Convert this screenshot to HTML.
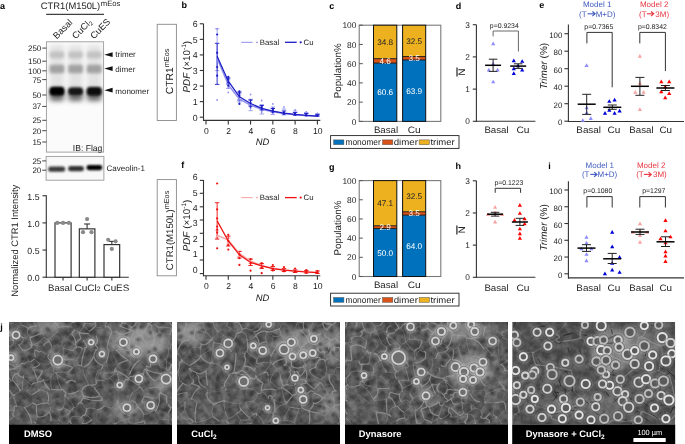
<!DOCTYPE html>
<html><head><meta charset="utf-8"><style>
html,body{margin:0;padding:0;background:#fff;}
svg{display:block;font-family:"Liberation Sans", sans-serif;text-rendering:geometricPrecision;will-change:transform;}
</style></head><body>
<svg width="685" height="444" viewBox="0 0 685 444">
<rect x="0" y="0" width="685" height="444" fill="#fff"/>
<text x="0.00" y="8.60" font-size="9" text-anchor="start" font-weight="bold" font-style="normal" fill="#000" >a</text>
<text x="181.50" y="8.20" font-size="9" text-anchor="start" font-weight="bold" font-style="normal" fill="#000" >b</text>
<text x="329.30" y="8.60" font-size="9" text-anchor="start" font-weight="bold" font-style="normal" fill="#000" >c</text>
<text x="455.70" y="9.20" font-size="9" text-anchor="start" font-weight="bold" font-style="normal" fill="#000" >d</text>
<text x="539.20" y="8.40" font-size="9" text-anchor="start" font-weight="bold" font-style="normal" fill="#000" >e</text>
<text x="181.20" y="167.80" font-size="9" text-anchor="start" font-weight="bold" font-style="normal" fill="#000" >f</text>
<text x="329.00" y="169.80" font-size="9" text-anchor="start" font-weight="bold" font-style="normal" fill="#000" >g</text>
<text x="455.60" y="169.00" font-size="9" text-anchor="start" font-weight="bold" font-style="normal" fill="#000" >h</text>
<text x="548.20" y="169.00" font-size="9" text-anchor="start" font-weight="bold" font-style="normal" fill="#000" >i</text>
<text x="0.20" y="330.20" font-size="9" text-anchor="start" font-weight="bold" font-style="normal" fill="#000" >j</text>
<text x="40.80" y="8.80" font-size="9.4" text-anchor="start" font-weight="normal" font-style="normal" fill="#222" >CTR1(M150L)<tspan font-size="7.7" dy="-3.2" dx="0.6">mEos</tspan></text>
<line x1="46.20" y1="14.30" x2="104.00" y2="14.30" stroke="#111" stroke-width="1" />
<text x="56.70" y="39.40" font-size="9.2" text-anchor="start" font-weight="normal" font-style="normal" fill="#222" transform="rotate(-45 56.7 39.4)">Basal</text>
<text x="75.70" y="39.40" font-size="9.2" text-anchor="start" font-weight="normal" font-style="normal" fill="#222" transform="rotate(-45 75.7 39.4)">CuCl<tspan font-size="6" dy="1.5">2</tspan></text>
<text x="93.90" y="39.40" font-size="9.2" text-anchor="start" font-weight="normal" font-style="normal" fill="#222" transform="rotate(-45 93.9 39.4)">CuES</text>
<defs><filter id="bl1" x="-50%" y="-50%" width="200%" height="200%"><feGaussianBlur stdDeviation="1.6"/></filter><filter id="bl2" x="-50%" y="-50%" width="200%" height="200%"><feGaussianBlur stdDeviation="1.0"/></filter><filter id="bl3" x="-50%" y="-50%" width="200%" height="200%"><feGaussianBlur stdDeviation="2.4"/></filter><clipPath id="cb1"><rect x="46.4" y="41.8" width="57.2" height="110.3"/></clipPath><clipPath id="cb2"><rect x="46.1" y="156.4" width="57.8" height="23.8"/></clipPath></defs>
<rect x="46.40" y="41.80" width="57.20" height="110.30" fill="#fbfbfb" stroke="none" stroke-width="1" />
<g clip-path="url(#cb1)">
<rect x="49.75" y="45" width="14.50" height="46" fill="#e2e2e2" filter="url(#bl3)"/>
<rect x="49.75" y="51.6" width="14.50" height="6.6" rx="2" fill="#c2c2c2" filter="url(#bl1)"/>
<rect x="49.55" y="64.8" width="14.90" height="8.4" rx="2" fill="#a2a2a2" filter="url(#bl1)"/>
<rect x="49.75" y="89" width="14.50" height="12" rx="3" fill="#6a6a6a" filter="url(#bl3)"/>
<rect x="49.55" y="86.80" width="14.90" height="8.8" rx="3.5" fill="#060606" filter="url(#bl2)"/>
<rect x="68.35" y="45" width="14.50" height="46" fill="#e2e2e2" filter="url(#bl3)"/>
<rect x="68.35" y="51.6" width="14.50" height="6.6" rx="2" fill="#c2c2c2" filter="url(#bl1)"/>
<rect x="68.15" y="64.8" width="14.90" height="8.4" rx="2" fill="#a2a2a2" filter="url(#bl1)"/>
<rect x="68.35" y="89" width="14.50" height="12" rx="3" fill="#6a6a6a" filter="url(#bl3)"/>
<rect x="68.15" y="87.40" width="14.90" height="7.6" rx="3.5" fill="#181818" filter="url(#bl2)"/>
<rect x="86.95" y="45" width="14.50" height="46" fill="#e2e2e2" filter="url(#bl3)"/>
<rect x="86.95" y="51.6" width="14.50" height="6.6" rx="2" fill="#c2c2c2" filter="url(#bl1)"/>
<rect x="86.75" y="64.8" width="14.90" height="8.4" rx="2" fill="#a2a2a2" filter="url(#bl1)"/>
<rect x="86.95" y="89" width="14.50" height="12" rx="3" fill="#6a6a6a" filter="url(#bl3)"/>
<rect x="86.75" y="86.90" width="14.90" height="8.6" rx="3.5" fill="#080808" filter="url(#bl2)"/>
</g>
<rect x="46.40" y="41.80" width="57.20" height="110.30" fill="none" stroke="#9a9a9a" stroke-width="0.9" />
<text x="41.30" y="51.00" font-size="8" text-anchor="end" font-weight="normal" font-style="normal" fill="#222" >250</text>
<line x1="42.20" y1="48.10" x2="46.40" y2="48.10" stroke="#333" stroke-width="0.9" />
<text x="41.30" y="64.10" font-size="8" text-anchor="end" font-weight="normal" font-style="normal" fill="#222" >150</text>
<line x1="42.20" y1="61.20" x2="46.40" y2="61.20" stroke="#333" stroke-width="0.9" />
<text x="41.30" y="73.70" font-size="8" text-anchor="end" font-weight="normal" font-style="normal" fill="#222" >100</text>
<line x1="42.20" y1="70.80" x2="46.40" y2="70.80" stroke="#333" stroke-width="0.9" />
<text x="41.30" y="82.50" font-size="8" text-anchor="end" font-weight="normal" font-style="normal" fill="#222" >75</text>
<line x1="42.20" y1="79.60" x2="46.40" y2="79.60" stroke="#333" stroke-width="0.9" />
<text x="41.30" y="97.90" font-size="8" text-anchor="end" font-weight="normal" font-style="normal" fill="#222" >50</text>
<line x1="42.20" y1="95.00" x2="46.40" y2="95.00" stroke="#333" stroke-width="0.9" />
<text x="41.30" y="109.30" font-size="8" text-anchor="end" font-weight="normal" font-style="normal" fill="#222" >37</text>
<line x1="42.20" y1="106.40" x2="46.40" y2="106.40" stroke="#333" stroke-width="0.9" />
<text x="41.30" y="123.20" font-size="8" text-anchor="end" font-weight="normal" font-style="normal" fill="#222" >25</text>
<line x1="42.20" y1="120.30" x2="46.40" y2="120.30" stroke="#333" stroke-width="0.9" />
<text x="41.30" y="133.60" font-size="8" text-anchor="end" font-weight="normal" font-style="normal" fill="#222" >20</text>
<line x1="42.20" y1="130.70" x2="46.40" y2="130.70" stroke="#333" stroke-width="0.9" />
<text x="41.30" y="144.90" font-size="8" text-anchor="end" font-weight="normal" font-style="normal" fill="#222" >15</text>
<line x1="42.20" y1="142.00" x2="46.40" y2="142.00" stroke="#333" stroke-width="0.9" />
<path d="M104.3 54.70 L112.6 52.30 L112.6 57.10 Z" fill="#111"/>
<text x="115.30" y="57.10" font-size="8" text-anchor="start" font-weight="normal" font-style="normal" fill="#222" >trimer</text>
<path d="M104.3 68.60 L112.6 66.20 L112.6 71.00 Z" fill="#111"/>
<text x="115.30" y="72.30" font-size="8" text-anchor="start" font-weight="normal" font-style="normal" fill="#222" >dimer</text>
<path d="M104.3 90.20 L112.6 87.80 L112.6 92.60 Z" fill="#111"/>
<text x="115.30" y="94.40" font-size="8" text-anchor="start" font-weight="normal" font-style="normal" fill="#222" >monomer</text>
<text x="102.40" y="150.60" font-size="8.6" text-anchor="end" font-weight="normal" font-style="normal" fill="#222" >IB: Flag</text>
<rect x="46.10" y="156.40" width="57.80" height="23.80" fill="#f8f8f8" stroke="none" stroke-width="1" />
<g clip-path="url(#cb2)">
<rect x="48.20" y="166.60" width="17.0" height="5.2" rx="2.4" fill="#3a3a3a" filter="url(#bl2)"/>
<rect x="68.10" y="166.10" width="15.8" height="5.2" rx="2.4" fill="#333" filter="url(#bl2)"/>
<rect x="86.50" y="165.00" width="15.8" height="5.2" rx="2.4" fill="#030303" filter="url(#bl2)"/>
</g>
<rect x="46.10" y="156.40" width="57.80" height="23.80" fill="none" stroke="#9a9a9a" stroke-width="0.9" />
<text x="41.30" y="163.80" font-size="8" text-anchor="end" font-weight="normal" font-style="normal" fill="#222" >25</text>
<line x1="42.20" y1="160.90" x2="46.10" y2="160.90" stroke="#333" stroke-width="0.9" />
<text x="41.30" y="173.10" font-size="8" text-anchor="end" font-weight="normal" font-style="normal" fill="#222" >20</text>
<line x1="42.20" y1="170.20" x2="46.10" y2="170.20" stroke="#333" stroke-width="0.9" />
<text x="106.60" y="171.30" font-size="8" text-anchor="start" font-weight="normal" font-style="normal" fill="#222" >Caveolin-1</text>
<line x1="46.30" y1="195.20" x2="46.30" y2="277.70" stroke="#333" stroke-width="1.1" />
<line x1="45.80" y1="277.20" x2="128.80" y2="277.20" stroke="#333" stroke-width="1.1" />
<line x1="42.50" y1="195.75" x2="46.30" y2="195.75" stroke="#333" stroke-width="1.1" />
<text x="39.60" y="199.85" font-size="8.8" text-anchor="end" font-weight="normal" font-style="normal" fill="#222" >1.5</text>
<line x1="42.50" y1="222.90" x2="46.30" y2="222.90" stroke="#333" stroke-width="1.1" />
<text x="39.60" y="227.00" font-size="8.8" text-anchor="end" font-weight="normal" font-style="normal" fill="#222" >1.0</text>
<line x1="42.50" y1="250.05" x2="46.30" y2="250.05" stroke="#333" stroke-width="1.1" />
<text x="39.60" y="254.15" font-size="8.8" text-anchor="end" font-weight="normal" font-style="normal" fill="#222" >0.5</text>
<line x1="42.50" y1="277.20" x2="46.30" y2="277.20" stroke="#333" stroke-width="1.1" />
<text x="39.60" y="281.30" font-size="8.8" text-anchor="end" font-weight="normal" font-style="normal" fill="#222" >0.0</text>
<rect x="55.00" y="222.90" width="16.10" height="54.30" fill="#fff" stroke="#222" stroke-width="1.1" />
<line x1="63.05" y1="277.20" x2="63.05" y2="280.50" stroke="#333" stroke-width="1.1" />
<circle cx="57.30" cy="222.90" r="2.1" fill="#8a8a8a"/>
<circle cx="63.10" cy="222.90" r="2.1" fill="#8a8a8a"/>
<circle cx="68.90" cy="222.90" r="2.1" fill="#8a8a8a"/>
<rect x="79.30" y="228.87" width="15.60" height="48.33" fill="#fff" stroke="#222" stroke-width="1.1" />
<line x1="87.10" y1="228.87" x2="87.10" y2="223.99" stroke="#333" stroke-width="1.1" />
<line x1="84.10" y1="223.99" x2="90.10" y2="223.99" stroke="#333" stroke-width="1.1" />
<line x1="87.10" y1="277.20" x2="87.10" y2="280.50" stroke="#333" stroke-width="1.1" />
<circle cx="87.10" cy="219.10" r="2.1" fill="#8a8a8a"/>
<circle cx="83.00" cy="232.13" r="2.1" fill="#8a8a8a"/>
<circle cx="91.50" cy="232.13" r="2.1" fill="#8a8a8a"/>
<rect x="104.00" y="244.62" width="15.70" height="32.58" fill="#fff" stroke="#222" stroke-width="1.1" />
<line x1="111.85" y1="244.62" x2="111.85" y2="241.36" stroke="#333" stroke-width="1.1" />
<line x1="108.85" y1="241.36" x2="114.85" y2="241.36" stroke="#333" stroke-width="1.1" />
<line x1="111.85" y1="277.20" x2="111.85" y2="280.50" stroke="#333" stroke-width="1.1" />
<circle cx="108.20" cy="239.73" r="2.1" fill="#8a8a8a"/>
<circle cx="115.60" cy="241.36" r="2.1" fill="#8a8a8a"/>
<circle cx="111.80" cy="248.96" r="2.1" fill="#8a8a8a"/>
<text x="48.00" y="290.50" font-size="9.3" fill="#222" textLength="24.10" lengthAdjust="spacingAndGlyphs" >Basal</text>
<text x="74.40" y="290.50" font-size="9.3" fill="#222" textLength="26.30" lengthAdjust="spacingAndGlyphs" >CuCl<tspan font-size="6.4">2</tspan></text>
<text x="103.50" y="290.50" font-size="9.3" fill="#222" textLength="25.80" lengthAdjust="spacingAndGlyphs" >CuES</text>
<text x="18.10" y="240.80" font-size="9.4" text-anchor="middle" font-weight="normal" font-style="normal" fill="#222" transform="rotate(-90 18.1 240.8)">Normalized CTR1 Intensity</text>
<rect x="157.20" y="24.30" width="19.20" height="96.20" fill="none" stroke="#8a8a8a" stroke-width="0.9" />
<line x1="203.50" y1="23.80" x2="203.50" y2="120.90" stroke="#333" stroke-width="1.1" />
<line x1="203.00" y1="120.40" x2="320.30" y2="120.40" stroke="#333" stroke-width="1.1" />
<line x1="199.80" y1="117.20" x2="203.50" y2="117.20" stroke="#333" stroke-width="1.1" />
<line x1="199.80" y1="101.63" x2="203.50" y2="101.63" stroke="#333" stroke-width="1.1" />
<line x1="199.80" y1="86.06" x2="203.50" y2="86.06" stroke="#333" stroke-width="1.1" />
<line x1="199.80" y1="70.49" x2="203.50" y2="70.49" stroke="#333" stroke-width="1.1" />
<line x1="199.80" y1="54.92" x2="203.50" y2="54.92" stroke="#333" stroke-width="1.1" />
<line x1="199.80" y1="39.35" x2="203.50" y2="39.35" stroke="#333" stroke-width="1.1" />
<line x1="199.80" y1="23.78" x2="203.50" y2="23.78" stroke="#333" stroke-width="1.1" />
<text x="197.60" y="120.70" font-size="8.8" text-anchor="end" font-weight="normal" font-style="normal" fill="#222" >0</text>
<text x="197.60" y="105.13" font-size="8.8" text-anchor="end" font-weight="normal" font-style="normal" fill="#222" >1</text>
<text x="197.60" y="89.56" font-size="8.8" text-anchor="end" font-weight="normal" font-style="normal" fill="#222" >2</text>
<text x="197.60" y="73.99" font-size="8.8" text-anchor="end" font-weight="normal" font-style="normal" fill="#222" >3</text>
<text x="197.60" y="58.42" font-size="8.8" text-anchor="end" font-weight="normal" font-style="normal" fill="#222" >4</text>
<text x="197.60" y="42.85" font-size="8.8" text-anchor="end" font-weight="normal" font-style="normal" fill="#222" >5</text>
<text x="197.60" y="27.28" font-size="8.8" text-anchor="end" font-weight="normal" font-style="normal" fill="#222" >6</text>
<line x1="206.00" y1="120.40" x2="206.00" y2="124.40" stroke="#333" stroke-width="1.1" />
<line x1="228.28" y1="120.40" x2="228.28" y2="124.40" stroke="#333" stroke-width="1.1" />
<line x1="250.56" y1="120.40" x2="250.56" y2="124.40" stroke="#333" stroke-width="1.1" />
<line x1="272.84" y1="120.40" x2="272.84" y2="124.40" stroke="#333" stroke-width="1.1" />
<line x1="295.12" y1="120.40" x2="295.12" y2="124.40" stroke="#333" stroke-width="1.1" />
<line x1="317.40" y1="120.40" x2="317.40" y2="124.40" stroke="#333" stroke-width="1.1" />
<text x="206.30" y="133.60" font-size="8.6" text-anchor="middle" font-weight="normal" font-style="normal" fill="#222" >0</text>
<text x="228.58" y="133.60" font-size="8.6" text-anchor="middle" font-weight="normal" font-style="normal" fill="#222" >2</text>
<text x="250.86" y="133.60" font-size="8.6" text-anchor="middle" font-weight="normal" font-style="normal" fill="#222" >4</text>
<text x="273.14" y="133.60" font-size="8.6" text-anchor="middle" font-weight="normal" font-style="normal" fill="#222" >6</text>
<text x="295.42" y="133.60" font-size="8.6" text-anchor="middle" font-weight="normal" font-style="normal" fill="#222" >8</text>
<text x="317.70" y="133.60" font-size="8.6" text-anchor="middle" font-weight="normal" font-style="normal" fill="#222" >10</text>
<text x="262.40" y="145.30" font-size="9.4" text-anchor="middle" font-weight="normal" font-style="italic" fill="#222" >ND</text>
<line x1="241.20" y1="42.30" x2="252.60" y2="42.30" stroke="#8f8fee" stroke-width="1.0" />
<circle cx="257.00" cy="42.30" r="0.9" fill="#8f8fee"/>
<text x="259.80" y="44.90" font-size="7.8" text-anchor="start" font-weight="normal" font-style="normal" fill="#222" >Basal</text>
<line x1="285.00" y1="42.30" x2="296.70" y2="42.30" stroke="#1c1cc4" stroke-width="1.3" />
<circle cx="300.70" cy="42.30" r="1.1" fill="#1c1cc4"/>
<text x="303.60" y="44.90" font-size="7.8" text-anchor="start" font-weight="normal" font-style="normal" fill="#222" >Cu</text>
<line x1="217.14" y1="28.70" x2="217.14" y2="70.60" stroke="#8f8fee" stroke-width="0.8" />
<line x1="214.94" y1="28.70" x2="219.34" y2="28.70" stroke="#8f8fee" stroke-width="0.8" />
<line x1="214.94" y1="70.60" x2="219.34" y2="70.60" stroke="#8f8fee" stroke-width="0.8" />
<line x1="228.28" y1="80.00" x2="228.28" y2="88.40" stroke="#8f8fee" stroke-width="0.8" />
<line x1="226.08" y1="80.00" x2="230.48" y2="80.00" stroke="#8f8fee" stroke-width="0.8" />
<line x1="226.08" y1="88.40" x2="230.48" y2="88.40" stroke="#8f8fee" stroke-width="0.8" />
<line x1="239.42" y1="94.00" x2="239.42" y2="101.90" stroke="#8f8fee" stroke-width="0.8" />
<line x1="237.22" y1="94.00" x2="241.62" y2="94.00" stroke="#8f8fee" stroke-width="0.8" />
<line x1="237.22" y1="101.90" x2="241.62" y2="101.90" stroke="#8f8fee" stroke-width="0.8" />
<line x1="250.56" y1="99.20" x2="250.56" y2="110.70" stroke="#8f8fee" stroke-width="0.8" />
<line x1="248.36" y1="99.20" x2="252.76" y2="99.20" stroke="#8f8fee" stroke-width="0.8" />
<line x1="248.36" y1="110.70" x2="252.76" y2="110.70" stroke="#8f8fee" stroke-width="0.8" />
<line x1="261.70" y1="104.60" x2="261.70" y2="114.00" stroke="#8f8fee" stroke-width="0.8" />
<line x1="259.50" y1="104.60" x2="263.90" y2="104.60" stroke="#8f8fee" stroke-width="0.8" />
<line x1="259.50" y1="114.00" x2="263.90" y2="114.00" stroke="#8f8fee" stroke-width="0.8" />
<line x1="272.84" y1="107.00" x2="272.84" y2="114.50" stroke="#8f8fee" stroke-width="0.8" />
<line x1="270.64" y1="107.00" x2="275.04" y2="107.00" stroke="#8f8fee" stroke-width="0.8" />
<line x1="270.64" y1="114.50" x2="275.04" y2="114.50" stroke="#8f8fee" stroke-width="0.8" />
<line x1="283.98" y1="109.00" x2="283.98" y2="115.00" stroke="#8f8fee" stroke-width="0.8" />
<line x1="281.78" y1="109.00" x2="286.18" y2="109.00" stroke="#8f8fee" stroke-width="0.8" />
<line x1="281.78" y1="115.00" x2="286.18" y2="115.00" stroke="#8f8fee" stroke-width="0.8" />
<line x1="295.12" y1="111.00" x2="295.12" y2="115.50" stroke="#8f8fee" stroke-width="0.8" />
<line x1="292.92" y1="111.00" x2="297.32" y2="111.00" stroke="#8f8fee" stroke-width="0.8" />
<line x1="292.92" y1="115.50" x2="297.32" y2="115.50" stroke="#8f8fee" stroke-width="0.8" />
<line x1="306.26" y1="112.50" x2="306.26" y2="116.00" stroke="#8f8fee" stroke-width="0.8" />
<line x1="304.06" y1="112.50" x2="308.46" y2="112.50" stroke="#8f8fee" stroke-width="0.8" />
<line x1="304.06" y1="116.00" x2="308.46" y2="116.00" stroke="#8f8fee" stroke-width="0.8" />
<line x1="317.40" y1="113.50" x2="317.40" y2="116.20" stroke="#8f8fee" stroke-width="0.8" />
<line x1="315.20" y1="113.50" x2="319.60" y2="113.50" stroke="#8f8fee" stroke-width="0.8" />
<line x1="315.20" y1="116.20" x2="319.60" y2="116.20" stroke="#8f8fee" stroke-width="0.8" />
<line x1="217.14" y1="43.30" x2="217.14" y2="84.40" stroke="#1c1cc4" stroke-width="0.9" />
<line x1="214.94" y1="43.30" x2="219.34" y2="43.30" stroke="#1c1cc4" stroke-width="0.9" />
<line x1="214.94" y1="84.40" x2="219.34" y2="84.40" stroke="#1c1cc4" stroke-width="0.9" />
<line x1="228.28" y1="78.00" x2="228.28" y2="84.00" stroke="#1c1cc4" stroke-width="0.9" />
<line x1="226.08" y1="78.00" x2="230.48" y2="78.00" stroke="#1c1cc4" stroke-width="0.9" />
<line x1="226.08" y1="84.00" x2="230.48" y2="84.00" stroke="#1c1cc4" stroke-width="0.9" />
<line x1="239.42" y1="92.00" x2="239.42" y2="100.00" stroke="#1c1cc4" stroke-width="0.9" />
<line x1="237.22" y1="92.00" x2="241.62" y2="92.00" stroke="#1c1cc4" stroke-width="0.9" />
<line x1="237.22" y1="100.00" x2="241.62" y2="100.00" stroke="#1c1cc4" stroke-width="0.9" />
<line x1="250.56" y1="100.00" x2="250.56" y2="106.00" stroke="#1c1cc4" stroke-width="0.9" />
<line x1="248.36" y1="100.00" x2="252.76" y2="100.00" stroke="#1c1cc4" stroke-width="0.9" />
<line x1="248.36" y1="106.00" x2="252.76" y2="106.00" stroke="#1c1cc4" stroke-width="0.9" />
<line x1="261.70" y1="105.50" x2="261.70" y2="110.00" stroke="#1c1cc4" stroke-width="0.9" />
<line x1="259.50" y1="105.50" x2="263.90" y2="105.50" stroke="#1c1cc4" stroke-width="0.9" />
<line x1="259.50" y1="110.00" x2="263.90" y2="110.00" stroke="#1c1cc4" stroke-width="0.9" />
<line x1="272.84" y1="108.50" x2="272.84" y2="112.00" stroke="#1c1cc4" stroke-width="0.9" />
<line x1="270.64" y1="108.50" x2="275.04" y2="108.50" stroke="#1c1cc4" stroke-width="0.9" />
<line x1="270.64" y1="112.00" x2="275.04" y2="112.00" stroke="#1c1cc4" stroke-width="0.9" />
<line x1="283.98" y1="111.00" x2="283.98" y2="114.00" stroke="#1c1cc4" stroke-width="0.9" />
<line x1="281.78" y1="111.00" x2="286.18" y2="111.00" stroke="#1c1cc4" stroke-width="0.9" />
<line x1="281.78" y1="114.00" x2="286.18" y2="114.00" stroke="#1c1cc4" stroke-width="0.9" />
<line x1="295.12" y1="112.50" x2="295.12" y2="115.00" stroke="#1c1cc4" stroke-width="0.9" />
<line x1="292.92" y1="112.50" x2="297.32" y2="112.50" stroke="#1c1cc4" stroke-width="0.9" />
<line x1="292.92" y1="115.00" x2="297.32" y2="115.00" stroke="#1c1cc4" stroke-width="0.9" />
<line x1="306.26" y1="113.50" x2="306.26" y2="115.50" stroke="#1c1cc4" stroke-width="0.9" />
<line x1="304.06" y1="113.50" x2="308.46" y2="113.50" stroke="#1c1cc4" stroke-width="0.9" />
<line x1="304.06" y1="115.50" x2="308.46" y2="115.50" stroke="#1c1cc4" stroke-width="0.9" />
<line x1="317.40" y1="114.50" x2="317.40" y2="116.00" stroke="#1c1cc4" stroke-width="0.9" />
<line x1="315.20" y1="114.50" x2="319.60" y2="114.50" stroke="#1c1cc4" stroke-width="0.9" />
<line x1="315.20" y1="116.00" x2="319.60" y2="116.00" stroke="#1c1cc4" stroke-width="0.9" />
<circle cx="217.14" cy="100.00" r="0.9" fill="#8f8fee"/>
<circle cx="217.14" cy="29.00" r="0.9" fill="#8f8fee"/>
<circle cx="217.14" cy="62.00" r="0.9" fill="#8f8fee"/>
<circle cx="228.28" cy="92.40" r="0.9" fill="#8f8fee"/>
<circle cx="228.28" cy="88.00" r="0.9" fill="#8f8fee"/>
<circle cx="239.42" cy="101.90" r="0.9" fill="#8f8fee"/>
<circle cx="239.42" cy="98.00" r="0.9" fill="#8f8fee"/>
<circle cx="250.56" cy="94.50" r="0.9" fill="#8f8fee"/>
<circle cx="250.56" cy="108.00" r="0.9" fill="#8f8fee"/>
<circle cx="261.70" cy="100.50" r="0.9" fill="#8f8fee"/>
<circle cx="261.70" cy="112.00" r="0.9" fill="#8f8fee"/>
<circle cx="272.84" cy="103.90" r="0.9" fill="#8f8fee"/>
<circle cx="272.84" cy="113.00" r="0.9" fill="#8f8fee"/>
<circle cx="283.98" cy="107.00" r="0.9" fill="#8f8fee"/>
<circle cx="283.98" cy="114.00" r="0.9" fill="#8f8fee"/>
<circle cx="295.12" cy="110.00" r="0.9" fill="#8f8fee"/>
<circle cx="295.12" cy="114.50" r="0.9" fill="#8f8fee"/>
<circle cx="306.26" cy="112.00" r="0.9" fill="#8f8fee"/>
<circle cx="306.26" cy="115.50" r="0.9" fill="#8f8fee"/>
<circle cx="317.40" cy="113.50" r="0.9" fill="#8f8fee"/>
<circle cx="317.40" cy="116.00" r="0.9" fill="#8f8fee"/>
<polyline points="217.14,58.35 228.28,84.81 239.42,99.14 250.56,105.06 261.70,109.42 272.84,111.75 283.98,113.62 295.12,114.71 306.26,115.64 317.40,116.27" fill="none" stroke="#8f8fee" stroke-width="1.4"/>
<polyline points="217.14,56.17 228.28,81.23 239.42,96.80 250.56,103.50 261.70,108.33 272.84,111.13 283.98,113.15 295.12,114.40 306.26,115.33 317.40,116.11" fill="none" stroke="#1c1cc4" stroke-width="1.25"/>
<circle cx="217.14" cy="34.50" r="1.1" fill="#1c1cc4"/>
<circle cx="217.14" cy="52.80" r="1.1" fill="#1c1cc4"/>
<circle cx="217.14" cy="67.00" r="1.1" fill="#1c1cc4"/>
<circle cx="217.14" cy="75.70" r="1.1" fill="#1c1cc4"/>
<circle cx="228.28" cy="76.90" r="1.1" fill="#1c1cc4"/>
<circle cx="228.28" cy="79.00" r="1.1" fill="#1c1cc4"/>
<circle cx="228.28" cy="82.30" r="1.1" fill="#1c1cc4"/>
<circle cx="228.28" cy="85.70" r="1.1" fill="#1c1cc4"/>
<circle cx="239.42" cy="91.40" r="1.1" fill="#1c1cc4"/>
<circle cx="239.42" cy="93.10" r="1.1" fill="#1c1cc4"/>
<circle cx="239.42" cy="95.80" r="1.1" fill="#1c1cc4"/>
<circle cx="239.42" cy="103.90" r="1.1" fill="#1c1cc4"/>
<circle cx="250.56" cy="103.20" r="1.1" fill="#1c1cc4"/>
<circle cx="250.56" cy="106.60" r="1.1" fill="#1c1cc4"/>
<circle cx="250.56" cy="100.50" r="1.1" fill="#1c1cc4"/>
<circle cx="261.70" cy="107.30" r="1.1" fill="#1c1cc4"/>
<circle cx="261.70" cy="109.30" r="1.1" fill="#1c1cc4"/>
<circle cx="261.70" cy="106.00" r="1.1" fill="#1c1cc4"/>
<circle cx="272.84" cy="110.00" r="1.1" fill="#1c1cc4"/>
<circle cx="272.84" cy="112.00" r="1.1" fill="#1c1cc4"/>
<circle cx="272.84" cy="108.50" r="1.1" fill="#1c1cc4"/>
<circle cx="283.98" cy="112.50" r="1.1" fill="#1c1cc4"/>
<circle cx="283.98" cy="113.80" r="1.1" fill="#1c1cc4"/>
<circle cx="295.12" cy="113.50" r="1.1" fill="#1c1cc4"/>
<circle cx="295.12" cy="114.80" r="1.1" fill="#1c1cc4"/>
<circle cx="306.26" cy="114.60" r="1.1" fill="#1c1cc4"/>
<circle cx="306.26" cy="115.50" r="1.1" fill="#1c1cc4"/>
<circle cx="317.40" cy="115.30" r="1.1" fill="#1c1cc4"/>
<circle cx="317.40" cy="116.00" r="1.1" fill="#1c1cc4"/>
<text x="173.20" y="72.00" font-size="10.3" text-anchor="middle" font-weight="normal" font-style="normal" fill="#222" transform="rotate(-90 172.6 72.0)">CTR1<tspan font-size="7.3" dy="-3.6">mEos</tspan></text>
<text x="189.60" y="66.70" font-size="9.9" text-anchor="middle" font-weight="normal" font-style="normal" fill="#222" transform="rotate(-90 189.6 66.7)"><tspan font-style="italic">PDF</tspan> (×10<tspan font-size="6.6" dy="-3.6">-1</tspan><tspan dy="3.6">)</tspan></text>
<rect x="157.20" y="179.60" width="19.20" height="96.20" fill="none" stroke="#8a8a8a" stroke-width="0.9" />
<line x1="203.50" y1="180.00" x2="203.50" y2="276.20" stroke="#333" stroke-width="1.1" />
<line x1="203.00" y1="275.70" x2="320.30" y2="275.70" stroke="#333" stroke-width="1.1" />
<line x1="199.80" y1="180.40" x2="203.50" y2="180.40" stroke="#333" stroke-width="1.1" />
<line x1="199.80" y1="193.30" x2="203.50" y2="193.30" stroke="#333" stroke-width="1.1" />
<line x1="199.80" y1="206.80" x2="203.50" y2="206.80" stroke="#333" stroke-width="1.1" />
<line x1="199.80" y1="220.00" x2="203.50" y2="220.00" stroke="#333" stroke-width="1.1" />
<line x1="199.80" y1="233.30" x2="203.50" y2="233.30" stroke="#333" stroke-width="1.1" />
<line x1="199.80" y1="246.60" x2="203.50" y2="246.60" stroke="#333" stroke-width="1.1" />
<line x1="199.80" y1="260.00" x2="203.50" y2="260.00" stroke="#333" stroke-width="1.1" />
<line x1="199.80" y1="273.60" x2="203.50" y2="273.60" stroke="#333" stroke-width="1.1" />
<text x="197.60" y="180.00" font-size="8.8" text-anchor="end" font-weight="normal" font-style="normal" fill="#222" >6</text>
<text x="197.60" y="196.30" font-size="8.8" text-anchor="end" font-weight="normal" font-style="normal" fill="#222" >5</text>
<text x="197.60" y="211.30" font-size="8.8" text-anchor="end" font-weight="normal" font-style="normal" fill="#222" >4</text>
<text x="197.60" y="226.20" font-size="8.8" text-anchor="end" font-weight="normal" font-style="normal" fill="#222" >3</text>
<text x="197.60" y="241.90" font-size="8.8" text-anchor="end" font-weight="normal" font-style="normal" fill="#222" >2</text>
<text x="197.60" y="257.40" font-size="8.8" text-anchor="end" font-weight="normal" font-style="normal" fill="#222" >1</text>
<text x="197.60" y="272.70" font-size="8.8" text-anchor="end" font-weight="normal" font-style="normal" fill="#222" >0</text>
<line x1="206.00" y1="275.70" x2="206.00" y2="279.70" stroke="#333" stroke-width="1.1" />
<line x1="228.28" y1="275.70" x2="228.28" y2="279.70" stroke="#333" stroke-width="1.1" />
<line x1="250.56" y1="275.70" x2="250.56" y2="279.70" stroke="#333" stroke-width="1.1" />
<line x1="272.84" y1="275.70" x2="272.84" y2="279.70" stroke="#333" stroke-width="1.1" />
<line x1="295.12" y1="275.70" x2="295.12" y2="279.70" stroke="#333" stroke-width="1.1" />
<line x1="317.40" y1="275.70" x2="317.40" y2="279.70" stroke="#333" stroke-width="1.1" />
<text x="206.30" y="288.90" font-size="8.6" text-anchor="middle" font-weight="normal" font-style="normal" fill="#222" >0</text>
<text x="228.58" y="288.90" font-size="8.6" text-anchor="middle" font-weight="normal" font-style="normal" fill="#222" >2</text>
<text x="250.86" y="288.90" font-size="8.6" text-anchor="middle" font-weight="normal" font-style="normal" fill="#222" >4</text>
<text x="273.14" y="288.90" font-size="8.6" text-anchor="middle" font-weight="normal" font-style="normal" fill="#222" >6</text>
<text x="295.42" y="288.90" font-size="8.6" text-anchor="middle" font-weight="normal" font-style="normal" fill="#222" >8</text>
<text x="317.70" y="288.90" font-size="8.6" text-anchor="middle" font-weight="normal" font-style="normal" fill="#222" >10</text>
<text x="262.40" y="300.60" font-size="9.4" text-anchor="middle" font-weight="normal" font-style="italic" fill="#222" >ND</text>
<line x1="241.20" y1="197.60" x2="252.60" y2="197.60" stroke="#f5a3a3" stroke-width="1.0" />
<circle cx="257.00" cy="197.60" r="0.9" fill="#f5a3a3"/>
<text x="259.80" y="200.20" font-size="7.8" text-anchor="start" font-weight="normal" font-style="normal" fill="#222" >Basal</text>
<line x1="285.00" y1="197.60" x2="296.70" y2="197.60" stroke="#ee1111" stroke-width="1.3" />
<circle cx="300.70" cy="197.60" r="1.1" fill="#ee1111"/>
<text x="303.60" y="200.20" font-size="7.8" text-anchor="start" font-weight="normal" font-style="normal" fill="#222" >Cu</text>
<line x1="217.14" y1="230.40" x2="217.14" y2="238.00" stroke="#f5a3a3" stroke-width="0.8" />
<line x1="214.94" y1="230.40" x2="219.34" y2="230.40" stroke="#f5a3a3" stroke-width="0.8" />
<line x1="214.94" y1="238.00" x2="219.34" y2="238.00" stroke="#f5a3a3" stroke-width="0.8" />
<line x1="228.28" y1="238.00" x2="228.28" y2="244.00" stroke="#f5a3a3" stroke-width="0.8" />
<line x1="226.08" y1="238.00" x2="230.48" y2="238.00" stroke="#f5a3a3" stroke-width="0.8" />
<line x1="226.08" y1="244.00" x2="230.48" y2="244.00" stroke="#f5a3a3" stroke-width="0.8" />
<line x1="239.42" y1="251.00" x2="239.42" y2="256.50" stroke="#f5a3a3" stroke-width="0.8" />
<line x1="237.22" y1="251.00" x2="241.62" y2="251.00" stroke="#f5a3a3" stroke-width="0.8" />
<line x1="237.22" y1="256.50" x2="241.62" y2="256.50" stroke="#f5a3a3" stroke-width="0.8" />
<line x1="250.56" y1="259.50" x2="250.56" y2="263.50" stroke="#f5a3a3" stroke-width="0.8" />
<line x1="248.36" y1="259.50" x2="252.76" y2="259.50" stroke="#f5a3a3" stroke-width="0.8" />
<line x1="248.36" y1="263.50" x2="252.76" y2="263.50" stroke="#f5a3a3" stroke-width="0.8" />
<line x1="261.70" y1="264.00" x2="261.70" y2="267.50" stroke="#f5a3a3" stroke-width="0.8" />
<line x1="259.50" y1="264.00" x2="263.90" y2="264.00" stroke="#f5a3a3" stroke-width="0.8" />
<line x1="259.50" y1="267.50" x2="263.90" y2="267.50" stroke="#f5a3a3" stroke-width="0.8" />
<line x1="272.84" y1="266.50" x2="272.84" y2="269.50" stroke="#f5a3a3" stroke-width="0.8" />
<line x1="270.64" y1="266.50" x2="275.04" y2="266.50" stroke="#f5a3a3" stroke-width="0.8" />
<line x1="270.64" y1="269.50" x2="275.04" y2="269.50" stroke="#f5a3a3" stroke-width="0.8" />
<line x1="283.98" y1="268.50" x2="283.98" y2="271.00" stroke="#f5a3a3" stroke-width="0.8" />
<line x1="281.78" y1="268.50" x2="286.18" y2="268.50" stroke="#f5a3a3" stroke-width="0.8" />
<line x1="281.78" y1="271.00" x2="286.18" y2="271.00" stroke="#f5a3a3" stroke-width="0.8" />
<line x1="295.12" y1="269.50" x2="295.12" y2="272.00" stroke="#f5a3a3" stroke-width="0.8" />
<line x1="292.92" y1="269.50" x2="297.32" y2="269.50" stroke="#f5a3a3" stroke-width="0.8" />
<line x1="292.92" y1="272.00" x2="297.32" y2="272.00" stroke="#f5a3a3" stroke-width="0.8" />
<line x1="306.26" y1="270.50" x2="306.26" y2="272.50" stroke="#f5a3a3" stroke-width="0.8" />
<line x1="304.06" y1="270.50" x2="308.46" y2="270.50" stroke="#f5a3a3" stroke-width="0.8" />
<line x1="304.06" y1="272.50" x2="308.46" y2="272.50" stroke="#f5a3a3" stroke-width="0.8" />
<line x1="317.40" y1="271.00" x2="317.40" y2="273.00" stroke="#f5a3a3" stroke-width="0.8" />
<line x1="315.20" y1="271.00" x2="319.60" y2="271.00" stroke="#f5a3a3" stroke-width="0.8" />
<line x1="315.20" y1="273.00" x2="319.60" y2="273.00" stroke="#f5a3a3" stroke-width="0.8" />
<line x1="217.14" y1="202.70" x2="217.14" y2="239.10" stroke="#ee1111" stroke-width="0.9" />
<line x1="214.94" y1="202.70" x2="219.34" y2="202.70" stroke="#ee1111" stroke-width="0.9" />
<line x1="214.94" y1="239.10" x2="219.34" y2="239.10" stroke="#ee1111" stroke-width="0.9" />
<line x1="228.28" y1="236.20" x2="228.28" y2="246.00" stroke="#ee1111" stroke-width="0.9" />
<line x1="226.08" y1="236.20" x2="230.48" y2="236.20" stroke="#ee1111" stroke-width="0.9" />
<line x1="226.08" y1="246.00" x2="230.48" y2="246.00" stroke="#ee1111" stroke-width="0.9" />
<line x1="239.42" y1="251.50" x2="239.42" y2="258.00" stroke="#ee1111" stroke-width="0.9" />
<line x1="237.22" y1="251.50" x2="241.62" y2="251.50" stroke="#ee1111" stroke-width="0.9" />
<line x1="237.22" y1="258.00" x2="241.62" y2="258.00" stroke="#ee1111" stroke-width="0.9" />
<line x1="250.56" y1="259.00" x2="250.56" y2="265.50" stroke="#ee1111" stroke-width="0.9" />
<line x1="248.36" y1="259.00" x2="252.76" y2="259.00" stroke="#ee1111" stroke-width="0.9" />
<line x1="248.36" y1="265.50" x2="252.76" y2="265.50" stroke="#ee1111" stroke-width="0.9" />
<line x1="261.70" y1="263.50" x2="261.70" y2="268.50" stroke="#ee1111" stroke-width="0.9" />
<line x1="259.50" y1="263.50" x2="263.90" y2="263.50" stroke="#ee1111" stroke-width="0.9" />
<line x1="259.50" y1="268.50" x2="263.90" y2="268.50" stroke="#ee1111" stroke-width="0.9" />
<line x1="272.84" y1="266.50" x2="272.84" y2="270.50" stroke="#ee1111" stroke-width="0.9" />
<line x1="270.64" y1="266.50" x2="275.04" y2="266.50" stroke="#ee1111" stroke-width="0.9" />
<line x1="270.64" y1="270.50" x2="275.04" y2="270.50" stroke="#ee1111" stroke-width="0.9" />
<line x1="283.98" y1="268.50" x2="283.98" y2="271.50" stroke="#ee1111" stroke-width="0.9" />
<line x1="281.78" y1="268.50" x2="286.18" y2="268.50" stroke="#ee1111" stroke-width="0.9" />
<line x1="281.78" y1="271.50" x2="286.18" y2="271.50" stroke="#ee1111" stroke-width="0.9" />
<line x1="295.12" y1="270.00" x2="295.12" y2="272.50" stroke="#ee1111" stroke-width="0.9" />
<line x1="292.92" y1="270.00" x2="297.32" y2="270.00" stroke="#ee1111" stroke-width="0.9" />
<line x1="292.92" y1="272.50" x2="297.32" y2="272.50" stroke="#ee1111" stroke-width="0.9" />
<line x1="306.26" y1="270.50" x2="306.26" y2="273.00" stroke="#ee1111" stroke-width="0.9" />
<line x1="304.06" y1="270.50" x2="308.46" y2="270.50" stroke="#ee1111" stroke-width="0.9" />
<line x1="304.06" y1="273.00" x2="308.46" y2="273.00" stroke="#ee1111" stroke-width="0.9" />
<line x1="317.40" y1="271.00" x2="317.40" y2="273.50" stroke="#ee1111" stroke-width="0.9" />
<line x1="315.20" y1="271.00" x2="319.60" y2="271.00" stroke="#ee1111" stroke-width="0.9" />
<line x1="315.20" y1="273.50" x2="319.60" y2="273.50" stroke="#ee1111" stroke-width="0.9" />
<circle cx="217.14" cy="232.00" r="0.9" fill="#f5a3a3"/>
<circle cx="217.14" cy="236.00" r="0.9" fill="#f5a3a3"/>
<circle cx="228.28" cy="243.00" r="0.9" fill="#f5a3a3"/>
<circle cx="239.42" cy="256.00" r="0.9" fill="#f5a3a3"/>
<circle cx="250.56" cy="262.00" r="0.9" fill="#f5a3a3"/>
<circle cx="261.70" cy="266.00" r="0.9" fill="#f5a3a3"/>
<circle cx="272.84" cy="268.00" r="0.9" fill="#f5a3a3"/>
<circle cx="283.98" cy="269.50" r="0.9" fill="#f5a3a3"/>
<circle cx="295.12" cy="270.50" r="0.9" fill="#f5a3a3"/>
<circle cx="306.26" cy="271.50" r="0.9" fill="#f5a3a3"/>
<circle cx="317.40" cy="272.00" r="0.9" fill="#f5a3a3"/>
<polyline points="217.14,235.20 228.28,240.00 239.42,253.50 250.56,261.00 261.70,265.60 272.84,268.20 283.98,269.90 295.12,271.00 306.26,271.80 317.40,272.40" fill="none" stroke="#f5a3a3" stroke-width="1.4"/>
<polyline points="217.14,220.90 228.28,241.00 239.42,254.80 250.56,262.40 261.70,265.90 272.84,268.60 283.98,270.20 295.12,271.20 306.26,272.00 317.40,272.60" fill="none" stroke="#ee1111" stroke-width="1.25"/>
<circle cx="217.14" cy="183.50" r="1.1" fill="#ee1111"/>
<circle cx="217.14" cy="209.40" r="1.1" fill="#ee1111"/>
<circle cx="217.14" cy="218.40" r="1.1" fill="#ee1111"/>
<circle cx="217.14" cy="226.60" r="1.1" fill="#ee1111"/>
<circle cx="217.14" cy="229.50" r="1.1" fill="#ee1111"/>
<circle cx="217.14" cy="232.40" r="1.1" fill="#ee1111"/>
<circle cx="217.14" cy="248.30" r="1.1" fill="#ee1111"/>
<circle cx="228.28" cy="234.80" r="1.1" fill="#ee1111"/>
<circle cx="228.28" cy="241.00" r="1.1" fill="#ee1111"/>
<circle cx="228.28" cy="245.20" r="1.1" fill="#ee1111"/>
<circle cx="228.28" cy="249.60" r="1.1" fill="#ee1111"/>
<circle cx="239.42" cy="254.40" r="1.1" fill="#ee1111"/>
<circle cx="239.42" cy="258.20" r="1.1" fill="#ee1111"/>
<circle cx="239.42" cy="264.90" r="1.1" fill="#ee1111"/>
<circle cx="250.56" cy="259.20" r="1.1" fill="#ee1111"/>
<circle cx="250.56" cy="263.60" r="1.1" fill="#ee1111"/>
<circle cx="250.56" cy="270.70" r="1.1" fill="#ee1111"/>
<circle cx="261.70" cy="263.00" r="1.1" fill="#ee1111"/>
<circle cx="261.70" cy="267.40" r="1.1" fill="#ee1111"/>
<circle cx="261.70" cy="273.20" r="1.1" fill="#ee1111"/>
<circle cx="272.84" cy="265.00" r="1.1" fill="#ee1111"/>
<circle cx="272.84" cy="269.00" r="1.1" fill="#ee1111"/>
<circle cx="272.84" cy="270.40" r="1.1" fill="#ee1111"/>
<circle cx="283.98" cy="267.10" r="1.1" fill="#ee1111"/>
<circle cx="283.98" cy="270.00" r="1.1" fill="#ee1111"/>
<circle cx="283.98" cy="271.30" r="1.1" fill="#ee1111"/>
<circle cx="295.12" cy="268.50" r="1.1" fill="#ee1111"/>
<circle cx="295.12" cy="271.00" r="1.1" fill="#ee1111"/>
<circle cx="295.12" cy="272.00" r="1.1" fill="#ee1111"/>
<circle cx="306.26" cy="270.00" r="1.1" fill="#ee1111"/>
<circle cx="306.26" cy="271.50" r="1.1" fill="#ee1111"/>
<circle cx="306.26" cy="273.00" r="1.1" fill="#ee1111"/>
<circle cx="317.40" cy="271.00" r="1.1" fill="#ee1111"/>
<circle cx="317.40" cy="272.50" r="1.1" fill="#ee1111"/>
<circle cx="317.40" cy="273.00" r="1.1" fill="#ee1111"/>
<text x="172.60" y="230.40" font-size="9.6" text-anchor="middle" font-weight="normal" font-style="normal" fill="#222" transform="rotate(-90 172.6 230.4)">CTR1(M150L)<tspan font-size="7.3" dy="-3.6">mEos</tspan></text>
<text x="189.60" y="225.50" font-size="9.9" text-anchor="middle" font-weight="normal" font-style="normal" fill="#222" transform="rotate(-90 189.6 225.5)"><tspan font-style="italic">PDF</tspan> (×10<tspan font-size="6.6" dy="-3.6">-1</tspan><tspan dy="3.6">)</tspan></text>
<rect x="359.20" y="25.20" width="81.60" height="96.20" fill="#fff" stroke="#7a7a7a" stroke-width="1.1" />
<line x1="359.20" y1="121.40" x2="362.80" y2="121.40" stroke="#555" stroke-width="1.0" />
<text x="356.40" y="124.50" font-size="8.4" text-anchor="end" font-weight="normal" font-style="normal" fill="#222" >0</text>
<line x1="359.20" y1="102.16" x2="362.80" y2="102.16" stroke="#555" stroke-width="1.0" />
<text x="356.40" y="105.26" font-size="8.4" text-anchor="end" font-weight="normal" font-style="normal" fill="#222" >20</text>
<line x1="359.20" y1="82.92" x2="362.80" y2="82.92" stroke="#555" stroke-width="1.0" />
<text x="356.40" y="86.02" font-size="8.4" text-anchor="end" font-weight="normal" font-style="normal" fill="#222" >40</text>
<line x1="359.20" y1="63.68" x2="362.80" y2="63.68" stroke="#555" stroke-width="1.0" />
<text x="356.40" y="66.78" font-size="8.4" text-anchor="end" font-weight="normal" font-style="normal" fill="#222" >60</text>
<line x1="359.20" y1="44.44" x2="362.80" y2="44.44" stroke="#555" stroke-width="1.0" />
<text x="356.40" y="47.54" font-size="8.4" text-anchor="end" font-weight="normal" font-style="normal" fill="#222" >80</text>
<line x1="359.20" y1="25.20" x2="362.80" y2="25.20" stroke="#555" stroke-width="1.0" />
<text x="356.40" y="28.30" font-size="8.4" text-anchor="end" font-weight="normal" font-style="normal" fill="#222" >100</text>
<rect x="373.50" y="63.10" width="23.30" height="58.30" fill="#0072BD" stroke="none" stroke-width="1" />
<rect x="373.50" y="58.68" width="23.30" height="4.43" fill="#D95319" stroke="none" stroke-width="1" />
<rect x="373.50" y="25.20" width="23.30" height="33.48" fill="#EDB120" stroke="none" stroke-width="1" />
<line x1="373.50" y1="63.10" x2="396.80" y2="63.10" stroke="#111" stroke-width="0.9" />
<line x1="373.50" y1="58.68" x2="396.80" y2="58.68" stroke="#111" stroke-width="0.9" />
<rect x="373.50" y="25.20" width="23.30" height="96.20" fill="none" stroke="#111" stroke-width="1.0" />
<text x="385.15" y="44.94" font-size="8.2" text-anchor="middle" font-weight="normal" font-style="normal" fill="#222" >34.8</text>
<text x="385.15" y="63.89" font-size="8.2" text-anchor="middle" font-weight="normal" font-style="normal" fill="#fff" >4.6</text>
<text x="385.15" y="95.25" font-size="8.2" text-anchor="middle" font-weight="normal" font-style="normal" fill="#fff" >60.6</text>
<rect x="402.60" y="59.93" width="23.10" height="61.47" fill="#0072BD" stroke="none" stroke-width="1" />
<rect x="402.60" y="56.56" width="23.10" height="3.37" fill="#D95319" stroke="none" stroke-width="1" />
<rect x="402.60" y="25.20" width="23.10" height="31.36" fill="#EDB120" stroke="none" stroke-width="1" />
<line x1="402.60" y1="59.93" x2="425.70" y2="59.93" stroke="#111" stroke-width="0.9" />
<line x1="402.60" y1="56.56" x2="425.70" y2="56.56" stroke="#111" stroke-width="0.9" />
<rect x="402.60" y="25.20" width="23.10" height="96.20" fill="none" stroke="#111" stroke-width="1.0" />
<text x="414.15" y="43.88" font-size="8.2" text-anchor="middle" font-weight="normal" font-style="normal" fill="#222" >32.5</text>
<text x="414.15" y="61.24" font-size="8.2" text-anchor="middle" font-weight="normal" font-style="normal" fill="#fff" >3.5</text>
<text x="414.15" y="93.66" font-size="8.2" text-anchor="middle" font-weight="normal" font-style="normal" fill="#fff" >63.9</text>
<text x="373.90" y="133.10" font-size="9.3" fill="#222" textLength="24.30" lengthAdjust="spacingAndGlyphs" >Basal</text>
<text x="407.70" y="133.10" font-size="9.3" fill="#222" textLength="12.90" lengthAdjust="spacingAndGlyphs" >Cu</text>
<rect x="330.60" y="135.60" width="128.40" height="12.80" fill="#fff" stroke="#222" stroke-width="0.9" />
<rect x="333.60" y="139.90" width="10.30" height="4.80" fill="#0072BD" stroke="#555" stroke-width="0.5" />
<text x="345.50" y="145.20" font-size="8.8" text-anchor="start" font-weight="normal" font-style="normal" fill="#222" textLength="35.3" lengthAdjust="spacingAndGlyphs">monomer</text>
<rect x="382.50" y="139.90" width="10.30" height="4.80" fill="#D95319" stroke="#555" stroke-width="0.5" />
<text x="393.70" y="145.20" font-size="8.8" text-anchor="start" font-weight="normal" font-style="normal" fill="#222" textLength="24.2" lengthAdjust="spacingAndGlyphs">dimer</text>
<rect x="419.10" y="139.90" width="10.30" height="4.80" fill="#EDB120" stroke="#555" stroke-width="0.5" />
<text x="430.40" y="145.20" font-size="8.8" text-anchor="start" font-weight="normal" font-style="normal" fill="#222" textLength="24.3" lengthAdjust="spacingAndGlyphs">trimer</text>
<rect x="359.20" y="180.60" width="81.60" height="95.90" fill="#fff" stroke="#7a7a7a" stroke-width="1.1" />
<line x1="359.20" y1="276.50" x2="362.80" y2="276.50" stroke="#555" stroke-width="1.0" />
<text x="356.40" y="279.60" font-size="8.4" text-anchor="end" font-weight="normal" font-style="normal" fill="#222" >0</text>
<line x1="359.20" y1="257.32" x2="362.80" y2="257.32" stroke="#555" stroke-width="1.0" />
<text x="356.40" y="260.42" font-size="8.4" text-anchor="end" font-weight="normal" font-style="normal" fill="#222" >20</text>
<line x1="359.20" y1="238.14" x2="362.80" y2="238.14" stroke="#555" stroke-width="1.0" />
<text x="356.40" y="241.24" font-size="8.4" text-anchor="end" font-weight="normal" font-style="normal" fill="#222" >40</text>
<line x1="359.20" y1="218.96" x2="362.80" y2="218.96" stroke="#555" stroke-width="1.0" />
<text x="356.40" y="222.06" font-size="8.4" text-anchor="end" font-weight="normal" font-style="normal" fill="#222" >60</text>
<line x1="359.20" y1="199.78" x2="362.80" y2="199.78" stroke="#555" stroke-width="1.0" />
<text x="356.40" y="202.88" font-size="8.4" text-anchor="end" font-weight="normal" font-style="normal" fill="#222" >80</text>
<line x1="359.20" y1="180.60" x2="362.80" y2="180.60" stroke="#555" stroke-width="1.0" />
<text x="356.40" y="183.70" font-size="8.4" text-anchor="end" font-weight="normal" font-style="normal" fill="#222" >100</text>
<rect x="373.50" y="228.55" width="23.30" height="47.95" fill="#0072BD" stroke="none" stroke-width="1" />
<rect x="373.50" y="225.77" width="23.30" height="2.78" fill="#D95319" stroke="none" stroke-width="1" />
<rect x="373.50" y="180.60" width="23.30" height="45.17" fill="#EDB120" stroke="none" stroke-width="1" />
<line x1="373.50" y1="228.55" x2="396.80" y2="228.55" stroke="#111" stroke-width="0.9" />
<line x1="373.50" y1="225.77" x2="396.80" y2="225.77" stroke="#111" stroke-width="0.9" />
<rect x="373.50" y="180.60" width="23.30" height="95.90" fill="none" stroke="#111" stroke-width="1.0" />
<text x="385.15" y="206.18" font-size="8.2" text-anchor="middle" font-weight="normal" font-style="normal" fill="#222" >47.1</text>
<text x="385.15" y="230.16" font-size="8.2" text-anchor="middle" font-weight="normal" font-style="normal" fill="#fff" >2.9</text>
<text x="385.15" y="255.53" font-size="8.2" text-anchor="middle" font-weight="normal" font-style="normal" fill="#fff" >50.0</text>
<rect x="402.60" y="215.12" width="23.10" height="61.38" fill="#0072BD" stroke="none" stroke-width="1" />
<rect x="402.60" y="211.77" width="23.10" height="3.36" fill="#D95319" stroke="none" stroke-width="1" />
<rect x="402.60" y="180.60" width="23.10" height="31.17" fill="#EDB120" stroke="none" stroke-width="1" />
<line x1="402.60" y1="215.12" x2="425.70" y2="215.12" stroke="#111" stroke-width="0.9" />
<line x1="402.60" y1="211.77" x2="425.70" y2="211.77" stroke="#111" stroke-width="0.9" />
<rect x="402.60" y="180.60" width="23.10" height="95.90" fill="none" stroke="#111" stroke-width="1.0" />
<text x="414.15" y="199.18" font-size="8.2" text-anchor="middle" font-weight="normal" font-style="normal" fill="#222" >32.5</text>
<text x="414.15" y="216.45" font-size="8.2" text-anchor="middle" font-weight="normal" font-style="normal" fill="#fff" >3.5</text>
<text x="414.15" y="248.81" font-size="8.2" text-anchor="middle" font-weight="normal" font-style="normal" fill="#fff" >64.0</text>
<text x="373.90" y="288.20" font-size="9.3" fill="#222" textLength="24.30" lengthAdjust="spacingAndGlyphs" >Basal</text>
<text x="407.70" y="288.20" font-size="9.3" fill="#222" textLength="12.90" lengthAdjust="spacingAndGlyphs" >Cu</text>
<rect x="330.60" y="293.20" width="128.40" height="12.80" fill="#fff" stroke="#222" stroke-width="0.9" />
<rect x="333.60" y="297.50" width="10.30" height="4.80" fill="#0072BD" stroke="#555" stroke-width="0.5" />
<text x="345.50" y="302.80" font-size="8.8" text-anchor="start" font-weight="normal" font-style="normal" fill="#222" textLength="35.3" lengthAdjust="spacingAndGlyphs">monomer</text>
<rect x="382.50" y="297.50" width="10.30" height="4.80" fill="#D95319" stroke="#555" stroke-width="0.5" />
<text x="393.70" y="302.80" font-size="8.8" text-anchor="start" font-weight="normal" font-style="normal" fill="#222" textLength="24.2" lengthAdjust="spacingAndGlyphs">dimer</text>
<rect x="419.10" y="297.50" width="10.30" height="4.80" fill="#EDB120" stroke="#555" stroke-width="0.5" />
<text x="430.40" y="302.80" font-size="8.8" text-anchor="start" font-weight="normal" font-style="normal" fill="#222" textLength="24.3" lengthAdjust="spacingAndGlyphs">trimer</text>
<text x="341.00" y="70.80" font-size="9.8" text-anchor="middle" font-weight="normal" font-style="normal" fill="#222" transform="rotate(-90 341.0 70.8)">Population%</text>
<text x="341.00" y="228.00" font-size="9.8" text-anchor="middle" font-weight="normal" font-style="normal" fill="#222" transform="rotate(-90 341.0 228.0)">Population%</text>
<line x1="476.40" y1="24.70" x2="476.40" y2="121.80" stroke="#333" stroke-width="1.1" />
<line x1="476.00" y1="121.30" x2="535.40" y2="121.30" stroke="#333" stroke-width="1.1" />
<line x1="472.80" y1="121.30" x2="476.40" y2="121.30" stroke="#333" stroke-width="1.1" />
<text x="469.80" y="124.30" font-size="8.3" text-anchor="end" font-weight="normal" font-style="normal" fill="#222" >0</text>
<line x1="472.80" y1="89.10" x2="476.40" y2="89.10" stroke="#333" stroke-width="1.1" />
<text x="469.80" y="92.10" font-size="8.3" text-anchor="end" font-weight="normal" font-style="normal" fill="#222" >1</text>
<line x1="472.80" y1="56.90" x2="476.40" y2="56.90" stroke="#333" stroke-width="1.1" />
<text x="469.80" y="59.90" font-size="8.3" text-anchor="end" font-weight="normal" font-style="normal" fill="#222" >2</text>
<line x1="472.80" y1="24.70" x2="476.40" y2="24.70" stroke="#333" stroke-width="1.1" />
<text x="469.80" y="27.70" font-size="8.3" text-anchor="end" font-weight="normal" font-style="normal" fill="#222" >3</text>
<text x="484.40" y="132.80" font-size="9.3" fill="#222" textLength="24.30" lengthAdjust="spacingAndGlyphs" >Basal</text>
<text x="516.40" y="132.80" font-size="9.3" fill="#222" textLength="13.00" lengthAdjust="spacingAndGlyphs" >Cu</text>
<path d="M493.1 36.40 L493.1 31.00 L518.4 31.00 L518.4 51.50" fill="none" stroke="#6a6a6a" stroke-width="1.0"/>
<text x="504.30" y="27.80" font-size="6.9" text-anchor="middle" font-weight="normal" font-style="normal" fill="#222" >p=0.9234</text>
<path d="M491.10 45.23 L495.30 45.23 L493.20 41.57 Z" fill="#8c8cff"/>
<path d="M491.10 65.43 L495.30 65.43 L493.20 61.77 Z" fill="#8c8cff"/>
<path d="M486.70 71.53 L490.90 71.53 L488.80 67.87 Z" fill="#8c8cff"/>
<path d="M495.50 71.53 L499.70 71.53 L497.60 67.87 Z" fill="#8c8cff"/>
<path d="M491.10 83.33 L495.30 83.33 L493.20 79.67 Z" fill="#8c8cff"/>
<path d="M511.70 62.13 L515.90 62.13 L513.80 58.47 Z" fill="#0000d8"/>
<path d="M520.10 62.83 L524.30 62.83 L522.20 59.17 Z" fill="#0000d8"/>
<path d="M515.90 67.33 L520.10 67.33 L518.00 63.67 Z" fill="#0000d8"/>
<path d="M511.70 70.23 L515.90 70.23 L513.80 66.57 Z" fill="#0000d8"/>
<path d="M520.10 71.53 L524.30 71.53 L522.20 67.87 Z" fill="#0000d8"/>
<path d="M511.70 74.93 L515.90 74.93 L513.80 71.27 Z" fill="#0000d8"/>
<line x1="493.10" y1="59.20" x2="493.10" y2="71.40" stroke="#222" stroke-width="1.0" />
<line x1="488.80" y1="59.20" x2="497.40" y2="59.20" stroke="#222" stroke-width="1.0" />
<line x1="488.80" y1="71.40" x2="497.40" y2="71.40" stroke="#222" stroke-width="1.0" />
<line x1="485.10" y1="65.30" x2="501.10" y2="65.30" stroke="#000" stroke-width="1.5" />
<line x1="518.20" y1="63.80" x2="518.20" y2="68.40" stroke="#222" stroke-width="1.0" />
<line x1="513.90" y1="63.80" x2="522.50" y2="63.80" stroke="#222" stroke-width="1.0" />
<line x1="513.90" y1="68.40" x2="522.50" y2="68.40" stroke="#222" stroke-width="1.0" />
<line x1="510.20" y1="66.10" x2="526.20" y2="66.10" stroke="#000" stroke-width="1.5" />
<line x1="476.40" y1="180.80" x2="476.40" y2="277.80" stroke="#333" stroke-width="1.1" />
<line x1="476.00" y1="277.30" x2="535.40" y2="277.30" stroke="#333" stroke-width="1.1" />
<line x1="472.80" y1="277.30" x2="476.40" y2="277.30" stroke="#333" stroke-width="1.1" />
<text x="469.80" y="280.30" font-size="8.3" text-anchor="end" font-weight="normal" font-style="normal" fill="#222" >0</text>
<line x1="472.80" y1="245.13" x2="476.40" y2="245.13" stroke="#333" stroke-width="1.1" />
<text x="469.80" y="248.13" font-size="8.3" text-anchor="end" font-weight="normal" font-style="normal" fill="#222" >1</text>
<line x1="472.80" y1="212.97" x2="476.40" y2="212.97" stroke="#333" stroke-width="1.1" />
<text x="469.80" y="215.97" font-size="8.3" text-anchor="end" font-weight="normal" font-style="normal" fill="#222" >2</text>
<line x1="472.80" y1="180.80" x2="476.40" y2="180.80" stroke="#333" stroke-width="1.1" />
<text x="469.80" y="183.80" font-size="8.3" text-anchor="end" font-weight="normal" font-style="normal" fill="#222" >3</text>
<text x="484.40" y="290.70" font-size="9.3" fill="#222" textLength="24.30" lengthAdjust="spacingAndGlyphs" >Basal</text>
<text x="516.40" y="290.70" font-size="9.3" fill="#222" textLength="13.00" lengthAdjust="spacingAndGlyphs" >Cu</text>
<path d="M495.2 192.80 L495.2 188.30 L520.6 188.30 L520.6 192.80" fill="none" stroke="#333" stroke-width="1.0"/>
<text x="508.90" y="185.20" font-size="6.9" text-anchor="middle" font-weight="normal" font-style="normal" fill="#222" >p=0.1223</text>
<path d="M493.00 208.63 L497.20 208.63 L495.10 204.97 Z" fill="#f7a3a3"/>
<path d="M493.00 214.13 L497.20 214.13 L495.10 210.47 Z" fill="#f7a3a3"/>
<path d="M485.90 216.03 L490.10 216.03 L488.00 212.37 Z" fill="#f7a3a3"/>
<path d="M499.90 216.03 L504.10 216.03 L502.00 212.37 Z" fill="#f7a3a3"/>
<path d="M493.00 223.43 L497.20 223.43 L495.10 219.77 Z" fill="#f7a3a3"/>
<path d="M517.80 206.73 L522.00 206.73 L519.90 203.07 Z" fill="#ff0000"/>
<path d="M517.80 214.83 L522.00 214.83 L519.90 211.17 Z" fill="#ff0000"/>
<path d="M512.40 221.63 L516.60 221.63 L514.50 217.97 Z" fill="#ff0000"/>
<path d="M522.50 220.33 L526.70 220.33 L524.60 216.67 Z" fill="#ff0000"/>
<path d="M522.50 225.33 L526.70 225.33 L524.60 221.67 Z" fill="#ff0000"/>
<path d="M517.80 230.33 L522.00 230.33 L519.90 226.67 Z" fill="#ff0000"/>
<path d="M517.80 235.23 L522.00 235.23 L519.90 231.57 Z" fill="#ff0000"/>
<path d="M517.80 239.63 L522.00 239.63 L519.90 235.97 Z" fill="#ff0000"/>
<line x1="495.10" y1="212.30" x2="495.10" y2="216.10" stroke="#222" stroke-width="1.0" />
<line x1="490.80" y1="212.30" x2="499.40" y2="212.30" stroke="#222" stroke-width="1.0" />
<line x1="490.80" y1="216.10" x2="499.40" y2="216.10" stroke="#222" stroke-width="1.0" />
<line x1="487.10" y1="214.20" x2="503.10" y2="214.20" stroke="#000" stroke-width="1.5" />
<line x1="519.90" y1="218.30" x2="519.90" y2="225.40" stroke="#222" stroke-width="1.0" />
<line x1="515.60" y1="218.30" x2="524.20" y2="218.30" stroke="#222" stroke-width="1.0" />
<line x1="515.60" y1="225.40" x2="524.20" y2="225.40" stroke="#222" stroke-width="1.0" />
<line x1="511.90" y1="222.00" x2="527.90" y2="222.00" stroke="#000" stroke-width="1.5" />
<g transform="rotate(-90 461.9 71.9)"><text x="461.9" y="75.0" font-size="9.6" text-anchor="middle" fill="#222">N</text><line x1="457.4" y1="67.0" x2="466.4" y2="67.0" stroke="#222" stroke-width="1.2"/></g>
<g transform="rotate(-90 461.8 229.9)"><text x="461.8" y="233.0" font-size="9.6" text-anchor="middle" fill="#222">N</text><line x1="457.3" y1="225.0" x2="466.3" y2="225.0" stroke="#222" stroke-width="1.2"/></g>
<text x="582.90" y="6.90" font-size="8.0" text-anchor="start" font-weight="normal" font-style="normal" fill="#3f5bbf" >Model 1</text>
<text x="579.00" y="16.70" font-size="8.0" text-anchor="start" font-weight="normal" font-style="normal" fill="#3f5bbf" >(T</text>
<line x1="587.60" y1="13.80" x2="594.50" y2="13.80" stroke="#3f5bbf" stroke-width="1.1" />
<path d="M592.40 11.50 L595.10 13.80 L592.40 16.10" fill="none" stroke="#3f5bbf" stroke-width="1.2"/>
<text x="595.70" y="16.70" font-size="8.0" text-anchor="start" font-weight="normal" font-style="normal" fill="#3f5bbf" >M+D)</text>
<text x="639.90" y="6.90" font-size="8.0" text-anchor="start" font-weight="normal" font-style="normal" fill="#e8343f" >Model 2</text>
<text x="639.10" y="16.70" font-size="8.0" text-anchor="start" font-weight="normal" font-style="normal" fill="#e8343f" >(T</text>
<line x1="646.90" y1="13.80" x2="653.10" y2="13.80" stroke="#e8343f" stroke-width="1.1" />
<path d="M651.00 11.50 L653.70 13.80 L651.00 16.10" fill="none" stroke="#e8343f" stroke-width="1.2"/>
<text x="655.30" y="16.70" font-size="8.0" text-anchor="start" font-weight="normal" font-style="normal" fill="#e8343f" >3M)</text>
<text x="585.60" y="167.50" font-size="8.0" text-anchor="start" font-weight="normal" font-style="normal" fill="#3f5bbf" >Model 1</text>
<text x="581.90" y="177.30" font-size="8.0" text-anchor="start" font-weight="normal" font-style="normal" fill="#3f5bbf" >(T</text>
<line x1="590.30" y1="174.40" x2="596.30" y2="174.40" stroke="#3f5bbf" stroke-width="1.1" />
<path d="M594.20 172.10 L596.90 174.40 L594.20 176.70" fill="none" stroke="#3f5bbf" stroke-width="1.2"/>
<text x="597.50" y="177.30" font-size="8.0" text-anchor="start" font-weight="normal" font-style="normal" fill="#3f5bbf" >M+D)</text>
<text x="636.90" y="167.50" font-size="8.0" text-anchor="start" font-weight="normal" font-style="normal" fill="#e8343f" >Model 2</text>
<text x="636.20" y="177.30" font-size="8.0" text-anchor="start" font-weight="normal" font-style="normal" fill="#e8343f" >(T</text>
<line x1="643.90" y1="174.40" x2="650.60" y2="174.40" stroke="#e8343f" stroke-width="1.1" />
<path d="M648.50 172.10 L651.20 174.40 L648.50 176.70" fill="none" stroke="#e8343f" stroke-width="1.2"/>
<text x="653.00" y="177.30" font-size="8.0" text-anchor="start" font-weight="normal" font-style="normal" fill="#e8343f" >3M)</text>
<line x1="568.40" y1="24.40" x2="568.40" y2="122.00" stroke="#333" stroke-width="1.1" />
<line x1="568.00" y1="121.50" x2="684.00" y2="121.50" stroke="#333" stroke-width="1.1" />
<line x1="564.40" y1="121.20" x2="568.40" y2="121.20" stroke="#333" stroke-width="1.1" />
<text x="562.30" y="125.20" font-size="7.9" text-anchor="end" font-weight="normal" font-style="normal" fill="#222" >0</text>
<line x1="564.40" y1="103.70" x2="568.40" y2="103.70" stroke="#333" stroke-width="1.1" />
<text x="562.30" y="107.70" font-size="7.9" text-anchor="end" font-weight="normal" font-style="normal" fill="#222" >20</text>
<line x1="564.40" y1="86.20" x2="568.40" y2="86.20" stroke="#333" stroke-width="1.1" />
<text x="562.30" y="90.20" font-size="7.9" text-anchor="end" font-weight="normal" font-style="normal" fill="#222" >40</text>
<line x1="564.40" y1="68.70" x2="568.40" y2="68.70" stroke="#333" stroke-width="1.1" />
<text x="562.30" y="72.70" font-size="7.9" text-anchor="end" font-weight="normal" font-style="normal" fill="#222" >60</text>
<line x1="564.40" y1="51.20" x2="568.40" y2="51.20" stroke="#333" stroke-width="1.1" />
<text x="562.30" y="55.20" font-size="7.9" text-anchor="end" font-weight="normal" font-style="normal" fill="#222" >80</text>
<line x1="564.40" y1="33.70" x2="568.40" y2="33.70" stroke="#333" stroke-width="1.1" />
<text x="562.30" y="37.70" font-size="7.9" text-anchor="end" font-weight="normal" font-style="normal" fill="#222" >100</text>
<text x="576.30" y="133.20" font-size="9.3" fill="#222" textLength="24.70" lengthAdjust="spacingAndGlyphs" >Basal</text>
<text x="607.60" y="133.20" font-size="9.3" fill="#222" textLength="12.80" lengthAdjust="spacingAndGlyphs" >Cu</text>
<text x="629.30" y="133.20" font-size="9.3" fill="#222" textLength="24.30" lengthAdjust="spacingAndGlyphs" >Basal</text>
<text x="659.50" y="133.20" font-size="9.3" fill="#222" textLength="12.60" lengthAdjust="spacingAndGlyphs" >Cu</text>
<path d="M586.9 43.40 L586.9 32.40 L612.2 32.40 L612.2 87.30" fill="none" stroke="#333" stroke-width="1.0"/>
<text x="598.80" y="29.00" font-size="6.9" text-anchor="middle" font-weight="normal" font-style="normal" fill="#222" >p=0.7365</text>
<path d="M639.8 43.40 L639.8 32.40 L665.4 32.40 L665.4 71.10" fill="none" stroke="#333" stroke-width="1.0"/>
<text x="652.40" y="29.00" font-size="6.9" text-anchor="middle" font-weight="normal" font-style="normal" fill="#222" >p=0.8342</text>
<path d="M584.50 67.03 L588.70 67.03 L586.60 63.37 Z" fill="#8c8cff"/>
<path d="M584.60 109.13 L588.80 109.13 L586.70 105.47 Z" fill="#8c8cff"/>
<path d="M584.60 114.33 L588.80 114.33 L586.70 110.67 Z" fill="#8c8cff"/>
<path d="M580.70 121.83 L584.90 121.83 L582.80 118.17 Z" fill="#8c8cff"/>
<path d="M588.70 120.03 L592.90 120.03 L590.80 116.37 Z" fill="#8c8cff"/>
<line x1="586.70" y1="94.30" x2="586.70" y2="114.40" stroke="#222" stroke-width="1.0" />
<line x1="582.20" y1="94.30" x2="591.20" y2="94.30" stroke="#222" stroke-width="1.0" />
<line x1="582.20" y1="114.40" x2="591.20" y2="114.40" stroke="#222" stroke-width="1.0" />
<line x1="577.70" y1="104.20" x2="595.70" y2="104.20" stroke="#000" stroke-width="1.5" />
<path d="M607.20 102.83 L611.40 102.83 L609.30 99.17 Z" fill="#0000d8"/>
<path d="M612.50 101.43 L616.70 101.43 L614.60 97.77 Z" fill="#0000d8"/>
<path d="M607.20 111.63 L611.40 111.63 L609.30 107.97 Z" fill="#0000d8"/>
<path d="M617.50 112.53 L621.70 112.53 L619.60 108.87 Z" fill="#0000d8"/>
<path d="M602.90 114.73 L607.10 114.73 L605.00 111.07 Z" fill="#0000d8"/>
<path d="M612.50 114.73 L616.70 114.73 L614.60 111.07 Z" fill="#0000d8"/>
<line x1="612.30" y1="105.00" x2="612.30" y2="109.30" stroke="#222" stroke-width="1.0" />
<line x1="607.80" y1="105.00" x2="616.80" y2="105.00" stroke="#222" stroke-width="1.0" />
<line x1="607.80" y1="109.30" x2="616.80" y2="109.30" stroke="#222" stroke-width="1.0" />
<line x1="603.30" y1="107.30" x2="621.30" y2="107.30" stroke="#000" stroke-width="1.5" />
<path d="M637.80 57.73 L642.00 57.73 L639.90 54.07 Z" fill="#f7a3a3"/>
<path d="M637.80 84.73 L642.00 84.73 L639.90 81.07 Z" fill="#f7a3a3"/>
<path d="M633.20 93.73 L637.40 93.73 L635.30 90.07 Z" fill="#f7a3a3"/>
<path d="M641.50 93.73 L645.70 93.73 L643.60 90.07 Z" fill="#f7a3a3"/>
<path d="M637.80 110.93 L642.00 110.93 L639.90 107.27 Z" fill="#f7a3a3"/>
<line x1="639.90" y1="77.40" x2="639.90" y2="95.30" stroke="#222" stroke-width="1.0" />
<line x1="635.40" y1="77.40" x2="644.40" y2="77.40" stroke="#222" stroke-width="1.0" />
<line x1="635.40" y1="95.30" x2="644.40" y2="95.30" stroke="#222" stroke-width="1.0" />
<line x1="630.90" y1="86.30" x2="648.90" y2="86.30" stroke="#000" stroke-width="1.5" />
<path d="M659.20 83.13 L663.40 83.13 L661.30 79.47 Z" fill="#ff0000"/>
<path d="M667.10 83.13 L671.30 83.13 L669.20 79.47 Z" fill="#ff0000"/>
<path d="M663.10 88.13 L667.30 88.13 L665.20 84.47 Z" fill="#ff0000"/>
<path d="M659.20 93.23 L663.40 93.23 L661.30 89.57 Z" fill="#ff0000"/>
<path d="M667.10 94.93 L671.30 94.93 L669.20 91.27 Z" fill="#ff0000"/>
<path d="M663.10 99.13 L667.30 99.13 L665.20 95.47 Z" fill="#ff0000"/>
<line x1="665.40" y1="85.50" x2="665.40" y2="90.50" stroke="#222" stroke-width="1.0" />
<line x1="660.90" y1="85.50" x2="669.90" y2="85.50" stroke="#222" stroke-width="1.0" />
<line x1="660.90" y1="90.50" x2="669.90" y2="90.50" stroke="#222" stroke-width="1.0" />
<line x1="656.40" y1="88.00" x2="674.40" y2="88.00" stroke="#000" stroke-width="1.5" />
<line x1="568.40" y1="181.30" x2="568.40" y2="278.40" stroke="#333" stroke-width="1.1" />
<line x1="568.00" y1="277.90" x2="684.00" y2="277.90" stroke="#333" stroke-width="1.1" />
<line x1="564.40" y1="273.80" x2="568.40" y2="273.80" stroke="#333" stroke-width="1.1" />
<text x="562.30" y="277.80" font-size="7.9" text-anchor="end" font-weight="normal" font-style="normal" fill="#222" >0</text>
<line x1="564.40" y1="257.04" x2="568.40" y2="257.04" stroke="#333" stroke-width="1.1" />
<text x="562.30" y="261.04" font-size="7.9" text-anchor="end" font-weight="normal" font-style="normal" fill="#222" >20</text>
<line x1="564.40" y1="240.28" x2="568.40" y2="240.28" stroke="#333" stroke-width="1.1" />
<text x="562.30" y="244.28" font-size="7.9" text-anchor="end" font-weight="normal" font-style="normal" fill="#222" >40</text>
<line x1="564.40" y1="223.52" x2="568.40" y2="223.52" stroke="#333" stroke-width="1.1" />
<text x="562.30" y="227.52" font-size="7.9" text-anchor="end" font-weight="normal" font-style="normal" fill="#222" >60</text>
<line x1="564.40" y1="206.76" x2="568.40" y2="206.76" stroke="#333" stroke-width="1.1" />
<text x="562.30" y="210.76" font-size="7.9" text-anchor="end" font-weight="normal" font-style="normal" fill="#222" >80</text>
<line x1="564.40" y1="190.00" x2="568.40" y2="190.00" stroke="#333" stroke-width="1.1" />
<text x="562.30" y="194.00" font-size="7.9" text-anchor="end" font-weight="normal" font-style="normal" fill="#222" >100</text>
<text x="576.30" y="291.40" font-size="9.3" fill="#222" textLength="24.70" lengthAdjust="spacingAndGlyphs" >Basal</text>
<text x="607.60" y="291.40" font-size="9.3" fill="#222" textLength="12.80" lengthAdjust="spacingAndGlyphs" >Cu</text>
<text x="629.30" y="291.40" font-size="9.3" fill="#222" textLength="24.30" lengthAdjust="spacingAndGlyphs" >Basal</text>
<text x="659.50" y="291.40" font-size="9.3" fill="#222" textLength="12.60" lengthAdjust="spacingAndGlyphs" >Cu</text>
<path d="M586.9 207.50 L586.9 196.60 L612.2 196.60 L612.2 207.50" fill="none" stroke="#333" stroke-width="1.0"/>
<text x="597.80" y="192.70" font-size="6.9" text-anchor="middle" font-weight="normal" font-style="normal" fill="#222" >p=0.1080</text>
<path d="M639.8 207.50 L639.8 196.60 L665.4 196.60 L665.4 207.50" fill="none" stroke="#333" stroke-width="1.0"/>
<text x="653.80" y="192.70" font-size="6.9" text-anchor="middle" font-weight="normal" font-style="normal" fill="#222" >p=1297</text>
<path d="M584.40 238.73 L588.60 238.73 L586.50 235.07 Z" fill="#8c8cff"/>
<path d="M584.40 244.53 L588.60 244.53 L586.50 240.87 Z" fill="#8c8cff"/>
<path d="M579.40 250.23 L583.60 250.23 L581.50 246.57 Z" fill="#8c8cff"/>
<path d="M589.40 250.23 L593.60 250.23 L591.50 246.57 Z" fill="#8c8cff"/>
<path d="M584.40 255.83 L588.60 255.83 L586.50 252.17 Z" fill="#8c8cff"/>
<path d="M584.40 262.13 L588.60 262.13 L586.50 258.47 Z" fill="#8c8cff"/>
<line x1="586.50" y1="244.70" x2="586.50" y2="251.40" stroke="#222" stroke-width="1.0" />
<line x1="582.00" y1="244.70" x2="591.00" y2="244.70" stroke="#222" stroke-width="1.0" />
<line x1="582.00" y1="251.40" x2="591.00" y2="251.40" stroke="#222" stroke-width="1.0" />
<line x1="577.50" y1="248.10" x2="595.50" y2="248.10" stroke="#000" stroke-width="1.5" />
<path d="M610.10 233.73 L614.30 233.73 L612.20 230.07 Z" fill="#0000d8"/>
<path d="M610.10 248.23 L614.30 248.23 L612.20 244.57 Z" fill="#0000d8"/>
<path d="M617.50 258.63 L621.70 258.63 L619.60 254.97 Z" fill="#0000d8"/>
<path d="M610.10 264.83 L614.30 264.83 L612.20 261.17 Z" fill="#0000d8"/>
<path d="M610.10 271.53 L614.30 271.53 L612.20 267.87 Z" fill="#0000d8"/>
<path d="M602.80 275.23 L607.00 275.23 L604.90 271.57 Z" fill="#0000d8"/>
<path d="M617.50 273.83 L621.70 273.83 L619.60 270.17 Z" fill="#0000d8"/>
<line x1="612.20" y1="253.40" x2="612.20" y2="263.50" stroke="#222" stroke-width="1.0" />
<line x1="607.70" y1="253.40" x2="616.70" y2="253.40" stroke="#222" stroke-width="1.0" />
<line x1="607.70" y1="263.50" x2="616.70" y2="263.50" stroke="#222" stroke-width="1.0" />
<line x1="603.20" y1="258.80" x2="621.20" y2="258.80" stroke="#000" stroke-width="1.5" />
<path d="M637.90 225.23 L642.10 225.23 L640.00 221.57 Z" fill="#f7a3a3"/>
<path d="M637.90 232.63 L642.10 232.63 L640.00 228.97 Z" fill="#f7a3a3"/>
<path d="M630.90 233.83 L635.10 233.83 L633.00 230.17 Z" fill="#f7a3a3"/>
<path d="M644.90 233.83 L649.10 233.83 L647.00 230.17 Z" fill="#f7a3a3"/>
<path d="M637.90 237.03 L642.10 237.03 L640.00 233.37 Z" fill="#f7a3a3"/>
<path d="M637.90 243.63 L642.10 243.63 L640.00 239.97 Z" fill="#f7a3a3"/>
<line x1="640.00" y1="229.20" x2="640.00" y2="234.40" stroke="#222" stroke-width="1.0" />
<line x1="635.50" y1="229.20" x2="644.50" y2="229.20" stroke="#222" stroke-width="1.0" />
<line x1="635.50" y1="234.40" x2="644.50" y2="234.40" stroke="#222" stroke-width="1.0" />
<line x1="631.00" y1="232.00" x2="649.00" y2="232.00" stroke="#000" stroke-width="1.5" />
<path d="M663.40 222.03 L667.60 222.03 L665.50 218.37 Z" fill="#ff0000"/>
<path d="M663.40 232.33 L667.60 232.33 L665.50 228.67 Z" fill="#ff0000"/>
<path d="M658.40 240.13 L662.60 240.13 L660.50 236.47 Z" fill="#ff0000"/>
<path d="M668.40 238.33 L672.60 238.33 L670.50 234.67 Z" fill="#ff0000"/>
<path d="M663.40 244.13 L667.60 244.13 L665.50 240.47 Z" fill="#ff0000"/>
<path d="M663.40 253.13 L667.60 253.13 L665.50 249.47 Z" fill="#ff0000"/>
<path d="M663.40 257.53 L667.60 257.53 L665.50 253.87 Z" fill="#ff0000"/>
<path d="M663.40 263.03 L667.60 263.03 L665.50 259.37 Z" fill="#ff0000"/>
<line x1="665.50" y1="236.80" x2="665.50" y2="246.50" stroke="#222" stroke-width="1.0" />
<line x1="661.00" y1="236.80" x2="670.00" y2="236.80" stroke="#222" stroke-width="1.0" />
<line x1="661.00" y1="246.50" x2="670.00" y2="246.50" stroke="#222" stroke-width="1.0" />
<line x1="656.50" y1="241.80" x2="674.50" y2="241.80" stroke="#000" stroke-width="1.5" />
<text x="547.00" y="66.10" font-size="10.0" text-anchor="middle" font-weight="normal" font-style="normal" fill="#222" transform="rotate(-90 547.0 66.1)"><tspan font-style="italic">Trimer</tspan> (%)</text>
<text x="547.00" y="227.40" font-size="10.0" text-anchor="middle" font-weight="normal" font-style="normal" fill="#222" transform="rotate(-90 547.0 227.4)"><tspan font-style="italic">Trimer</tspan> (%)</text>
<defs><clipPath id="mc0"><rect x="9.0" y="322.0" width="163.0" height="102.39999999999998"/></clipPath><filter id="tx0" x="9.0" y="322.0" width="163.0" height="102.39999999999998" filterUnits="userSpaceOnUse" color-interpolation-filters="sRGB"><feTurbulence type="fractalNoise" baseFrequency="0.14" numOctaves="3" seed="3"/><feColorMatrix type="matrix" values="1.8 0 0 0 -0.55  1.8 0 0 0 -0.55  1.8 0 0 0 -0.55  0 0 0 0 1"/></filter><clipPath id="mc1"><rect x="177.0" y="322.0" width="163.0" height="102.39999999999998"/></clipPath><filter id="tx1" x="177.0" y="322.0" width="163.0" height="102.39999999999998" filterUnits="userSpaceOnUse" color-interpolation-filters="sRGB"><feTurbulence type="fractalNoise" baseFrequency="0.14" numOctaves="3" seed="10"/><feColorMatrix type="matrix" values="1.8 0 0 0 -0.55  1.8 0 0 0 -0.55  1.8 0 0 0 -0.55  0 0 0 0 1"/></filter><clipPath id="mc2"><rect x="345.0" y="322.0" width="163.0" height="102.39999999999998"/></clipPath><filter id="tx2" x="345.0" y="322.0" width="163.0" height="102.39999999999998" filterUnits="userSpaceOnUse" color-interpolation-filters="sRGB"><feTurbulence type="fractalNoise" baseFrequency="0.14" numOctaves="3" seed="17"/><feColorMatrix type="matrix" values="1.8 0 0 0 -0.55  1.8 0 0 0 -0.55  1.8 0 0 0 -0.55  0 0 0 0 1"/></filter><clipPath id="mc3"><rect x="512.2" y="322.0" width="163.0" height="102.39999999999998"/></clipPath><filter id="tx3" x="512.2" y="322.0" width="163.0" height="102.39999999999998" filterUnits="userSpaceOnUse" color-interpolation-filters="sRGB"><feTurbulence type="fractalNoise" baseFrequency="0.14" numOctaves="3" seed="24"/><feColorMatrix type="matrix" values="1.8 0 0 0 -0.55  1.8 0 0 0 -0.55  1.8 0 0 0 -0.55  0 0 0 0 1"/></filter><filter id="glow" x="-100%" y="-100%" width="300%" height="300%"><feGaussianBlur stdDeviation="1.0"/></filter><filter id="soft" x="-20%" y="-20%" width="140%" height="140%"><feGaussianBlur stdDeviation="0.45"/></filter><filter id="nuc" x="-100%" y="-100%" width="300%" height="300%"><feGaussianBlur stdDeviation="0.9"/></filter><filter id="haze" x="-100%" y="-100%" width="300%" height="300%"><feGaussianBlur stdDeviation="3.5"/></filter></defs>
<g clip-path="url(#mc0)">
<rect x="9.00" y="322.00" width="163.00" height="102.40" fill="#555555" stroke="none" stroke-width="1" />
<path d="M65.1 396.3L73.5 407.4L71.8 410.1L69.3 410.8L63.1 407.3L64.7 396.8ZM65.1 396.3L73.5 407.4L77.9 405.1L68.1 393.4L65.8 393.6ZM116.6 350.4L128.4 360.2L118.4 364.3L112.2 351.0ZM76.5 416.6L81.0 418.0L83.1 415.0L86.8 408.5L83.0 403.9L77.9 405.1L73.5 407.4L71.8 410.1ZM168.9 370.3L171.1 364.6L166.6 360.8L166.4 368.4ZM51.3 389.3L51.6 374.5L43.4 379.6L50.1 390.1ZM9.3 346.3L13.4 341.5L12.3 335.8L10.0 335.1L7.4 335.9L4.7 344.3ZM85.7 425.1L84.8 424.1L91.8 420.0L95.8 418.5L98.0 425.0L95.9 426.1ZM84.8 323.6L83.6 321.1L79.1 316.7L72.4 322.2L71.7 327.2L74.2 330.9L78.8 332.1L83.6 326.3ZM49.2 341.3L51.5 345.8L62.0 345.3L64.1 339.1L57.8 331.4L48.7 339.4ZM145.6 342.9L141.4 347.0L138.0 358.8L139.5 360.4L146.0 365.7L150.5 363.4L154.3 355.7L145.8 342.9ZM26.0 355.5L20.7 364.9L16.0 366.6L14.1 357.3L23.3 350.7L24.4 350.7ZM130.2 401.3L137.3 405.7L137.7 407.0L129.1 415.8L117.9 403.9L118.0 403.8ZM151.4 326.1L153.8 336.7L152.6 341.1L145.8 342.9L145.6 342.9L141.7 334.4L148.2 325.1ZM81.8 391.8L88.8 384.8L91.9 385.1L94.2 387.3L100.2 395.7L83.1 395.6ZM165.5 317.3L165.6 311.4L178.9 312.4L183.0 322.7L171.9 325.6ZM158.8 327.4L155.8 324.6L151.4 326.1L153.8 336.7L160.2 332.6ZM69.1 421.0L63.1 425.7L58.9 420.6L60.1 416.3L67.3 414.6ZM69.1 421.0L67.3 414.6L69.3 410.8L71.8 410.1L76.5 416.6L70.0 421.0ZM87.2 429.1L85.0 435.2L79.8 433.9L77.4 427.8L82.1 423.0L84.8 424.1L85.7 425.1ZM119.9 334.6L125.3 341.3L126.6 341.6L129.8 340.6L133.7 332.9L131.2 330.4ZM151.8 407.9L143.4 401.7L151.3 403.3ZM129.5 374.5L139.5 360.4L146.0 365.7L146.2 369.7L146.1 370.2L144.0 373.0L129.8 376.5ZM162.3 374.7L161.6 376.9L154.4 380.8L146.1 370.2L146.2 369.7L161.6 373.8ZM106.8 385.0L94.2 387.3L91.9 385.1L96.0 381.6L104.5 380.7ZM65.8 393.6L68.1 393.4L78.5 391.0L74.6 380.6L72.8 380.5L66.4 383.2L63.4 390.5ZM151.9 316.9L146.9 323.4L148.2 325.1L151.4 326.1L155.8 324.6L157.9 321.6L157.4 320.9ZM22.7 389.7L20.5 390.9L13.5 395.6L17.2 406.6L24.4 407.3L32.3 402.9L31.5 394.7L26.9 391.4ZM86.8 347.4L96.2 348.9L97.8 347.9L96.6 343.9L88.5 338.4L83.3 340.4ZM4.7 344.3L7.4 335.9L3.6 336.6L0.4 337.5L-0.1 338.3L-0.6 341.2L1.1 343.6ZM170.3 431.5L168.4 424.0L176.8 428.7L171.0 432.3ZM34.3 359.3L39.6 363.5L33.0 367.7L31.1 361.8ZM168.6 411.4L168.2 404.5L167.0 402.7L159.6 410.1L168.0 413.1ZM149.6 388.0L142.9 376.7L138.6 385.1L139.0 388.1L143.4 391.0ZM71.7 333.9L74.2 330.9L71.7 327.2L58.0 327.6L57.8 331.4L64.1 339.1L66.8 338.5ZM145.8 342.9L154.3 355.7L163.9 346.8L152.6 341.1ZM39.6 363.5L33.0 367.7L32.9 369.1L33.7 369.6L42.5 370.5L51.6 366.5L51.7 364.5L50.9 363.1ZM86.8 408.5L83.0 403.9L83.4 398.0L101.9 400.1L104.2 406.0L97.1 410.1ZM91.8 420.0L83.1 415.0L86.8 408.5L97.1 410.1L95.8 418.5ZM112.2 351.0L108.9 350.1L106.1 362.9L116.2 368.3L118.4 364.3ZM126.7 370.2L129.6 360.3L128.4 360.2L118.4 364.3L116.2 368.3L116.5 371.2L116.5 371.2L118.1 371.4ZM84.8 424.1L82.1 423.0L81.0 418.0L83.1 415.0L91.8 420.0ZM24.0 313.8L34.5 315.6L39.7 324.1L39.0 325.3L36.4 326.1ZM51.3 389.3L51.6 374.5L53.1 371.2L55.4 372.5L56.5 373.9L61.7 389.9ZM36.4 326.1L39.0 325.3L41.7 333.0L29.6 337.8L28.4 336.0L27.6 329.3ZM117.9 386.2L109.9 377.8L115.2 371.7L116.5 371.2L116.5 371.2L118.6 385.6ZM8.5 421.9L8.7 430.8L23.1 433.4L25.8 427.1L14.4 416.8ZM146.9 323.4L148.2 325.1L141.7 334.4L136.8 332.5L138.9 320.2L145.9 322.5ZM142.8 421.6L143.8 414.7L152.6 411.0L155.6 411.4L156.1 411.7L159.4 418.4L154.3 426.6L144.7 424.2ZM35.4 357.0L50.7 362.5L50.9 363.1L39.6 363.5L34.3 359.3ZM166.6 360.8L165.4 359.3L168.6 348.3L170.3 348.8L170.4 348.8L179.5 359.3L179.0 362.2L171.1 364.6ZM3.7 364.1L10.9 355.7L14.1 357.3L16.0 366.6L15.6 368.2ZM34.4 422.8L37.1 416.7L48.8 412.1L50.7 420.7L47.9 424.3L42.1 425.5L35.8 423.6ZM35.0 349.8L40.5 351.0L43.5 345.1L34.1 344.6L32.3 345.6L32.1 346.9Z" fill="#525252" opacity="0.8"/>
<path d="M83.5 367.3L97.7 370.4L96.0 381.6L91.9 385.1L88.8 384.8L82.9 369.9L83.0 367.5ZM106.8 385.0L108.2 386.7L101.2 396.7L100.2 395.7L94.2 387.3ZM48.8 412.1L50.3 407.1L58.2 409.9L60.1 416.3L58.9 420.6L50.7 420.7ZM96.2 325.1L100.5 327.0L96.0 335.8L90.0 334.9L88.8 333.5L89.2 331.4ZM35.0 349.8L40.5 351.0L48.6 354.6L50.5 360.5L50.7 362.5L35.4 357.0ZM114.7 423.6L111.4 408.1L117.9 403.9L129.1 415.8L128.9 418.5ZM44.3 337.0L43.5 335.4L41.7 333.0L29.6 337.8L32.3 345.6L34.1 344.6ZM13.5 395.6L20.5 390.9L12.1 379.7L11.0 380.6L7.7 388.8L12.6 395.3ZM68.2 354.0L68.1 359.1L62.3 358.6L62.9 356.1ZM23.4 378.2L23.4 377.2L23.9 377.0L37.5 380.1L38.0 381.0L38.0 382.5L32.2 384.7ZM132.1 392.6L139.0 388.1L138.6 385.1L128.7 379.8L123.3 384.9ZM175.0 410.8L174.8 411.0L171.7 419.6L177.8 420.2L180.6 412.0ZM63.2 427.1L63.1 425.7L58.9 420.6L50.7 420.7L47.9 424.3L49.0 425.8L61.7 427.9ZM11.0 380.6L12.1 379.7L17.8 373.7L15.5 369.1L7.0 371.6L3.1 376.4ZM159.6 410.1L156.1 411.7L155.6 411.4L159.1 395.5L161.2 393.6L166.6 398.3L167.0 402.7ZM21.5 325.0L19.7 325.8L13.5 334.8L23.3 337.9L28.4 336.0L27.6 329.3ZM99.3 315.0L101.9 326.8L105.2 326.7L106.5 317.3ZM9.0 349.8L10.2 355.1L10.9 355.7L14.1 357.3L23.3 350.7L18.6 344.4L13.4 341.5L9.3 346.3ZM85.3 348.4L82.5 349.0L74.6 347.8L74.9 344.4L75.6 343.5L80.8 338.9L83.2 340.4L83.3 340.4L86.8 347.4ZM24.4 407.3L32.3 402.9L36.4 405.0L37.1 416.7L34.4 422.8L31.3 423.3ZM160.9 366.2L159.2 364.0L165.4 359.3L166.6 360.8L166.4 368.4ZM85.3 348.4L81.6 366.5L78.2 365.1L77.7 364.2L76.8 359.5L82.5 349.0ZM167.2 346.9L168.6 348.3L165.4 359.3L159.2 364.0L150.5 363.4L154.3 355.7L163.9 346.8ZM129.8 340.6L141.4 347.0L145.6 342.9L141.7 334.4L136.8 332.5L133.7 332.9ZM3.6 336.6L2.6 328.0L4.8 326.2L10.0 335.1L7.4 335.9ZM68.6 372.1L55.4 372.5L56.5 373.9L65.2 379.6L68.5 374.2ZM80.8 338.9L79.0 332.6L78.8 332.1L74.2 330.9L71.7 333.9L75.6 343.5ZM117.9 386.2L118.6 385.6L123.3 384.9L132.1 392.6L130.2 401.3L118.0 403.8L117.5 386.7ZM63.2 347.8L50.5 360.5L50.7 362.5L50.9 363.1L51.7 364.5L55.8 363.2L62.3 358.6L62.9 356.1ZM84.8 323.6L83.6 321.1L93.0 313.3L95.3 324.4ZM93.8 356.2L102.8 365.4L100.8 369.6L97.7 370.4L83.5 367.3ZM84.8 323.6L95.3 324.4L96.2 325.1L89.2 331.4L83.6 326.3ZM95.8 418.5L97.1 410.1L104.2 406.0L111.4 408.1L114.7 423.6L114.7 423.6L106.7 430.4L98.0 425.0ZM23.1 313.6L21.5 325.0L27.6 329.3L36.4 326.1L24.0 313.8ZM169.3 335.3L167.2 346.9L163.9 346.8L152.6 341.1L153.8 336.7L160.2 332.6ZM119.8 326.0L121.6 322.7L129.9 326.4L131.0 327.4L131.1 330.2ZM26.0 355.5L28.8 361.0L31.1 361.8L34.3 359.3L35.4 357.0L35.0 349.8L32.1 346.9L24.4 350.7ZM129.1 350.9L134.8 358.6L129.6 360.3L128.4 360.2L116.6 350.4L117.2 350.0ZM168.2 404.5L173.8 406.8L181.4 402.9L170.1 397.6L166.6 398.3L167.0 402.7ZM28.8 361.0L24.6 364.1L30.1 370.6L32.9 369.1L33.0 367.7L31.1 361.8ZM162.3 374.7L161.6 376.9L167.1 384.8L175.3 381.0L176.4 377.9L169.5 372.6ZM70.0 421.0L77.2 427.8L77.4 427.8L82.1 423.0L81.0 418.0L76.5 416.6ZM26.0 355.5L20.7 364.9L24.6 364.1L28.8 361.0ZM13.5 334.8L23.3 337.9L18.6 344.4L13.4 341.5L12.3 335.8ZM151.3 403.3L143.4 401.7L141.9 401.2L144.4 396.4L153.3 398.2ZM119.8 326.0L131.1 330.2L131.2 330.4L119.9 334.6L115.3 331.5ZM85.3 348.4L81.6 366.5L83.0 367.5L83.5 367.3L93.8 356.2L96.2 348.9L86.8 347.4Z" fill="#595959" opacity="0.8"/>
<path d="M44.3 337.0L43.5 335.4L54.7 323.0L55.9 323.5L58.0 327.6L57.8 331.4L48.7 339.4ZM126.7 370.2L129.5 374.5L129.8 376.5L129.0 378.3L118.1 371.4ZM159.4 418.4L168.6 419.9L168.8 420.1L168.3 423.9L157.9 432.0L154.3 426.6ZM169.3 335.3L167.2 346.9L168.6 348.3L170.3 348.8L181.5 336.4L169.6 334.9ZM36.3 313.1L34.5 315.6L39.7 324.1L46.8 320.8L44.4 314.4ZM74.9 344.4L66.8 338.5L64.1 339.1L62.0 345.3L63.3 347.6L70.0 349.9L73.0 349.8L74.6 347.8ZM159.1 395.5L161.2 393.6L161.0 392.2L155.0 387.0L149.6 388.0L143.4 391.0L144.4 396.4L153.3 398.2ZM24.4 350.7L23.3 350.7L18.6 344.4L23.3 337.9L28.4 336.0L29.6 337.8L32.3 345.6L32.1 346.9ZM83.6 326.3L78.8 332.1L79.0 332.6L88.5 333.6L88.8 333.5L89.2 331.4ZM78.5 391.0L81.8 391.8L83.1 395.6L83.4 398.0L83.0 403.9L77.9 405.1L68.1 393.4ZM168.6 411.4L174.8 411.0L171.7 419.6L168.8 420.1L168.6 419.9L168.0 413.1ZM83.0 367.5L82.9 369.9L74.6 380.6L72.8 380.5L68.5 374.2L68.6 372.1L72.9 367.5L78.2 365.1L81.6 366.5ZM151.9 316.9L157.4 320.9L153.1 311.3ZM116.5 371.2L116.2 368.3L106.1 362.9L102.8 365.4L100.8 369.6L104.1 373.0L115.2 371.7ZM87.2 429.1L92.0 430.7L95.9 426.1L85.7 425.1ZM114.7 423.6L127.3 434.8L134.7 423.3L128.9 418.5L114.7 423.6ZM129.9 326.4L121.6 322.7L122.8 317.2L128.4 316.2ZM14.3 410.7L17.2 406.6L24.4 407.3L31.3 423.3L25.8 427.1L14.4 416.8ZM63.4 390.5L66.4 383.2L65.2 379.6L56.5 373.9L61.7 389.9ZM129.9 326.4L128.4 316.2L134.7 314.3L137.2 318.7L131.0 327.4ZM134.7 423.3L142.8 421.6L143.8 414.7L137.7 407.0L129.1 415.8L128.9 418.5ZM55.5 432.4L51.0 429.3L49.0 425.8L61.7 427.9ZM9.0 349.8L0.1 348.9L1.1 343.6L4.7 344.3L9.3 346.3ZM155.6 411.4L159.1 395.5L153.3 398.2L151.3 403.3L151.8 407.9L152.6 411.0ZM115.2 371.7L104.1 373.0L105.0 378.5L109.9 377.8ZM131.2 330.4L133.7 332.9L136.8 332.5L138.9 320.2L137.2 318.7L131.0 327.4L131.1 330.2ZM92.0 430.7L92.7 434.8L105.9 433.8L106.7 430.4L98.0 425.0L95.9 426.1ZM47.7 402.9L49.1 404.3L50.3 407.1L48.8 412.1L37.1 416.7L36.4 405.0ZM96.2 348.9L97.8 347.9L107.0 348.2L108.9 350.1L106.1 362.9L102.8 365.4L93.8 356.2ZM130.2 401.3L137.3 405.7L141.9 401.2L144.4 396.4L143.4 391.0L139.0 388.1L132.1 392.6ZM78.5 391.0L74.6 380.6L82.9 369.9L88.8 384.8L81.8 391.8ZM88.5 338.4L96.6 343.9L96.0 335.8L90.0 334.9ZM46.8 320.8L51.1 321.0L54.7 323.0L43.5 335.4L41.7 333.0L39.0 325.3L39.7 324.1ZM168.6 411.4L174.8 411.0L175.0 410.8L173.8 406.8L168.2 404.5ZM26.9 391.4L31.5 394.7L40.0 389.6L38.0 382.5L32.2 384.7ZM117.5 386.7L108.2 386.7L101.2 396.7L101.9 400.1L104.2 406.0L111.4 408.1L117.9 403.9L118.0 403.8ZM179.6 389.8L175.3 381.0L167.1 384.8L161.0 392.2L161.2 393.6L166.6 398.3L170.1 397.6ZM161.6 373.8L146.2 369.7L146.0 365.7L150.5 363.4L159.2 364.0L160.9 366.2ZM83.3 340.4L88.5 338.4L90.0 334.9L88.8 333.5L88.5 333.6L83.2 340.4ZM68.5 374.2L72.8 380.5L66.4 383.2L65.2 379.6ZM55.9 323.5L63.7 315.2L72.4 322.2L71.7 327.2L58.0 327.6ZM162.3 374.7L169.5 372.6L168.9 370.3L166.4 368.4L160.9 366.2L161.6 373.8ZM1.2 414.3L3.8 410.2L14.3 410.7L14.4 416.8L8.5 421.9L2.8 420.1ZM82.5 349.0L76.8 359.5L73.0 349.8L74.6 347.8ZM74.9 344.4L66.8 338.5L71.7 333.9L75.6 343.5ZM170.3 431.5L168.4 424.0L168.3 423.9L157.9 432.0L158.1 433.2Z" fill="#606060" opacity="0.8"/>
<path d="M3.6 336.6L2.6 328.0L-2.0 331.1L0.4 337.5ZM47.4 392.4L47.7 402.9L36.4 405.0L32.3 402.9L31.5 394.7L40.0 389.6ZM68.2 354.0L68.1 359.1L77.7 364.2L76.8 359.5L73.0 349.8L70.0 349.9ZM168.0 413.1L168.6 419.9L159.4 418.4L156.1 411.7L159.6 410.1ZM126.6 341.6L129.1 350.9L117.2 350.0L125.3 341.3ZM37.6 379.0L33.7 369.6L42.5 370.5ZM170.8 328.0L171.9 325.6L165.5 317.3L157.9 321.6L155.8 324.6L158.8 327.4ZM126.7 370.2L129.6 360.3L134.8 358.6L138.0 358.8L139.5 360.4L129.5 374.5ZM37.6 379.0L37.5 380.1L23.9 377.0L30.1 370.6L32.9 369.1L33.7 369.6ZM47.4 392.4L50.1 390.1L51.3 389.3L61.7 389.9L63.4 390.5L65.8 393.6L65.1 396.3L64.7 396.8L49.1 404.3L47.7 402.9ZM5.5 321.1L4.8 326.2L10.0 335.1L12.3 335.8L13.5 334.8L19.7 325.8ZM115.3 331.5L111.9 331.9L107.0 348.2L108.9 350.1L112.2 351.0L116.6 350.4L117.2 350.0L125.3 341.3L119.9 334.6ZM146.1 370.2L144.0 373.0L142.9 376.7L149.6 388.0L155.0 387.0L154.4 380.8ZM126.6 341.6L129.1 350.9L134.8 358.6L138.0 358.8L141.4 347.0L129.8 340.6ZM63.3 347.6L62.0 345.3L51.5 345.8L48.6 354.6L50.5 360.5L63.2 347.8ZM22.7 389.7L23.4 378.2L32.2 384.7L26.9 391.4ZM43.5 345.1L40.5 351.0L48.6 354.6L51.5 345.8L49.2 341.3ZM161.6 376.9L167.1 384.8L161.0 392.2L155.0 387.0L154.4 380.8ZM118.6 385.6L116.5 371.2L118.1 371.4L129.0 378.3L128.7 379.8L123.3 384.9ZM64.7 396.8L63.1 407.3L58.2 409.9L50.3 407.1L49.1 404.3ZM137.7 407.0L143.8 414.7L152.6 411.0L151.8 407.9L143.4 401.7L141.9 401.2L137.3 405.7ZM64.0 428.1L74.3 429.1L77.2 427.8L70.0 421.0L69.1 421.0L63.1 425.7L63.2 427.1ZM117.9 386.2L109.9 377.8L105.0 378.5L104.5 380.7L106.8 385.0L108.2 386.7L117.5 386.7ZM169.3 335.3L160.2 332.6L158.8 327.4L170.8 328.0L169.6 334.9ZM83.2 340.4L88.5 333.6L79.0 332.6L80.8 338.9ZM105.2 326.7L101.9 326.8L100.5 327.0L96.0 335.8L96.6 343.9L97.8 347.9L107.0 348.2L111.9 331.9L105.8 327.0ZM47.4 392.4L50.1 390.1L43.4 379.6L38.0 381.0L38.0 382.5L40.0 389.6ZM20.7 364.9L16.0 366.6L15.6 368.2L15.5 369.1L17.8 373.7L23.4 377.2L23.9 377.0L30.1 370.6L24.6 364.1ZM44.3 337.0L48.7 339.4L49.2 341.3L43.5 345.1L34.1 344.6ZM3.8 410.2L0.9 405.8L3.4 399.9L12.6 395.3L13.5 395.6L17.2 406.6L14.3 410.7ZM104.5 380.7L105.0 378.5L104.1 373.0L100.8 369.6L97.7 370.4L96.0 381.6ZM129.0 378.3L128.7 379.8L138.6 385.1L142.9 376.7L144.0 373.0L129.8 376.5ZM51.6 374.5L53.1 371.2L51.6 366.5L42.5 370.5L37.6 379.0L37.5 380.1L38.0 381.0L43.4 379.6ZM68.6 372.1L72.9 367.5L55.8 363.2L51.7 364.5L51.6 366.5L53.1 371.2L55.4 372.5ZM65.3 433.4L71.0 436.0L74.3 429.1L64.0 428.1ZM119.8 326.0L121.6 322.7L122.8 317.2L119.2 313.7L105.8 327.0L111.9 331.9L115.3 331.5ZM83.1 395.6L100.2 395.7L101.2 396.7L101.9 400.1L83.4 398.0ZM68.2 354.0L62.9 356.1L63.2 347.8L63.3 347.6L70.0 349.9ZM67.3 414.6L60.1 416.3L58.2 409.9L63.1 407.3L69.3 410.8ZM-0.7 365.7L7.0 371.6L15.5 369.1L15.6 368.2L3.7 364.1L-0.9 364.9ZM99.3 315.0L101.9 326.8L100.5 327.0L96.2 325.1L95.3 324.4L93.0 313.3L93.0 313.1L97.2 312.5ZM68.1 359.1L77.7 364.2L78.2 365.1L72.9 367.5L55.8 363.2L62.3 358.6ZM181.4 402.9L170.1 397.6L179.6 389.8L179.9 390.0L183.1 403.0ZM22.7 389.7L20.5 390.9L12.1 379.7L17.8 373.7L23.4 377.2L23.4 378.2ZM168.9 370.3L171.1 364.6L179.0 362.2L182.8 373.5L176.4 377.9L169.5 372.6Z" fill="#676767" opacity="0.8"/>
<rect x="9.0" y="322.0" width="163.0" height="102.39999999999998" filter="url(#tx0)" opacity="0.17"/>
<ellipse cx="140" cy="342" rx="28" ry="16" fill="#d8d8d8" opacity="0.45" filter="url(#haze)"/>
<ellipse cx="48" cy="326" rx="18" ry="6" fill="#d8d8d8" opacity="0.4" filter="url(#haze)"/>
<ellipse cx="125" cy="410" rx="12" ry="10" fill="#d8d8d8" opacity="0.35" filter="url(#haze)"/>
<ellipse cx="14" cy="358" rx="6" ry="8" fill="#d8d8d8" opacity="0.4" filter="url(#haze)"/>
<ellipse cx="60" cy="362" rx="8" ry="6" fill="#d8d8d8" opacity="0.35" filter="url(#haze)"/>
<ellipse cx="160" cy="382" rx="10" ry="8" fill="#d8d8d8" opacity="0.3" filter="url(#haze)"/>
<path d="M94.5 375.3m-2 0a2 1.6 0 1 0 4 0a2 1.6 0 1 0-4 0M48.2 330.1m-2 0a2 1.6 0 1 0 4 0a2 1.6 0 1 0-4 0M66.9 407.0m-2 0a2 1.6 0 1 0 4 0a2 1.6 0 1 0-4 0M73.4 402.4m-2 0a2 1.6 0 1 0 4 0a2 1.6 0 1 0-4 0M117.9 355.7m-2 0a2 1.6 0 1 0 4 0a2 1.6 0 1 0-4 0M38.1 398.4m-2 0a2 1.6 0 1 0 4 0a2 1.6 0 1 0-4 0M79.1 409.4m-2 0a2 1.6 0 1 0 4 0a2 1.6 0 1 0-4 0M165.5 366.1m-2 0a2 1.6 0 1 0 4 0a2 1.6 0 1 0-4 0M70.0 356.0m-2 0a2 1.6 0 1 0 4 0a2 1.6 0 1 0-4 0M125.3 372.4m-2 0a2 1.6 0 1 0 4 0a2 1.6 0 1 0-4 0M101.3 386.9m-2 0a2 1.6 0 1 0 4 0a2 1.6 0 1 0-4 0M47.6 381.8m-2 0a2 1.6 0 1 0 4 0a2 1.6 0 1 0-4 0M161.8 414.8m-2 0a2 1.6 0 1 0 4 0a2 1.6 0 1 0-4 0M8.2 342.3m-2 0a2 1.6 0 1 0 4 0a2 1.6 0 1 0-4 0M124.7 347.9m-2 0a2 1.6 0 1 0 4 0a2 1.6 0 1 0-4 0M162.9 423.9m-2 0a2 1.6 0 1 0 4 0a2 1.6 0 1 0-4 0M38.4 374.0m-2 0a2 1.6 0 1 0 4 0a2 1.6 0 1 0-4 0M162.2 323.3m-2 0a2 1.6 0 1 0 4 0a2 1.6 0 1 0-4 0M131.0 368.6m-2 0a2 1.6 0 1 0 4 0a2 1.6 0 1 0-4 0M89.5 423.6m-2 0a2 1.6 0 1 0 4 0a2 1.6 0 1 0-4 0M78.4 324.2m-2 0a2 1.6 0 1 0 4 0a2 1.6 0 1 0-4 0M33.8 373.1m-2 0a2 1.6 0 1 0 4 0a2 1.6 0 1 0-4 0M57.3 341.7m-2 0a2 1.6 0 1 0 4 0a2 1.6 0 1 0-4 0M149.5 351.8m-2 0a2 1.6 0 1 0 4 0a2 1.6 0 1 0-4 0M54.9 416.4m-2 0a2 1.6 0 1 0 4 0a2 1.6 0 1 0-4 0M22.5 358.9m-2 0a2 1.6 0 1 0 4 0a2 1.6 0 1 0-4 0M127.1 412.3m-2 0a2 1.6 0 1 0 4 0a2 1.6 0 1 0-4 0M57.1 396.8m-2 0a2 1.6 0 1 0 4 0a2 1.6 0 1 0-4 0M150.5 332.6m-2 0a2 1.6 0 1 0 4 0a2 1.6 0 1 0-4 0M92.6 392.6m-2 0a2 1.6 0 1 0 4 0a2 1.6 0 1 0-4 0M90.7 332.2m-2 0a2 1.6 0 1 0 4 0a2 1.6 0 1 0-4 0M40.0 357.0m-2 0a2 1.6 0 1 0 4 0a2 1.6 0 1 0-4 0M9.6 327.3m-2 0a2 1.6 0 1 0 4 0a2 1.6 0 1 0-4 0M156.9 330.8m-2 0a2 1.6 0 1 0 4 0a2 1.6 0 1 0-4 0M64.7 418.8m-2 0a2 1.6 0 1 0 4 0a2 1.6 0 1 0-4 0M72.3 414.4m-2 0a2 1.6 0 1 0 4 0a2 1.6 0 1 0-4 0M125.5 415.4m-2 0a2 1.6 0 1 0 4 0a2 1.6 0 1 0-4 0M37.1 337.3m-2 0a2 1.6 0 1 0 4 0a2 1.6 0 1 0-4 0M118.6 342.7m-2 0a2 1.6 0 1 0 4 0a2 1.6 0 1 0-4 0M13.1 385.2m-2 0a2 1.6 0 1 0 4 0a2 1.6 0 1 0-4 0M126.4 334.5m-2 0a2 1.6 0 1 0 4 0a2 1.6 0 1 0-4 0M66.9 353.9m-2 0a2 1.6 0 1 0 4 0a2 1.6 0 1 0-4 0M148.1 382.3m-2 0a2 1.6 0 1 0 4 0a2 1.6 0 1 0-4 0M30.8 384.9m-2 0a2 1.6 0 1 0 4 0a2 1.6 0 1 0-4 0M69.5 343.9m-2 0a2 1.6 0 1 0 4 0a2 1.6 0 1 0-4 0M149.8 404.2m-2 0a2 1.6 0 1 0 4 0a2 1.6 0 1 0-4 0M131.5 383.8m-2 0a2 1.6 0 1 0 4 0a2 1.6 0 1 0-4 0M134.3 372.9m-2 0a2 1.6 0 1 0 4 0a2 1.6 0 1 0-4 0M152.0 392.6m-2 0a2 1.6 0 1 0 4 0a2 1.6 0 1 0-4 0M24.6 343.0m-2 0a2 1.6 0 1 0 4 0a2 1.6 0 1 0-4 0M132.3 347.2m-2 0a2 1.6 0 1 0 4 0a2 1.6 0 1 0-4 0M155.9 375.4m-2 0a2 1.6 0 1 0 4 0a2 1.6 0 1 0-4 0M100.2 383.1m-2 0a2 1.6 0 1 0 4 0a2 1.6 0 1 0-4 0M87.1 331.0m-2 0a2 1.6 0 1 0 4 0a2 1.6 0 1 0-4 0M55.0 428.2m-2 0a2 1.6 0 1 0 4 0a2 1.6 0 1 0-4 0M71.1 382.7m-2 0a2 1.6 0 1 0 4 0a2 1.6 0 1 0-4 0M72.8 400.1m-2 0a2 1.6 0 1 0 4 0a2 1.6 0 1 0-4 0M174.2 425.1m-2 0a2 1.6 0 1 0 4 0a2 1.6 0 1 0-4 0M170.1 411.9m-2 0a2 1.6 0 1 0 4 0a2 1.6 0 1 0-4 0M56.0 350.9m-2 0a2 1.6 0 1 0 4 0a2 1.6 0 1 0-4 0M29.3 383.5m-2 0a2 1.6 0 1 0 4 0a2 1.6 0 1 0-4 0M24.3 397.9m-2 0a2 1.6 0 1 0 4 0a2 1.6 0 1 0-4 0M72.5 372.5m-2 0a2 1.6 0 1 0 4 0a2 1.6 0 1 0-4 0M6.9 377.3m-2 0a2 1.6 0 1 0 4 0a2 1.6 0 1 0-4 0M159.8 403.5m-2 0a2 1.6 0 1 0 4 0a2 1.6 0 1 0-4 0M20.8 334.5m-2 0a2 1.6 0 1 0 4 0a2 1.6 0 1 0-4 0M43.4 348.1m-2 0a2 1.6 0 1 0 4 0a2 1.6 0 1 0-4 0M88.5 341.0m-2 0a2 1.6 0 1 0 4 0a2 1.6 0 1 0-4 0M13.6 347.6m-2 0a2 1.6 0 1 0 4 0a2 1.6 0 1 0-4 0M159.2 380.5m-2 0a2 1.6 0 1 0 4 0a2 1.6 0 1 0-4 0M79.8 344.9m-2 0a2 1.6 0 1 0 4 0a2 1.6 0 1 0-4 0M31.7 411.9m-2 0a2 1.6 0 1 0 4 0a2 1.6 0 1 0-4 0M166.3 365.1m-2 0a2 1.6 0 1 0 4 0a2 1.6 0 1 0-4 0M83.1 353.8m-2 0a2 1.6 0 1 0 4 0a2 1.6 0 1 0-4 0M124.1 376.4m-2 0a2 1.6 0 1 0 4 0a2 1.6 0 1 0-4 0M160.9 357.4m-2 0a2 1.6 0 1 0 4 0a2 1.6 0 1 0-4 0M57.4 403.8m-2 0a2 1.6 0 1 0 4 0a2 1.6 0 1 0-4 0M147.0 403.9m-2 0a2 1.6 0 1 0 4 0a2 1.6 0 1 0-4 0M70.0 425.1m-2 0a2 1.6 0 1 0 4 0a2 1.6 0 1 0-4 0M110.9 369.4m-2 0a2 1.6 0 1 0 4 0a2 1.6 0 1 0-4 0M138.1 339.5m-2 0a2 1.6 0 1 0 4 0a2 1.6 0 1 0-4 0M128.4 424.9m-2 0a2 1.6 0 1 0 4 0a2 1.6 0 1 0-4 0M127.1 325.0m-2 0a2 1.6 0 1 0 4 0a2 1.6 0 1 0-4 0M21.7 416.1m-2 0a2 1.6 0 1 0 4 0a2 1.6 0 1 0-4 0M35.8 364.6m-2 0a2 1.6 0 1 0 4 0a2 1.6 0 1 0-4 0M111.2 381.8m-2 0a2 1.6 0 1 0 4 0a2 1.6 0 1 0-4 0M165.5 410.1m-2 0a2 1.6 0 1 0 4 0a2 1.6 0 1 0-4 0M62.2 383.1m-2 0a2 1.6 0 1 0 4 0a2 1.6 0 1 0-4 0M65.2 375.7m-2 0a2 1.6 0 1 0 4 0a2 1.6 0 1 0-4 0M73.2 337.9m-2 0a2 1.6 0 1 0 4 0a2 1.6 0 1 0-4 0M125.2 393.8m-2 0a2 1.6 0 1 0 4 0a2 1.6 0 1 0-4 0M146.2 384.0m-2 0a2 1.6 0 1 0 4 0a2 1.6 0 1 0-4 0M66.6 333.7m-2 0a2 1.6 0 1 0 4 0a2 1.6 0 1 0-4 0M132.3 324.7m-2 0a2 1.6 0 1 0 4 0a2 1.6 0 1 0-4 0M61.5 355.1m-2 0a2 1.6 0 1 0 4 0a2 1.6 0 1 0-4 0M154.9 348.8m-2 0a2 1.6 0 1 0 4 0a2 1.6 0 1 0-4 0M38.0 367.2m-2 0a2 1.6 0 1 0 4 0a2 1.6 0 1 0-4 0M162.5 331.1m-2 0a2 1.6 0 1 0 4 0a2 1.6 0 1 0-4 0M89.6 400.7m-2 0a2 1.6 0 1 0 4 0a2 1.6 0 1 0-4 0M134.3 415.2m-2 0a2 1.6 0 1 0 4 0a2 1.6 0 1 0-4 0M96.1 364.1m-2 0a2 1.6 0 1 0 4 0a2 1.6 0 1 0-4 0M86.6 335.4m-2 0a2 1.6 0 1 0 4 0a2 1.6 0 1 0-4 0M155.0 403.4m-2 0a2 1.6 0 1 0 4 0a2 1.6 0 1 0-4 0M102.4 337.0m-2 0a2 1.6 0 1 0 4 0a2 1.6 0 1 0-4 0M89.7 328.3m-2 0a2 1.6 0 1 0 4 0a2 1.6 0 1 0-4 0M109.4 374.6m-2 0a2 1.6 0 1 0 4 0a2 1.6 0 1 0-4 0M134.6 327.5m-2 0a2 1.6 0 1 0 4 0a2 1.6 0 1 0-4 0M101.7 419.4m-2 0a2 1.6 0 1 0 4 0a2 1.6 0 1 0-4 0M89.0 417.2m-2 0a2 1.6 0 1 0 4 0a2 1.6 0 1 0-4 0M113.6 360.3m-2 0a2 1.6 0 1 0 4 0a2 1.6 0 1 0-4 0M42.8 412.5m-2 0a2 1.6 0 1 0 4 0a2 1.6 0 1 0-4 0M102.3 358.8m-2 0a2 1.6 0 1 0 4 0a2 1.6 0 1 0-4 0M123.0 366.1m-2 0a2 1.6 0 1 0 4 0a2 1.6 0 1 0-4 0M31.6 321.9m-2 0a2 1.6 0 1 0 4 0a2 1.6 0 1 0-4 0M138.4 396.1m-2 0a2 1.6 0 1 0 4 0a2 1.6 0 1 0-4 0M80.3 381.5m-2 0a2 1.6 0 1 0 4 0a2 1.6 0 1 0-4 0M43.0 381.9m-2 0a2 1.6 0 1 0 4 0a2 1.6 0 1 0-4 0M159.5 335.2m-2 0a2 1.6 0 1 0 4 0a2 1.6 0 1 0-4 0M24.0 367.2m-2 0a2 1.6 0 1 0 4 0a2 1.6 0 1 0-4 0M126.1 327.8m-2 0a2 1.6 0 1 0 4 0a2 1.6 0 1 0-4 0M42.1 345.0m-2 0a2 1.6 0 1 0 4 0a2 1.6 0 1 0-4 0M5.3 403.6m-2 0a2 1.6 0 1 0 4 0a2 1.6 0 1 0-4 0M29.6 357.2m-2 0a2 1.6 0 1 0 4 0a2 1.6 0 1 0-4 0M128.0 352.5m-2 0a2 1.6 0 1 0 4 0a2 1.6 0 1 0-4 0M90.4 338.2m-2 0a2 1.6 0 1 0 4 0a2 1.6 0 1 0-4 0M100.0 378.4m-2 0a2 1.6 0 1 0 4 0a2 1.6 0 1 0-4 0M47.0 328.5m-2 0a2 1.6 0 1 0 4 0a2 1.6 0 1 0-4 0M86.4 419.1m-2 0a2 1.6 0 1 0 4 0a2 1.6 0 1 0-4 0M173.1 409.8m-2 0a2 1.6 0 1 0 4 0a2 1.6 0 1 0-4 0M32.0 386.2m-2 0a2 1.6 0 1 0 4 0a2 1.6 0 1 0-4 0M135.1 379.5m-2 0a2 1.6 0 1 0 4 0a2 1.6 0 1 0-4 0M42.4 377.1m-2 0a2 1.6 0 1 0 4 0a2 1.6 0 1 0-4 0M31.2 320.0m-2 0a2 1.6 0 1 0 4 0a2 1.6 0 1 0-4 0M58.4 381.3m-2 0a2 1.6 0 1 0 4 0a2 1.6 0 1 0-4 0M173.8 405.7m-2 0a2 1.6 0 1 0 4 0a2 1.6 0 1 0-4 0M64.8 370.6m-2 0a2 1.6 0 1 0 4 0a2 1.6 0 1 0-4 0M25.4 366.9m-2 0a2 1.6 0 1 0 4 0a2 1.6 0 1 0-4 0M35.5 333.6m-2 0a2 1.6 0 1 0 4 0a2 1.6 0 1 0-4 0M110.6 390.8m-2 0a2 1.6 0 1 0 4 0a2 1.6 0 1 0-4 0M165.0 378.1m-2 0a2 1.6 0 1 0 4 0a2 1.6 0 1 0-4 0M115.3 377.3m-2 0a2 1.6 0 1 0 4 0a2 1.6 0 1 0-4 0M174.3 391.1m-2 0a2 1.6 0 1 0 4 0a2 1.6 0 1 0-4 0M159.9 369.7m-2 0a2 1.6 0 1 0 4 0a2 1.6 0 1 0-4 0M115.4 319.8m-2 0a2 1.6 0 1 0 4 0a2 1.6 0 1 0-4 0M90.7 398.6m-2 0a2 1.6 0 1 0 4 0a2 1.6 0 1 0-4 0M13.5 424.7m-2 0a2 1.6 0 1 0 4 0a2 1.6 0 1 0-4 0M141.4 326.9m-2 0a2 1.6 0 1 0 4 0a2 1.6 0 1 0-4 0M151.6 419.1m-2 0a2 1.6 0 1 0 4 0a2 1.6 0 1 0-4 0M87.5 337.9m-2 0a2 1.6 0 1 0 4 0a2 1.6 0 1 0-4 0M67.8 379.0m-2 0a2 1.6 0 1 0 4 0a2 1.6 0 1 0-4 0M67.0 322.2m-2 0a2 1.6 0 1 0 4 0a2 1.6 0 1 0-4 0M163.6 370.2m-2 0a2 1.6 0 1 0 4 0a2 1.6 0 1 0-4 0M73.8 420.4m-2 0a2 1.6 0 1 0 4 0a2 1.6 0 1 0-4 0M66.8 352.9m-2 0a2 1.6 0 1 0 4 0a2 1.6 0 1 0-4 0M62.8 413.4m-2 0a2 1.6 0 1 0 4 0a2 1.6 0 1 0-4 0M37.8 359.6m-2 0a2 1.6 0 1 0 4 0a2 1.6 0 1 0-4 0M4.6 414.7m-2 0a2 1.6 0 1 0 4 0a2 1.6 0 1 0-4 0M78.0 350.5m-2 0a2 1.6 0 1 0 4 0a2 1.6 0 1 0-4 0M25.4 359.5m-2 0a2 1.6 0 1 0 4 0a2 1.6 0 1 0-4 0M169.0 359.5m-2 0a2 1.6 0 1 0 4 0a2 1.6 0 1 0-4 0M20.5 337.7m-2 0a2 1.6 0 1 0 4 0a2 1.6 0 1 0-4 0M66.0 361.5m-2 0a2 1.6 0 1 0 4 0a2 1.6 0 1 0-4 0M14.1 382.9m-2 0a2 1.6 0 1 0 4 0a2 1.6 0 1 0-4 0M72.0 339.4m-2 0a2 1.6 0 1 0 4 0a2 1.6 0 1 0-4 0M149.3 401.1m-2 0a2 1.6 0 1 0 4 0a2 1.6 0 1 0-4 0M9.7 361.7m-2 0a2 1.6 0 1 0 4 0a2 1.6 0 1 0-4 0M174.8 368.2m-2 0a2 1.6 0 1 0 4 0a2 1.6 0 1 0-4 0M127.4 330.4m-2 0a2 1.6 0 1 0 4 0a2 1.6 0 1 0-4 0M42.1 417.2m-2 0a2 1.6 0 1 0 4 0a2 1.6 0 1 0-4 0M87.7 354.2m-2 0a2 1.6 0 1 0 4 0a2 1.6 0 1 0-4 0M40.7 345.2m-2 0a2 1.6 0 1 0 4 0a2 1.6 0 1 0-4 0" fill="#2c2c2c" opacity="0.75" filter="url(#nuc)"/>
<path d="M51.5 345.8Q56.4 344.3 62.0 345.3M125.3 341.3Q123.1 338.5 119.9 334.6M168.6 419.9Q169.2 412.4 168.0 413.1M138.0 358.8Q137.2 358.2 139.5 360.4M14.4 416.8Q10.1 419.1 8.5 421.9M50.7 420.7Q48.7 422.5 47.9 424.3M107.0 348.2Q102.8 349.3 97.8 347.9M115.3 331.5Q117.2 333.1 119.8 326.0M82.9 369.9Q83.7 369.0 83.0 367.5M17.8 373.7Q20.3 371.5 15.5 369.1M143.4 401.7Q147.5 405.2 151.3 403.3M97.1 410.1Q96.9 415.1 95.8 418.5M63.1 425.7Q68.0 425.1 69.1 421.0M141.4 347.0Q144.5 346.7 145.6 342.9M168.3 423.9Q163.6 431.2 157.9 432.0M96.2 348.9Q88.8 350.7 86.8 347.4M58.2 409.9Q60.1 413.5 60.1 416.3M156.1 411.7Q153.7 408.8 159.6 410.1M-0.1 338.3Q0.9 341.4 0.4 337.5M20.5 390.9Q20.3 389.9 22.7 389.7M123.3 384.9Q119.0 386.4 118.6 385.6M81.0 418.0Q84.2 416.3 76.5 416.6M37.1 416.7Q36.8 421.7 34.4 422.8M81.6 366.5Q82.7 367.2 83.0 367.5M129.6 360.3Q132.2 368.2 126.7 370.2M26.9 391.4Q26.8 391.3 22.7 389.7M38.0 382.5Q38.2 390.2 40.0 389.6M32.9 369.1Q33.3 368.5 33.0 367.7M163.9 346.8Q163.9 347.2 167.2 346.9M50.5 360.5Q58.7 351.8 63.2 347.8M8.5 421.9Q7.2 427.4 2.8 420.1M111.4 408.1Q115.6 415.3 114.7 423.6M161.6 373.8Q162.8 377.9 162.3 374.7M25.8 427.1Q24.0 426.0 14.4 416.8M136.8 332.5Q134.9 335.5 133.7 332.9M108.2 386.7Q104.0 390.0 101.2 396.7M134.8 358.6Q137.9 355.7 138.0 358.8M104.1 373.0Q101.1 370.4 100.8 369.6M58.2 409.9Q55.0 408.9 50.3 407.1M159.6 410.1Q163.9 413.5 168.0 413.1M160.2 332.6Q169.1 334.6 169.3 335.3M141.9 401.2Q141.8 406.5 137.3 405.7M142.9 376.7Q146.2 382.7 149.6 388.0M88.8 333.5Q86.3 335.6 90.0 334.9M39.0 325.3Q39.9 328.2 41.7 333.0M73.0 349.8Q74.9 354.9 76.8 359.5M63.1 425.7Q66.3 422.6 63.2 427.1M57.8 331.4Q59.9 332.0 64.1 339.1M79.1 316.7Q81.2 314.7 83.6 321.1M32.3 402.9Q28.4 397.7 31.5 394.7M145.9 322.5Q146.6 323.3 146.9 323.4M61.7 427.9Q60.5 426.8 63.2 427.1M82.9 369.9Q79.6 375.3 74.6 380.6M134.8 358.6Q131.1 358.1 129.6 360.3M129.8 340.6Q125.0 342.1 126.6 341.6M20.7 364.9Q23.9 362.4 26.0 355.5M51.1 321.0Q49.9 321.7 46.8 320.8M67.3 414.6Q70.0 418.6 69.1 421.0M159.2 364.0Q160.2 366.3 150.5 363.4M160.9 366.2Q160.5 369.1 161.6 373.8M58.9 420.6Q58.1 421.1 50.7 420.7M108.2 386.7Q108.9 389.2 106.8 385.0M24.4 350.7Q22.2 349.9 26.0 355.5M106.5 317.3Q98.5 312.1 99.3 315.0M157.9 321.6Q158.2 316.0 157.4 320.9M23.9 377.0Q29.6 376.1 37.5 380.1M166.6 398.3Q168.0 397.7 170.1 397.6M7.4 335.9Q4.8 336.6 3.6 336.6M104.2 406.0Q103.4 400.2 101.9 400.1M170.1 397.6Q170.5 390.4 179.6 389.8M70.0 349.9Q70.6 346.8 68.2 354.0M39.7 324.1Q34.0 317.3 34.5 315.6M146.2 369.7Q148.7 369.7 146.1 370.2M163.9 346.8Q162.7 346.1 152.6 341.1M111.9 331.9Q114.7 332.1 115.3 331.5M72.4 322.2Q69.7 326.1 71.7 327.2M168.6 348.3Q164.5 349.4 167.2 346.9M65.2 379.6Q67.4 378.2 68.5 374.2M77.4 427.8Q78.2 424.9 82.1 423.0M154.3 355.7Q154.3 353.0 163.9 346.8M123.3 384.9Q125.0 386.7 132.1 392.6M179.5 359.3Q172.7 352.1 170.4 348.8M159.2 364.0Q162.7 362.2 165.4 359.3M51.7 364.5Q56.1 368.7 55.8 363.2M167.0 402.7Q167.1 399.3 168.2 404.5M7.4 335.9Q6.2 339.7 4.7 344.3M30.1 370.6Q29.4 368.3 24.6 364.1M145.8 342.9Q152.5 343.2 145.6 342.9M80.8 338.9Q80.2 335.2 83.2 340.4M66.4 383.2Q66.2 386.9 63.4 390.5M83.0 367.5Q84.1 365.8 83.5 367.3M0.9 405.8Q3.5 405.3 3.8 410.2M94.2 387.3Q98.8 384.7 106.8 385.0M43.5 335.4Q48.4 325.6 54.7 323.0M88.8 333.5Q88.5 337.1 89.2 331.4M146.0 365.7Q141.2 360.2 139.5 360.4M40.5 351.0Q41.6 347.8 43.5 345.1M19.7 325.8Q19.8 322.1 21.5 325.0M93.0 313.3Q85.3 315.6 83.6 321.1M166.4 368.4Q160.7 367.8 160.9 366.2M30.1 370.6Q28.9 363.8 32.9 369.1M21.5 325.0Q20.3 315.9 23.1 313.6M10.9 355.7Q10.0 355.3 14.1 357.3M129.1 350.9Q131.2 342.2 126.6 341.6M39.7 324.1Q39.8 321.0 46.8 320.8M30.1 370.6Q22.6 374.4 23.9 377.0M51.6 366.5Q55.5 364.6 51.7 364.5M152.6 411.0Q152.1 405.6 155.6 411.4M167.0 402.7Q164.1 407.0 159.6 410.1M96.0 335.8Q93.3 337.4 90.0 334.9M129.1 415.8Q130.9 417.9 128.9 418.5M169.6 334.9Q169.9 335.3 169.3 335.3M131.0 327.4Q128.9 327.0 129.9 326.4M57.8 331.4Q60.2 329.5 58.0 327.6M93.0 313.1Q95.6 311.0 97.2 312.5M28.8 361.0Q27.2 359.7 26.0 355.5M161.0 392.2Q164.9 392.1 167.1 384.8M18.6 344.4Q14.6 343.6 13.4 341.5M66.8 338.5Q70.5 343.1 74.9 344.4M106.7 430.4Q107.3 430.5 105.9 433.8M60.1 416.3Q62.7 417.8 67.3 414.6M144.4 396.4Q144.3 392.0 143.4 391.0M9.3 346.3Q2.9 347.1 9.0 349.8M2.6 328.0Q2.6 331.4 3.6 336.6M174.8 411.0Q175.1 409.7 175.0 410.8M171.7 419.6Q174.6 421.3 168.8 420.1M49.0 425.8Q48.2 421.7 47.9 424.3M3.7 364.1Q-0.9 362.8 -0.9 364.9M51.6 366.5Q46.4 371.5 42.5 370.5M168.8 420.1Q168.0 419.9 168.3 423.9M49.1 404.3Q52.8 398.1 64.7 396.8M19.7 325.8Q11.2 323.3 5.5 321.1M55.8 363.2Q59.6 361.7 62.3 358.6M98.0 425.0Q99.8 426.3 95.8 418.5M37.5 380.1Q37.8 380.1 38.0 381.0M82.5 349.0Q84.3 350.0 85.3 348.4M116.2 368.3Q113.2 365.3 106.1 362.9M68.1 393.4Q69.4 391.8 65.8 393.6M77.9 405.1Q69.1 400.3 68.1 393.4M155.0 387.0Q154.0 384.4 154.4 380.8M23.1 433.4Q17.7 432.0 8.7 430.8M33.0 367.7Q32.5 364.7 31.1 361.8M100.5 327.0Q97.1 332.4 96.0 335.8M129.5 374.5Q127.1 372.5 126.7 370.2M12.3 335.8Q7.4 334.5 13.5 334.8M24.0 313.8Q18.5 315.0 23.1 313.6M43.5 335.4Q43.2 335.8 44.3 337.0M42.1 425.5Q37.8 424.4 35.8 423.6M90.0 334.9Q85.6 337.5 88.5 338.4M143.4 401.7Q146.9 406.1 151.8 407.9M88.5 333.6Q86.5 333.0 88.8 333.5M141.4 347.0Q135.9 341.6 129.8 340.6M4.8 326.2Q4.2 329.1 2.6 328.0M138.9 320.2Q139.2 318.6 137.2 318.7M63.7 315.2Q60.1 318.6 55.9 323.5M167.2 346.9Q170.3 338.6 169.3 335.3M0.1 348.9Q4.1 349.4 1.1 343.6M63.2 347.8Q66.5 348.1 63.3 347.6M159.4 418.4Q156.6 415.0 156.1 411.7M128.4 316.2Q132.6 320.9 129.9 326.4M50.1 390.1Q45.8 389.1 47.4 392.4M32.1 346.9Q32.9 347.4 35.0 349.8M64.1 339.1Q65.8 337.3 66.8 338.5M104.5 380.7Q109.1 382.7 106.8 385.0M4.4 317.1Q3.5 317.1 4.0 318.1M50.7 362.5Q40.0 359.7 35.4 357.0M174.8 411.0Q173.4 411.6 168.6 411.4M118.0 403.8Q119.0 395.8 117.5 386.7M118.4 364.3Q113.6 358.6 112.2 351.0M108.9 350.1Q111.1 353.1 112.2 351.0M95.8 418.5Q91.4 417.4 91.8 420.0M24.4 407.3Q21.0 405.8 17.2 406.6M34.4 422.8Q32.5 422.3 31.3 423.3M12.1 379.7Q12.4 382.4 11.0 380.6M118.6 385.6Q117.3 386.0 117.9 386.2M179.0 362.2Q174.5 365.5 171.1 364.6M105.0 378.5Q107.4 376.3 104.5 380.7M50.9 363.1Q46.7 364.9 39.6 363.5M0.1 348.9Q7.0 349.7 9.0 349.8M156.1 411.7Q158.5 411.0 155.6 411.4M105.0 378.5Q103.3 374.5 104.1 373.0M72.8 380.5Q72.6 375.6 68.5 374.2M16.0 366.6Q17.5 365.0 14.1 357.3M50.3 407.1Q49.0 409.3 49.1 404.3M34.3 359.3Q34.6 359.6 35.4 357.0M71.7 327.2Q75.6 329.4 74.2 330.9M101.9 326.8Q98.9 318.3 99.3 315.0M175.3 381.0Q177.1 378.8 176.4 377.9M74.6 380.6Q79.1 388.2 78.5 391.0M118.1 371.4Q124.6 369.0 126.7 370.2M153.3 398.2Q152.8 401.9 151.3 403.3M108.2 386.7Q112.4 388.8 117.5 386.7M23.1 433.4Q23.2 429.9 25.8 427.1M49.0 425.8Q53.9 432.2 61.7 427.9M71.8 410.1Q76.4 409.1 76.5 416.6M112.2 351.0Q116.6 348.8 116.6 350.4M23.3 350.7Q17.6 352.0 14.1 357.3M105.8 327.0Q113.6 320.4 119.2 313.7M50.1 390.1Q52.8 390.5 51.3 389.3M88.5 333.6Q87.0 337.3 83.2 340.4M97.7 370.4Q93.0 366.5 83.5 367.3M128.4 360.2Q128.4 364.7 129.6 360.3M106.1 362.9Q100.9 361.5 102.8 365.4" fill="none" stroke="#a4a4a4" stroke-width="0.8" opacity="0.2" filter="url(#soft)"/>
<path d="M83.1 415.0Q86.1 413.2 91.8 420.0M100.5 327.0Q94.7 328.6 96.2 325.1M92.0 430.7Q86.7 427.1 87.2 429.1M31.1 361.8Q28.0 362.0 28.8 361.0M181.5 336.4Q177.5 334.3 169.6 334.9M168.3 423.9Q170.0 426.7 168.4 424.0M34.5 315.6Q29.0 315.5 24.0 313.8M95.9 426.1Q92.7 433.8 92.0 430.7M2.8 420.1Q4.8 417.5 1.2 414.3M97.2 312.5Q99.9 315.5 99.3 315.0M16.0 366.6Q17.7 367.8 20.7 364.9M0.4 337.5Q2.5 339.4 3.6 336.6M111.4 408.1Q116.1 404.8 117.9 403.9M77.9 405.1Q74.7 408.6 73.5 407.4M73.0 349.8Q75.3 348.4 74.6 347.8M171.7 419.6Q175.8 417.6 174.8 411.0M117.2 350.0Q123.0 348.6 129.1 350.9M62.9 356.1Q63.5 353.0 63.2 347.8M154.3 355.7Q150.2 351.4 145.8 342.9M157.9 432.0Q161.9 433.8 158.1 433.2M170.3 348.8Q169.0 350.2 168.6 348.3M117.5 386.7Q112.9 388.8 117.9 386.2M96.2 325.1Q94.4 325.8 95.3 324.4M23.4 378.2Q21.7 383.8 22.7 389.7M10.2 355.1Q8.6 353.9 9.0 349.8M47.9 424.3Q43.8 426.8 42.1 425.5M132.1 392.6Q128.6 400.1 130.2 401.3M97.7 370.4Q94.9 376.7 96.0 381.6M76.5 416.6Q70.7 415.0 70.0 421.0M83.6 321.1Q82.5 320.5 84.8 323.6M98.0 425.0Q96.5 426.1 95.9 426.1M60.1 416.3Q57.7 418.1 58.9 420.6M79.0 332.6Q75.0 333.6 78.8 332.1M53.1 371.2Q55.0 367.3 51.6 366.5M95.9 426.1Q93.2 427.2 85.7 425.1M138.9 320.2Q143.3 322.3 145.9 322.5M105.8 327.0Q104.6 327.4 105.2 326.7M131.1 330.2Q133.9 329.7 131.2 330.4M39.6 363.5Q32.7 357.8 34.3 359.3M153.8 336.7Q154.2 333.8 160.2 332.6M81.0 418.0Q85.3 420.0 82.1 423.0M40.0 389.6Q44.3 391.1 47.4 392.4M101.9 326.8Q104.2 323.6 105.2 326.7M56.5 373.9Q57.5 381.5 61.7 389.9M4.7 344.3Q7.7 346.7 9.3 346.3M131.0 327.4Q129.2 329.3 131.1 330.2M3.4 399.9Q3.9 400.4 0.9 405.8M20.5 390.9Q14.0 394.9 13.5 395.6M133.7 332.9Q131.8 329.6 131.2 330.4M121.6 322.7Q126.6 322.6 129.9 326.4M50.3 407.1Q51.3 411.6 48.8 412.1M-0.9 364.9Q-0.9 365.8 -0.7 365.7M71.7 327.2Q64.3 325.4 58.0 327.6M129.8 376.5Q128.5 380.8 129.0 378.3M153.8 336.7Q151.4 329.8 151.4 326.1M129.8 376.5Q127.3 375.8 129.5 374.5M169.5 372.6Q174.6 373.0 168.9 370.3M118.0 403.8Q122.8 403.6 130.2 401.3M105.0 378.5Q108.3 380.5 109.9 377.8M23.4 377.2Q23.8 379.5 23.9 377.0M23.3 337.9Q25.1 339.2 28.4 336.0M181.4 402.9Q178.3 408.4 173.8 406.8M169.5 372.6Q166.4 373.8 162.3 374.7M154.4 380.8Q159.9 379.6 161.6 376.9M44.4 314.4Q43.3 313.2 36.3 313.1M5.5 321.1Q4.5 317.5 4.0 318.1M100.8 369.6Q99.6 369.4 97.7 370.4M170.3 348.8Q170.1 349.4 170.4 348.8M143.8 414.7Q147.8 414.8 152.6 411.0M23.3 350.7Q23.7 349.6 24.4 350.7M143.4 391.0Q147.8 387.3 149.6 388.0M84.8 424.1Q86.8 423.7 85.7 425.1M176.8 428.7Q175.5 432.5 171.0 432.3M137.7 407.0Q129.8 415.0 129.1 415.8M95.3 324.4Q89.9 322.8 84.8 323.6M4.8 326.2Q8.0 324.8 5.5 321.1M166.6 360.8Q166.9 366.3 166.4 368.4M111.4 408.1Q110.2 408.1 104.2 406.0M62.0 345.3Q61.2 341.4 64.1 339.1M41.7 333.0Q43.5 331.9 43.5 335.4M139.0 388.1Q138.3 389.3 132.1 392.6M151.4 326.1Q153.0 325.5 155.8 324.6M63.3 347.6Q64.7 349.4 70.0 349.9M63.1 407.3Q63.3 408.3 69.3 410.8M116.2 368.3Q117.6 365.8 118.4 364.3M82.9 369.9Q84.2 376.2 88.8 384.8M161.0 392.2Q160.1 387.3 155.0 387.0M34.1 344.6Q38.6 343.8 44.3 337.0M8.7 430.8Q10.9 426.8 8.5 421.9M48.7 339.4Q46.0 340.2 44.3 337.0M155.8 324.6Q153.5 322.7 157.9 321.6M68.5 374.2Q65.1 375.9 68.6 372.1M83.0 403.9Q85.5 410.0 86.8 408.5M168.6 348.3Q168.9 357.1 165.4 359.3M109.9 377.8Q112.9 381.4 117.9 386.2M137.2 318.7Q138.1 314.5 134.7 314.3M13.4 341.5Q13.8 346.4 9.3 346.3M31.5 394.7Q28.1 393.0 26.9 391.4M154.3 355.7Q153.1 359.9 150.5 363.4M70.0 421.0Q68.6 421.7 69.1 421.0M48.6 354.6Q44.6 353.5 40.5 351.0M104.1 373.0Q109.0 374.0 115.2 371.7M53.1 371.2Q55.3 374.6 51.6 374.5M23.3 337.9Q23.6 344.9 18.6 344.4M128.9 418.5Q126.6 423.5 134.7 423.3M165.4 359.3Q166.7 359.1 166.6 360.8M7.0 371.6Q2.6 368.5 -0.7 365.7M56.5 373.9Q63.6 380.0 65.2 379.6M175.3 381.0Q169.9 382.9 167.1 384.8M48.7 339.4Q48.6 338.3 49.2 341.3M10.9 355.7Q9.8 360.5 3.7 364.1M10.9 355.7Q8.5 358.4 10.2 355.1M180.6 412.0Q177.5 413.7 175.0 410.8M51.1 321.0Q56.9 323.2 54.7 323.0M91.9 385.1Q90.2 386.6 94.2 387.3M13.5 395.6Q15.5 402.3 17.2 406.6M12.6 395.3Q8.0 401.7 3.4 399.9M168.6 419.9Q161.8 420.1 159.4 418.4M78.2 365.1Q77.2 366.4 77.7 364.2M68.1 359.1Q64.5 356.4 68.2 354.0M128.7 379.8Q126.8 382.8 129.0 378.3M77.7 364.2Q78.5 364.4 76.8 359.5M100.5 327.0Q102.2 327.3 101.9 326.8M62.9 356.1Q65.3 357.0 68.2 354.0M168.6 419.9Q169.3 421.0 168.8 420.1M32.2 384.7Q30.8 385.5 23.4 378.2M24.6 364.1Q25.1 363.3 28.8 361.0M171.0 432.3Q168.2 431.8 170.3 431.5M143.8 414.7Q142.8 416.6 142.8 421.6M151.8 407.9Q152.7 409.8 152.6 411.0M32.9 369.1Q31.2 366.2 33.7 369.6M134.8 358.6Q129.4 353.5 129.1 350.9M51.6 374.5Q49.9 380.3 51.3 389.3M96.0 381.6Q95.7 379.4 104.5 380.7M153.3 398.2Q158.5 398.1 159.1 395.5M154.3 426.6Q149.8 425.9 144.7 424.2M152.6 341.1Q152.0 341.5 145.8 342.9M78.8 332.1Q81.0 331.6 83.6 326.3M11.0 380.6Q5.3 386.3 7.7 388.8M43.4 379.6Q49.8 382.4 51.6 374.5M32.3 402.9Q29.3 407.3 24.4 407.3M39.0 325.3Q36.8 323.6 36.4 326.1M88.5 338.4Q86.2 341.2 83.3 340.4M32.2 384.7Q30.1 390.4 26.9 391.4M115.2 371.7Q119.7 371.7 116.5 371.2M28.4 336.0Q35.5 337.2 29.6 337.8M73.5 407.4Q73.9 403.1 65.1 396.3M39.0 325.3Q40.6 326.0 39.7 324.1M81.8 391.8Q80.4 390.1 78.5 391.0M106.7 430.4Q113.3 422.2 114.7 423.6M89.2 331.4Q86.0 326.8 83.6 326.3M14.3 410.7Q5.3 410.2 3.8 410.2M74.2 330.9Q76.6 329.8 78.8 332.1M116.5 371.2Q119.4 370.0 118.1 371.4M-0.6 341.2Q2.8 344.5 1.1 343.6M160.2 332.6Q158.4 332.4 158.8 327.4M63.1 407.3Q65.8 402.3 64.7 396.8M28.4 336.0Q26.7 333.3 27.6 329.3M63.2 427.1Q69.6 427.4 64.0 428.1M159.2 364.0Q158.9 365.9 160.9 366.2M16.0 366.6Q18.1 370.4 15.6 368.2M51.5 345.8Q51.1 352.3 48.6 354.6M83.2 340.4Q81.2 344.2 83.3 340.4M69.3 410.8Q69.3 412.6 71.8 410.1M15.6 368.2Q11.1 369.1 15.5 369.1M43.5 345.1Q40.1 347.5 34.1 344.6M171.9 325.6Q172.8 327.3 170.8 328.0M33.7 369.6Q39.2 369.8 42.5 370.5M72.9 367.5Q75.6 364.1 78.2 365.1M34.5 315.6Q35.5 318.3 36.3 313.1M170.1 397.6Q178.0 400.5 181.4 402.9M53.1 371.2Q54.6 373.9 55.4 372.5M141.4 347.0Q136.6 357.4 138.0 358.8M116.5 371.2Q119.5 377.0 118.6 385.6M32.3 345.6Q30.3 347.0 34.1 344.6M166.4 368.4Q167.5 372.4 168.9 370.3M76.8 359.5Q81.2 353.3 82.5 349.0M66.4 383.2Q66.1 379.9 65.2 379.6M106.7 430.4Q103.1 427.6 98.0 425.0M57.8 331.4Q52.1 336.6 48.7 339.4M170.3 348.8Q169.4 342.7 181.5 336.4M97.1 410.1Q93.7 407.2 86.8 408.5M129.1 415.8Q121.4 413.8 117.9 403.9M77.7 364.2Q79.6 359.4 68.1 359.1M154.3 426.6Q153.2 426.8 159.4 418.4M146.0 365.7Q147.7 367.2 146.2 369.7M109.9 377.8Q113.1 376.1 115.2 371.7M117.2 350.0Q119.6 346.8 125.3 341.3M157.9 432.0Q152.9 425.7 154.3 426.6M161.0 392.2Q162.5 391.6 161.2 393.6M36.4 326.1Q28.0 315.0 24.0 313.8M66.8 338.5Q69.0 334.8 71.7 333.9M62.0 345.3Q61.8 345.9 63.3 347.6M171.1 364.6Q166.3 361.4 166.6 360.8M138.6 385.1Q130.5 379.9 128.7 379.8M136.8 332.5Q140.0 325.2 138.9 320.2M128.9 418.5Q120.4 420.6 114.7 423.6M13.5 334.8Q16.7 329.7 19.7 325.8M31.3 423.3Q30.9 425.8 25.8 427.1M51.7 364.5Q49.1 360.4 50.9 363.1M55.4 372.5Q63.8 372.0 68.6 372.1M58.9 420.6Q62.6 421.1 63.1 425.7M158.8 327.4Q165.3 327.1 170.8 328.0" fill="none" stroke="#a4a4a4" stroke-width="1.0" opacity="0.4" filter="url(#soft)"/>
<path d="M97.8 347.9Q96.2 352.1 96.2 348.9M23.3 337.9Q18.0 334.0 13.5 334.8M138.6 385.1Q139.4 385.2 139.0 388.1M179.9 390.0Q182.8 389.8 179.6 389.8M168.0 413.1Q169.7 412.2 168.6 411.4M105.2 326.7Q106.6 323.0 106.5 317.3M83.0 403.9Q78.8 402.6 83.4 398.0M54.7 323.0Q55.7 321.8 55.9 323.5M161.2 393.6Q160.7 390.6 159.1 395.5M-0.1 338.3Q0.5 337.4 -0.6 341.2M50.5 360.5Q52.9 358.9 50.7 362.5M71.7 333.9Q76.1 339.0 75.6 343.5M50.9 363.1Q53.4 367.9 50.7 362.5M32.1 346.9Q28.5 349.6 24.4 350.7M93.8 356.2Q93.2 356.3 96.2 348.9M121.6 322.7Q123.4 322.8 119.8 326.0M33.0 367.7Q39.4 366.5 39.6 363.5M131.1 330.2Q125.4 328.4 119.8 326.0M49.1 404.3Q48.9 404.1 47.7 402.9M142.9 376.7Q144.2 377.7 138.6 385.1M12.1 379.7Q14.1 372.9 17.8 373.7M148.2 325.1Q151.7 324.2 151.4 326.1M36.4 405.0Q43.0 402.9 47.7 402.9M49.2 341.3Q44.3 343.8 43.5 345.1M146.2 369.7Q153.0 372.7 161.6 373.8M158.1 433.2Q160.7 433.3 170.3 431.5M56.5 373.9Q55.6 372.1 55.4 372.5M119.9 334.6Q116.2 330.6 115.3 331.5M104.2 406.0Q102.0 408.7 97.1 410.1M73.0 349.8Q73.6 351.2 70.0 349.9M173.8 406.8Q171.2 409.2 168.2 404.5M83.6 326.3Q82.8 326.6 84.8 323.6M13.4 341.5Q13.0 337.4 12.3 335.8M29.6 337.8Q35.7 335.9 41.7 333.0M86.8 347.4Q83.2 347.8 85.3 348.4M83.4 398.0Q84.7 398.6 83.1 395.6M88.8 384.8Q88.0 385.3 91.9 385.1M50.5 360.5Q46.6 358.0 48.6 354.6M81.6 366.5Q81.2 359.0 85.3 348.4M101.9 400.1Q102.7 397.4 101.2 396.7M155.0 387.0Q152.1 388.3 149.6 388.0M58.2 409.9Q62.5 410.3 63.1 407.3M38.0 382.5Q32.1 382.8 32.2 384.7M77.4 427.8Q77.0 427.3 77.2 427.8M102.8 365.4Q95.3 363.4 93.8 356.2M144.0 373.0Q135.2 376.6 129.8 376.5M58.0 327.6Q58.2 324.7 55.9 323.5M139.0 388.1Q138.7 384.3 143.4 391.0M74.2 330.9Q74.9 328.6 71.7 333.9M93.0 313.3Q95.2 318.8 95.3 324.4M143.8 414.7Q141.3 409.0 137.7 407.0M141.7 334.4Q142.1 337.6 136.8 332.5M3.1 376.4Q7.1 374.1 11.0 380.6M122.8 317.2Q127.2 318.9 128.4 316.2M91.9 385.1Q97.7 385.0 96.0 381.6M139.5 360.4Q133.9 363.1 129.5 374.5M33.7 369.6Q36.0 377.1 37.6 379.0M83.5 367.3Q89.8 364.8 93.8 356.2M35.8 423.6Q34.0 421.0 34.4 422.8M83.1 395.6Q82.1 392.5 81.8 391.8M42.5 370.5Q40.8 375.9 37.6 379.0M85.7 425.1Q88.8 427.6 87.2 429.1M161.2 393.6Q167.9 395.4 166.6 398.3M170.8 328.0Q172.7 329.5 169.6 334.9M151.3 403.3Q153.1 404.3 151.8 407.9M152.6 341.1Q156.3 341.1 153.8 336.7M129.0 378.3Q127.0 376.4 118.1 371.4M166.6 398.3Q166.0 397.3 167.0 402.7M155.8 324.6Q156.5 326.9 158.8 327.4M82.1 423.0Q83.1 423.4 84.8 424.1M171.1 364.6Q172.3 363.5 168.9 370.3M96.6 343.9Q95.7 344.0 88.5 338.4M72.9 367.5Q70.0 370.4 68.6 372.1M7.0 371.6Q9.5 368.3 15.5 369.1M144.4 396.4Q143.6 397.4 141.9 401.2M66.4 383.2Q68.8 379.8 72.8 380.5M97.8 347.9Q93.6 344.0 96.6 343.9M24.6 364.1Q21.0 362.5 20.7 364.9M12.1 379.7Q17.8 385.4 20.5 390.9M93.0 313.1Q91.3 311.2 93.0 313.3M100.2 395.7Q89.7 399.6 83.1 395.6M72.4 322.2Q75.0 323.6 79.1 316.7M116.2 368.3Q112.1 372.3 116.5 371.2M75.6 343.5Q76.6 344.4 74.9 344.4M62.3 358.6Q67.3 361.2 68.1 359.1M91.8 420.0Q90.6 421.0 84.8 424.1M128.7 379.8Q124.1 378.0 123.3 384.9M175.3 381.0Q178.8 385.6 179.6 389.8M10.0 335.1Q13.2 336.2 7.4 335.9M51.5 345.8Q50.7 342.8 49.2 341.3M3.8 410.2Q1.0 413.9 1.2 414.3M168.4 424.0Q169.5 427.9 170.3 431.5M31.5 394.7Q32.3 395.2 40.0 389.6M101.9 400.1Q93.6 401.8 83.4 398.0M137.3 405.7Q137.1 409.1 137.7 407.0M83.3 340.4Q85.8 343.0 86.8 347.4M75.6 343.5Q79.1 339.2 80.8 338.9M51.0 429.3Q55.5 430.1 55.5 432.4M31.1 361.8Q31.5 360.9 34.3 359.3M74.6 347.8Q78.8 348.0 74.9 344.4M81.0 418.0Q81.9 416.9 83.1 415.0M78.2 365.1Q83.7 365.8 81.6 366.5M62.3 358.6Q64.8 359.8 62.9 356.1M176.8 428.7Q174.1 425.6 168.4 424.0M128.4 360.2Q122.3 357.0 116.6 350.4M23.3 350.7Q18.2 344.5 18.6 344.4M176.4 377.9Q169.5 371.2 169.5 372.6M179.5 359.3Q179.8 360.4 179.0 362.2M14.4 416.8Q11.3 415.2 14.3 410.7M108.9 350.1Q108.6 350.7 107.0 348.2M86.8 408.5Q85.3 417.0 83.1 415.0M165.5 317.3Q159.4 322.0 157.9 321.6M175.0 410.8Q172.2 409.8 173.8 406.8M43.4 379.6Q44.3 384.2 50.1 390.1M15.6 368.2Q10.2 361.8 3.7 364.1M12.6 395.3Q16.4 393.7 13.5 395.6M50.7 420.7Q51.9 415.0 48.8 412.1M74.6 347.8Q80.1 345.6 82.5 349.0M35.4 357.0Q34.2 354.7 35.0 349.8M63.4 390.5Q67.3 393.7 65.8 393.6M125.3 341.3Q127.5 340.3 126.6 341.6M100.2 395.7Q98.8 394.9 101.2 396.7M10.0 335.1Q8.8 327.5 4.8 326.2M64.7 396.8Q65.3 392.9 65.1 396.3M88.8 384.8Q82.3 386.3 81.8 391.8M157.4 320.9Q157.0 319.7 151.9 316.9M27.6 329.3Q29.8 328.0 21.5 325.0M77.2 427.8Q71.9 427.2 70.0 421.0M119.2 313.7Q121.2 315.4 122.8 317.2M159.1 395.5Q160.6 402.5 155.6 411.4M154.4 380.8Q147.4 375.3 146.1 370.2M7.7 388.8Q10.6 391.1 12.6 395.3M122.8 317.2Q122.8 318.9 121.6 322.7M31.3 423.3Q31.9 417.4 24.4 407.3M148.2 325.1Q150.9 325.2 146.9 323.4M142.8 421.6Q140.4 423.0 134.7 423.3M137.2 318.7Q135.9 326.8 131.0 327.4M83.0 403.9Q77.8 400.7 77.9 405.1M177.8 420.2Q180.8 417.4 180.6 412.0M144.0 373.0Q143.7 367.6 146.1 370.2M23.4 377.2Q23.4 374.2 23.4 378.2M118.4 364.3Q121.0 362.3 128.4 360.2M111.9 331.9Q109.3 325.4 105.8 327.0M100.8 369.6Q103.4 366.6 102.8 365.4M100.2 395.7Q96.9 391.3 94.2 387.3M144.7 424.2Q145.6 419.7 142.8 421.6M47.7 402.9Q49.8 397.8 47.4 392.4M79.1 316.3Q80.1 312.3 79.1 316.7M77.4 427.8Q78.6 426.8 79.8 433.9M117.9 403.9Q116.9 398.3 118.0 403.8M144.4 396.4Q151.1 398.2 153.3 398.2M146.0 365.7Q151.8 369.2 150.5 363.4M89.2 331.4Q94.3 328.0 96.2 325.1M1.1 343.6Q-0.5 341.1 4.7 344.3M137.3 405.7Q134.7 399.8 130.2 401.3M10.0 335.1Q9.3 328.2 12.3 335.8M116.5 371.2Q114.2 365.4 116.5 371.2M133.7 332.9Q130.9 338.8 129.8 340.6M64.0 428.1Q62.5 426.0 65.3 433.4M134.7 314.3Q131.2 314.1 128.4 316.2M146.9 323.4Q154.7 323.4 151.9 316.9M61.7 389.9Q55.0 389.5 51.3 389.3M131.2 330.4Q125.7 334.5 119.9 334.6M61.7 389.9Q62.9 388.2 63.4 390.5M37.1 416.7Q36.2 410.5 36.4 405.0M72.8 380.5Q76.1 382.7 74.6 380.6M72.9 367.5Q66.5 364.6 55.8 363.2M51.0 429.3Q51.7 427.0 49.0 425.8M65.8 393.6Q66.1 394.7 65.1 396.3M68.1 393.4Q70.4 395.0 78.5 391.0M114.7 423.6Q117.9 423.8 114.7 423.6M141.7 334.4Q142.3 338.8 145.6 342.9M73.5 407.4Q72.7 408.9 71.8 410.1M167.1 384.8Q164.4 381.3 161.6 376.9M116.6 350.4Q115.2 350.6 117.2 350.0M168.2 404.5Q172.9 409.5 168.6 411.4M17.2 406.6Q13.3 404.7 14.3 410.7M177.8 420.2Q170.4 418.5 171.7 419.6M69.3 410.8Q71.6 412.4 67.3 414.6M141.9 401.2Q142.0 402.6 143.4 401.7M27.6 329.3Q29.5 326.6 36.4 326.1M32.3 345.6Q32.3 344.9 29.6 337.8M161.6 376.9Q160.8 376.4 162.3 374.7M171.9 325.6Q169.1 320.9 165.5 317.3M107.0 348.2Q108.0 339.5 111.9 331.9M88.5 333.6Q83.1 333.7 79.0 332.6M77.2 427.8Q74.6 429.3 74.3 429.1M144.0 373.0Q142.9 371.3 142.9 376.7M108.9 350.1Q109.2 353.8 106.1 362.9M37.5 380.1Q35.8 380.7 37.6 379.0M79.0 332.6Q81.1 339.1 80.8 338.9M74.3 429.1Q68.3 430.8 64.0 428.1M38.0 381.0Q41.6 382.7 43.4 379.6M36.4 405.0Q34.0 403.2 32.3 402.9M96.0 335.8Q98.6 340.3 96.6 343.9M141.7 334.4Q145.9 330.4 148.2 325.1M7.0 371.6Q5.8 373.4 3.1 376.4M63.7 315.2Q68.3 318.9 72.4 322.2M17.8 373.7Q19.3 377.3 23.4 377.2M40.5 351.0Q40.1 353.1 35.0 349.8M61.7 427.9Q58.5 430.4 55.5 432.4M48.8 412.1Q43.3 418.4 37.1 416.7M46.8 320.8Q44.1 319.6 44.4 314.4M38.0 382.5Q36.7 382.2 38.0 381.0M32.3 345.6Q28.5 343.7 32.1 346.9" fill="none" stroke="#a4a4a4" stroke-width="1.2" opacity="0.65" filter="url(#soft)"/>
<circle cx="101.9" cy="354.1" r="3.3" fill="none" stroke="#eeeeee" stroke-width="2.4" filter="url(#glow)" opacity="0.7"/>
<circle cx="101.9" cy="354.1" r="2.4" fill="#6e6e6e" stroke="#d6d6d6" stroke-width="1.3" filter="url(#soft)"/>
<circle cx="101.9" cy="354.1" r="4.2" fill="none" stroke="#262626" stroke-width="0.7" opacity="0.55"/>
<circle cx="138.8" cy="378.7" r="4.3" fill="none" stroke="#eeeeee" stroke-width="2.4" filter="url(#glow)" opacity="0.7"/>
<circle cx="138.8" cy="378.7" r="3.4" fill="#6e6e6e" stroke="#d6d6d6" stroke-width="1.3" filter="url(#soft)"/>
<circle cx="138.8" cy="378.7" r="5.2" fill="none" stroke="#262626" stroke-width="0.7" opacity="0.55"/>
<circle cx="150.7" cy="405.3" r="4.3" fill="none" stroke="#eeeeee" stroke-width="2.4" filter="url(#glow)" opacity="0.7"/>
<circle cx="150.7" cy="405.3" r="3.4" fill="#6e6e6e" stroke="#d6d6d6" stroke-width="1.3" filter="url(#soft)"/>
<circle cx="150.7" cy="405.3" r="5.2" fill="none" stroke="#262626" stroke-width="0.7" opacity="0.55"/>
<circle cx="119.7" cy="385.1" r="3.3" fill="none" stroke="#eeeeee" stroke-width="2.4" filter="url(#glow)" opacity="0.7"/>
<circle cx="119.7" cy="385.1" r="2.4" fill="#6e6e6e" stroke="#d6d6d6" stroke-width="1.3" filter="url(#soft)"/>
<circle cx="119.7" cy="385.1" r="4.2" fill="none" stroke="#262626" stroke-width="0.7" opacity="0.55"/>
<circle cx="91.1" cy="342.2" r="3.3" fill="none" stroke="#eeeeee" stroke-width="2.4" filter="url(#glow)" opacity="0.7"/>
<circle cx="91.1" cy="342.2" r="2.4" fill="#6e6e6e" stroke="#d6d6d6" stroke-width="1.3" filter="url(#soft)"/>
<circle cx="91.1" cy="342.2" r="4.2" fill="none" stroke="#262626" stroke-width="0.7" opacity="0.55"/>
<circle cx="166.1" cy="379.1" r="5.300000000000001" fill="none" stroke="#eeeeee" stroke-width="2.4" filter="url(#glow)" opacity="0.7"/>
<circle cx="166.1" cy="379.1" r="4.4" fill="#6e6e6e" stroke="#d6d6d6" stroke-width="1.3" filter="url(#soft)"/>
<circle cx="166.1" cy="379.1" r="6.2" fill="none" stroke="#262626" stroke-width="0.7" opacity="0.55"/>
<circle cx="16.1" cy="335.1" r="4.3" fill="none" stroke="#eeeeee" stroke-width="2.4" filter="url(#glow)" opacity="0.7"/>
<circle cx="16.1" cy="335.1" r="3.4" fill="#6e6e6e" stroke="#d6d6d6" stroke-width="1.3" filter="url(#soft)"/>
<circle cx="16.1" cy="335.1" r="5.2" fill="none" stroke="#262626" stroke-width="0.7" opacity="0.55"/>
<circle cx="57.8" cy="360.1" r="5.300000000000001" fill="none" stroke="#eeeeee" stroke-width="2.4" filter="url(#glow)" opacity="0.7"/>
<circle cx="57.8" cy="360.1" r="4.4" fill="#6e6e6e" stroke="#d6d6d6" stroke-width="1.3" filter="url(#soft)"/>
<circle cx="57.8" cy="360.1" r="6.2" fill="none" stroke="#262626" stroke-width="0.7" opacity="0.55"/>
<circle cx="126.9" cy="407.7" r="4.3" fill="none" stroke="#eeeeee" stroke-width="2.4" filter="url(#glow)" opacity="0.7"/>
<circle cx="126.9" cy="407.7" r="3.4" fill="#6e6e6e" stroke="#d6d6d6" stroke-width="1.3" filter="url(#soft)"/>
<circle cx="126.9" cy="407.7" r="5.2" fill="none" stroke="#262626" stroke-width="0.7" opacity="0.55"/>
<circle cx="136.4" cy="351.8" r="3.3" fill="none" stroke="#eeeeee" stroke-width="2.4" filter="url(#glow)" opacity="0.7"/>
<circle cx="136.4" cy="351.8" r="2.4" fill="#6e6e6e" stroke="#d6d6d6" stroke-width="1.3" filter="url(#soft)"/>
<circle cx="136.4" cy="351.8" r="4.2" fill="none" stroke="#262626" stroke-width="0.7" opacity="0.55"/>
<circle cx="153" cy="358.9" r="4.3" fill="none" stroke="#eeeeee" stroke-width="2.4" filter="url(#glow)" opacity="0.7"/>
<circle cx="153" cy="358.9" r="3.4" fill="#6e6e6e" stroke="#d6d6d6" stroke-width="1.3" filter="url(#soft)"/>
<circle cx="153" cy="358.9" r="5.2" fill="none" stroke="#262626" stroke-width="0.7" opacity="0.55"/>
<circle cx="123.3" cy="342.2" r="4.3" fill="none" stroke="#eeeeee" stroke-width="2.4" filter="url(#glow)" opacity="0.7"/>
<circle cx="123.3" cy="342.2" r="3.4" fill="#6e6e6e" stroke="#d6d6d6" stroke-width="1.3" filter="url(#soft)"/>
<circle cx="123.3" cy="342.2" r="5.2" fill="none" stroke="#262626" stroke-width="0.7" opacity="0.55"/>
<circle cx="11" cy="357.7" r="3.3" fill="none" stroke="#eeeeee" stroke-width="2.4" filter="url(#glow)" opacity="0.7"/>
<circle cx="11" cy="357.7" r="2.4" fill="#6e6e6e" stroke="#d6d6d6" stroke-width="1.3" filter="url(#soft)"/>
<circle cx="11" cy="357.7" r="4.2" fill="none" stroke="#262626" stroke-width="0.7" opacity="0.55"/>
</g>
<rect x="9.00" y="424.40" width="163.00" height="20.60" fill="#000" stroke="none" stroke-width="1" />
<g clip-path="url(#mc1)">
<rect x="177.00" y="322.00" width="163.00" height="102.40" fill="#555555" stroke="none" stroke-width="1" />
<path d="M174.7 398.5L185.6 401.6L185.5 401.9L185.2 402.3L175.9 409.7L172.2 407.5L171.6 403.9L173.7 399.0ZM292.6 395.6L297.2 393.8L294.5 385.1L286.4 384.8L282.9 385.6L281.6 387.3ZM254.9 368.7L244.3 355.8L243.8 353.5L246.6 351.7L257.3 359.6L258.8 363.4ZM268.0 375.7L268.7 382.1L271.0 382.5L273.3 374.7ZM272.8 364.9L285.7 358.3L284.0 364.9L276.5 368.9ZM343.9 331.2L343.4 320.2L342.2 319.3L336.8 320.4L333.6 324.2L338.5 333.3L341.7 333.0ZM336.5 390.9L345.2 389.8L344.8 387.9L333.9 373.7L329.4 374.7L332.9 385.6ZM206.9 389.8L224.6 386.6L225.1 388.8L224.6 390.3L207.6 392.1ZM321.9 404.2L315.2 403.7L313.8 404.0L308.8 411.2L308.9 411.2L318.5 412.7ZM206.9 389.8L206.1 387.8L207.5 385.6L215.4 381.4L224.2 383.2L224.6 386.6ZM327.8 358.5L339.1 359.9L340.3 357.3L333.6 349.6L329.9 353.5ZM257.3 393.2L254.4 400.6L245.3 402.2L241.2 402.3L240.2 390.6L240.5 390.0L254.0 389.7ZM188.9 352.7L189.7 351.1L187.8 345.1L178.1 354.2L181.1 359.6L187.0 355.0ZM347.3 345.0L342.6 343.6L343.8 349.7L348.3 347.3ZM257.4 376.0L263.1 383.1L268.7 382.1L268.0 375.7L263.6 373.0ZM272.3 414.1L272.5 416.1L256.6 412.8L258.1 408.5ZM183.0 383.5L176.5 393.7L176.3 395.2L187.2 392.8L186.4 385.2ZM177.7 372.4L178.9 362.7L181.1 360.4L189.7 365.6L190.6 367.5L190.7 368.3L180.6 381.3L179.9 381.0ZM168.8 378.2L170.8 372.8L177.7 372.4L179.9 381.0L173.9 382.4ZM273.8 399.3L272.6 397.5L268.4 398.5L265.5 403.0L272.5 413.2L274.4 410.6ZM249.9 418.7L251.7 425.0L256.1 426.4L263.8 424.2L256.4 413.2L253.5 414.4L250.0 417.8ZM173.5 333.5L181.1 320.0L181.1 320.0L186.0 322.5L186.5 323.2L184.4 331.4L174.5 334.1ZM243.8 353.5L246.6 351.7L246.8 351.4L246.7 338.8L241.6 331.5L236.1 333.7L232.2 341.0L231.1 350.7L231.3 351.1L236.0 353.1ZM285.2 402.0L281.5 387.4L281.6 387.3L292.6 395.6L286.2 403.5L286.1 403.4ZM329.3 341.0L329.4 340.1L334.4 338.0L340.3 342.9L339.0 347.4L333.6 347.1L329.5 341.6ZM315.7 367.4L325.8 373.3L326.2 374.2L320.6 379.3L309.7 371.1ZM285.2 402.0L281.5 387.4L277.9 388.1L275.8 390.0L272.6 397.5L273.8 399.3ZM296.7 371.2L297.5 377.2L295.8 378.6L294.8 377.1L293.9 371.3ZM324.3 352.9L324.3 353.2L327.6 358.5L327.8 358.5L329.9 353.5L328.2 347.9ZM191.1 383.7L192.9 379.7L199.0 376.9L205.0 387.5L200.0 387.3ZM201.3 357.4L209.8 363.5L206.8 368.4L190.6 367.5L189.7 365.6L200.0 358.0ZM183.0 383.5L180.6 381.3L190.7 368.3L192.1 370.8L192.9 379.7L191.1 383.7L186.4 385.2ZM342.6 343.6L341.8 342.9L340.3 342.9L339.0 347.4L342.1 351.5L343.8 349.7ZM206.3 333.2L211.5 339.3L201.1 343.8L193.6 339.0L196.0 329.8ZM343.9 340.6L347.7 341.4L350.0 339.2L350.0 338.9L343.2 335.2ZM329.5 341.6L333.6 347.1L333.6 349.6L329.9 353.5L328.2 347.9ZM316.0 357.4L318.4 360.4L325.0 361.4L327.6 358.5L324.3 353.2L320.4 352.4ZM286.2 403.5L290.2 407.0L299.2 408.5L301.5 407.7L302.2 397.7L297.2 393.8L292.6 395.6ZM281.1 335.0L273.4 336.4L272.8 345.8L275.7 348.3L283.6 341.5ZM183.4 341.5L176.6 338.9L173.7 345.7L176.0 352.1L176.9 352.7ZM304.4 366.1L304.6 363.5L302.7 353.8L300.7 351.5L292.7 356.7L291.5 366.3ZM192.1 370.8L192.9 379.7L199.0 376.9L200.4 374.2ZM187.8 345.1L178.1 354.2L176.9 352.7L183.4 341.5L188.0 340.4ZM271.0 363.5L272.8 364.9L285.7 358.3L286.4 357.0L275.6 349.1L271.1 356.5L270.8 363.0Z" fill="#525252" opacity="0.8"/>
<path d="M286.4 357.0L275.6 349.1L275.7 348.3L283.6 341.5L293.8 341.3L300.5 348.7L300.7 351.5L292.7 356.7ZM327.8 358.5L327.6 358.5L325.0 361.4L325.8 373.3L326.2 374.2L329.4 374.7L333.9 373.7L341.5 367.7L339.1 359.9ZM215.4 381.4L215.1 378.6L219.0 364.9L229.4 375.1L224.2 383.2ZM344.8 368.9L341.5 367.7L339.1 359.9L340.3 357.3L341.3 356.3L349.8 355.7L351.0 357.3ZM262.0 390.5L275.8 390.0L277.9 388.1L271.0 382.5L268.7 382.1L263.1 383.1ZM304.1 329.4L304.9 319.2L298.5 321.1L296.4 330.1L300.6 329.9ZM262.4 310.8L252.4 316.5L254.7 318.6L266.2 316.9ZM243.8 353.5L236.0 353.1L233.9 372.1L241.6 370.2L243.7 365.9L244.3 355.8ZM272.6 397.5L275.8 390.0L262.0 390.5L261.4 391.2L268.4 398.5ZM206.1 387.8L205.0 387.5L199.0 376.9L200.4 374.2L205.8 371.4L207.5 385.6ZM236.6 413.1L240.8 419.9L249.9 418.7L250.0 417.8L239.7 407.3ZM170.0 409.4L165.9 418.7L175.3 418.5L179.3 414.8L175.9 409.7L172.2 407.5ZM325.4 419.7L337.5 423.4L339.0 417.1L332.7 407.5L330.3 408.2L324.4 416.1ZM348.3 347.3L349.4 347.7L350.2 348.7L350.0 355.4L349.8 355.7L341.3 356.3L342.1 351.5L343.8 349.7ZM188.9 352.7L201.2 356.5L201.3 357.4L200.0 358.0L187.0 355.0ZM265.5 403.0L268.4 398.5L261.4 391.2L257.3 393.2L254.4 400.6L257.2 403.2ZM325.4 419.7L337.5 423.4L340.7 428.7L339.6 431.0L329.3 431.9L323.5 431.0L322.4 423.9ZM317.9 348.9L318.2 347.0L323.0 346.5L324.3 352.9L324.3 353.2L320.4 352.4ZM311.3 354.7L317.9 348.9L320.4 352.4L316.0 357.4ZM201.2 356.5L201.1 355.7L213.2 348.4L212.2 363.0L209.8 363.5L201.3 357.4ZM308.9 411.2L308.8 425.3L306.3 429.3L297.4 427.1L294.4 422.7L299.2 408.5L301.5 407.7L308.8 411.2ZM173.7 345.7L176.6 338.9L174.5 334.1L173.5 333.5L173.4 333.5L168.1 343.1L168.1 343.2ZM343.9 340.6L341.8 342.9L340.3 342.9L334.4 338.0L338.5 333.3L341.7 333.0L343.2 335.2ZM201.1 355.7L213.2 348.4L214.0 342.5L211.7 339.3L211.5 339.3L201.1 343.8L200.1 347.5ZM311.3 354.7L302.7 353.8L300.7 351.5L300.5 348.7L309.0 341.9L310.1 341.2L316.3 344.5L318.2 347.0L317.9 348.9ZM255.6 336.1L259.2 344.5L266.7 342.3L265.9 334.2L265.0 331.1L264.6 330.8L255.8 335.8ZM246.0 328.0L252.4 316.5L252.4 316.5L254.7 318.6L259.0 323.9L252.0 329.8ZM286.1 403.4L286.2 403.5L290.2 407.0L283.5 420.5L282.4 420.9L272.5 416.6L272.5 416.1L272.3 414.1L272.5 413.2L274.4 410.6ZM289.1 371.4L290.7 369.6L293.9 371.3L294.8 377.1L289.9 375.6ZM286.4 384.8L294.5 385.1L294.9 384.8L295.8 378.6L294.8 377.1L289.9 375.6ZM231.1 350.7L214.0 342.5L211.7 339.3L217.4 331.4L218.2 331.2L232.2 341.0ZM187.0 355.0L181.1 359.6L181.1 360.4L189.7 365.6L200.0 358.0ZM343.2 335.2L341.7 333.0L343.9 331.2L347.6 330.8L350.9 334.8L351.4 337.0L350.0 338.9ZM236.0 353.1L231.3 351.1L218.7 364.4L219.0 364.9L229.4 375.1L230.7 375.0L232.7 373.3L233.9 372.1ZM294.4 422.7L283.5 420.5L290.2 407.0L299.2 408.5ZM315.2 403.7L322.5 397.5L314.0 393.2L313.8 404.0ZM186.4 385.2L191.1 383.7L200.0 387.3L191.3 399.4L189.2 399.0L187.2 392.8ZM236.6 413.1L228.2 418.5L224.1 400.7L240.2 403.3L239.7 407.3ZM315.7 367.4L325.8 373.3L325.0 361.4L318.4 360.4L316.0 363.3ZM317.9 326.3L321.2 333.6L324.3 334.6L326.8 330.1L323.0 322.9ZM321.9 404.2L324.1 402.5L323.6 397.8L322.5 397.5L315.2 403.7ZM182.6 310.9L192.6 312.3L186.0 322.5L181.1 320.0ZM324.3 334.6L326.0 337.1L329.4 340.1L334.4 338.0L338.5 333.3L333.6 324.2L332.7 324.3L326.8 330.1ZM344.8 368.9L341.5 367.7L333.9 373.7L344.8 387.9L346.2 376.8L346.3 369.6ZM332.2 394.0L334.5 405.6L332.7 407.5L330.3 408.2L324.1 402.5L323.6 397.8L328.4 394.1Z" fill="#595959" opacity="0.8"/>
<path d="M212.6 416.6L196.1 422.8L195.4 422.4L196.9 402.9L208.0 399.1L213.6 404.4ZM189.2 399.0L185.6 401.6L185.5 401.9L189.2 418.6L193.5 422.1L195.4 422.4L196.9 402.9L191.3 399.4ZM347.3 345.0L347.7 341.4L343.9 340.6L341.8 342.9L342.6 343.6ZM236.1 333.7L226.2 326.3L218.2 331.2L232.2 341.0ZM258.1 408.5L256.6 412.8L256.4 413.2L253.5 414.4L245.3 402.2L254.4 400.6L257.2 403.2ZM265.9 334.2L266.7 342.3L272.8 345.8L273.4 336.4L273.2 335.7ZM350.5 321.7L348.9 310.6L342.3 319.1L342.2 319.3L343.4 320.2ZM224.6 390.3L224.1 400.7L224.1 400.7L240.2 403.3L241.2 402.3L240.2 390.6L225.1 388.8ZM283.6 323.4L295.7 330.6L293.8 341.3L283.6 341.5L281.1 335.0L279.3 328.3L280.5 325.0ZM309.0 341.9L300.5 348.7L293.8 341.3L295.7 330.6L296.4 330.1L300.6 329.9ZM336.5 390.9L332.2 394.0L328.4 394.1L323.1 385.9L332.9 385.6ZM207.5 385.6L205.8 371.4L206.1 370.6L215.1 378.6L215.4 381.4ZM322.4 423.9L323.5 431.0L322.7 432.4L319.0 433.7L306.4 429.5L306.3 429.3L308.8 425.3ZM318.5 412.7L324.4 416.1L325.4 419.7L322.4 423.9L308.8 425.3L308.9 411.2ZM216.0 315.6L205.1 312.5L204.1 321.9L213.6 323.7ZM327.0 314.7L324.6 318.1L325.1 319.7L332.7 324.3L333.6 324.2L336.8 320.4L336.5 319.9ZM329.3 341.0L323.0 346.5L324.3 352.9L328.2 347.9L329.5 341.6ZM323.0 322.9L325.1 319.7L332.7 324.3L326.8 330.1ZM248.4 379.2L232.7 373.3L230.7 375.0L241.0 385.9ZM241.4 426.8L250.0 426.0L251.7 425.0L249.9 418.7L240.8 419.9L240.7 426.2ZM339.0 417.1L345.3 411.7L344.3 404.2L334.5 405.6L332.7 407.5ZM286.4 384.8L289.9 375.6L289.1 371.4L280.2 373.9L282.9 385.6ZM306.0 378.5L306.3 370.5L305.4 369.6L298.3 376.9L305.1 380.1ZM240.7 426.2L240.8 419.9L236.6 413.1L228.2 418.5L226.1 421.0L230.0 425.8ZM206.9 389.8L206.1 387.8L205.0 387.5L200.0 387.3L191.3 399.4L196.9 402.9L208.0 399.1L207.6 392.1ZM304.7 368.5L296.7 371.2L293.9 371.3L290.7 369.6L290.6 368.0L291.5 366.3L304.4 366.1ZM329.3 341.0L329.4 340.1L326.0 337.1L316.3 344.5L318.2 347.0L323.0 346.5ZM207.6 392.1L208.0 399.1L213.6 404.4L224.1 400.7L224.6 390.3ZM251.7 425.0L256.1 426.4L255.7 435.5L247.7 434.5L250.0 426.0ZM265.0 331.1L275.6 329.9L273.2 335.7L265.9 334.2ZM188.9 352.7L189.7 351.1L200.1 347.5L201.1 355.7L201.2 356.5ZM219.3 421.3L212.6 416.6L213.6 404.4L224.1 400.7L224.1 400.7L228.2 418.5L226.1 421.0ZM275.6 329.9L279.3 328.3L281.1 335.0L273.4 336.4L273.2 335.7ZM257.4 376.0L263.1 383.1L262.0 390.5L261.4 391.2L257.3 393.2L254.0 389.7L251.4 377.8L255.1 375.4ZM285.2 402.0L273.8 399.3L274.4 410.6L286.1 403.4ZM310.1 341.2L311.7 337.4L308.5 329.9L304.1 329.4L300.6 329.9L309.0 341.9ZM271.2 319.2L280.5 325.0L279.3 328.3L275.6 329.9L265.0 331.1L264.6 330.8L263.3 326.2L269.1 319.7ZM190.7 368.3L192.1 370.8L200.4 374.2L205.8 371.4L206.1 370.6L206.8 368.4L190.6 367.5ZM170.8 386.2L176.5 393.7L183.0 383.5L180.6 381.3L179.9 381.0L173.9 382.4ZM313.9 389.1L313.0 391.8L307.5 393.4L301.5 384.0L304.8 381.1ZM258.8 363.4L257.3 359.6L263.1 354.2L271.1 356.5L270.8 363.0ZM240.1 320.0L251.2 315.2L252.4 316.5L246.0 328.0L242.3 330.1L238.6 322.3ZM277.0 370.7L280.2 373.9L282.9 385.6L281.6 387.3L281.5 387.4L277.9 388.1L271.0 382.5L273.3 374.7Z" fill="#606060" opacity="0.8"/>
<path d="M231.1 350.7L214.0 342.5L213.2 348.4L212.2 363.0L218.7 364.4L231.3 351.1ZM175.9 409.7L185.2 402.3L180.4 415.1L179.3 414.8ZM340.3 357.3L341.3 356.3L342.1 351.5L339.0 347.4L333.6 347.1L333.6 349.6ZM239.7 407.3L240.2 403.3L241.2 402.3L245.3 402.2L253.5 414.4L250.0 417.8ZM263.6 373.0L268.0 375.7L273.3 374.7L277.0 370.7L276.5 368.9L272.8 364.9L271.0 363.5ZM310.1 341.2L316.3 344.5L326.0 337.1L324.3 334.6L321.2 333.6L311.7 337.4ZM317.9 326.3L313.0 323.4L311.4 316.1L318.2 315.7L324.6 318.1L325.1 319.7L323.0 322.9ZM311.7 337.4L321.2 333.6L317.9 326.3L313.0 323.4L308.5 329.9ZM290.6 368.0L284.0 364.9L285.7 358.3L286.4 357.0L292.7 356.7L291.5 366.3ZM257.4 376.0L263.6 373.0L271.0 363.5L270.8 363.0L258.8 363.4L254.9 368.7L254.6 371.2L255.1 375.4ZM241.6 370.2L250.2 377.9L248.4 379.2L232.7 373.3L233.9 372.1ZM185.2 402.3L185.5 401.9L189.2 418.6L180.4 415.1ZM305.1 380.1L298.3 376.9L297.5 377.2L295.8 378.6L294.9 384.8L301.5 384.0L304.8 381.1ZM228.2 317.0L221.9 311.5L216.0 315.6L213.6 323.7L217.4 331.4L218.2 331.2L226.2 326.3L228.5 318.3ZM206.8 368.4L209.8 363.5L212.2 363.0L218.7 364.4L219.0 364.9L215.1 378.6L206.1 370.6ZM255.1 375.4L251.4 377.8L250.2 377.9L241.6 370.2L243.7 365.9L254.6 371.2ZM252.0 329.8L259.0 323.9L262.1 325.7L253.7 331.8ZM176.3 395.2L174.7 398.5L185.6 401.6L189.2 399.0L187.2 392.8ZM328.4 394.1L323.6 397.8L322.5 397.5L314.0 393.2L313.0 391.8L313.9 389.1L319.5 382.2L323.1 385.9ZM246.8 351.4L256.6 347.9L263.1 354.2L257.3 359.6L246.6 351.7ZM304.7 368.5L305.4 369.6L298.3 376.9L297.5 377.2L296.7 371.2ZM272.5 413.2L265.5 403.0L257.2 403.2L258.1 408.5L272.3 414.1ZM246.8 351.4L256.6 347.9L259.2 344.5L255.6 336.1L246.7 338.8ZM200.1 347.5L201.1 343.8L193.6 339.0L189.0 339.4L188.0 340.4L187.8 345.1L189.7 351.1ZM256.6 412.8L256.4 413.2L263.8 424.2L264.6 424.3L268.7 421.1L272.5 416.6L272.5 416.1ZM188.0 340.4L189.0 339.4L184.4 331.4L174.5 334.1L176.6 338.9L183.4 341.5ZM241.6 331.5L242.3 330.1L246.0 328.0L252.0 329.8L253.7 331.8L255.8 335.8L255.6 336.1L246.7 338.8ZM332.9 385.6L329.4 374.7L326.2 374.2L320.6 379.3L319.6 381.9L319.5 382.2L323.1 385.9ZM313.8 404.0L314.0 393.2L313.0 391.8L307.5 393.4L302.2 397.7L301.5 407.7L308.8 411.2ZM275.6 349.1L275.7 348.3L272.8 345.8L266.7 342.3L259.2 344.5L256.6 347.9L263.1 354.2L271.1 356.5ZM304.1 329.4L304.9 319.2L310.8 315.6L311.4 316.1L313.0 323.4L308.5 329.9ZM321.9 404.2L324.1 402.5L330.3 408.2L324.4 416.1L318.5 412.7ZM253.7 331.8L262.1 325.7L263.3 326.2L264.6 330.8L255.8 335.8ZM248.4 379.2L250.2 377.9L251.4 377.8L254.0 389.7L240.5 390.0L241.0 385.9ZM241.4 427.1L235.9 434.7L230.1 427.1L230.0 425.8L240.7 426.2L241.4 426.8ZM241.0 385.9L240.5 390.0L240.2 390.6L225.1 388.8L224.6 386.6L224.2 383.2L229.4 375.1L230.7 375.0ZM189.0 339.4L193.6 339.0L196.0 329.8L195.1 325.6L186.5 323.2L184.4 331.4ZM170.5 320.8L165.8 316.8L174.3 311.1L177.1 319.2ZM319.6 381.9L320.6 379.3L309.7 371.1L306.3 370.5L306.0 378.5ZM254.6 371.2L243.7 365.9L244.3 355.8L254.9 368.7ZM206.3 333.2L196.0 329.8L195.1 325.6L197.7 323.7L203.3 322.7ZM276.5 368.9L284.0 364.9L290.6 368.0L290.7 369.6L289.1 371.4L280.2 373.9L277.0 370.7ZM179.3 414.8L180.4 415.1L189.2 418.6L193.5 422.1L179.6 430.5L176.1 426.4L175.3 418.5ZM236.1 333.7L226.2 326.3L228.5 318.3L238.6 322.3L242.3 330.1L241.6 331.5ZM206.3 333.2L211.5 339.3L211.7 339.3L217.4 331.4L213.6 323.7L204.1 321.9L203.3 322.7ZM173.4 333.5L168.0 330.7L170.5 320.8L177.1 319.2L181.1 320.0L173.5 333.5ZM297.2 393.8L302.2 397.7L307.5 393.4L301.5 384.0L294.9 384.8L294.5 385.1ZM266.2 316.9L254.7 318.6L259.0 323.9L262.1 325.7L263.3 326.2L269.1 319.7ZM311.3 354.7L302.7 353.8L304.6 363.5L316.0 363.3L318.4 360.4L316.0 357.4ZM304.7 368.5L305.4 369.6L306.3 370.5L309.7 371.1L315.7 367.4L316.0 363.3L304.6 363.5L304.4 366.1ZM319.5 382.2L313.9 389.1L304.8 381.1L305.1 380.1L306.0 378.5L319.6 381.9Z" fill="#676767" opacity="0.8"/>
<rect x="177.0" y="322.0" width="163.0" height="102.39999999999998" filter="url(#tx1)" opacity="0.17"/>
<ellipse cx="300" cy="345" rx="28" ry="14" fill="#d8d8d8" opacity="0.35" filter="url(#haze)"/>
<ellipse cx="190" cy="332" rx="14" ry="12" fill="#d8d8d8" opacity="0.4" filter="url(#haze)"/>
<ellipse cx="333" cy="345" rx="8" ry="18" fill="#d8d8d8" opacity="0.35" filter="url(#haze)"/>
<ellipse cx="330" cy="405" rx="10" ry="14" fill="#d8d8d8" opacity="0.3" filter="url(#haze)"/>
<ellipse cx="244" cy="381" rx="8" ry="7" fill="#d8d8d8" opacity="0.3" filter="url(#haze)"/>
<path d="M218.3 351.7m-2 0a2 1.6 0 1 0 4 0a2 1.6 0 1 0-4 0M181.3 408.4m-2 0a2 1.6 0 1 0 4 0a2 1.6 0 1 0-4 0M177.7 404.4m-2 0a2 1.6 0 1 0 4 0a2 1.6 0 1 0-4 0M290.8 392.0m-2 0a2 1.6 0 1 0 4 0a2 1.6 0 1 0-4 0M201.6 410.4m-2 0a2 1.6 0 1 0 4 0a2 1.6 0 1 0-4 0M252.7 360.6m-2 0a2 1.6 0 1 0 4 0a2 1.6 0 1 0-4 0M287.7 350.3m-2 0a2 1.6 0 1 0 4 0a2 1.6 0 1 0-4 0M331.8 367.0m-2 0a2 1.6 0 1 0 4 0a2 1.6 0 1 0-4 0M269.1 376.0m-2 0a2 1.6 0 1 0 4 0a2 1.6 0 1 0-4 0M189.2 407.2m-2 0a2 1.6 0 1 0 4 0a2 1.6 0 1 0-4 0M337.3 350.5m-2 0a2 1.6 0 1 0 4 0a2 1.6 0 1 0-4 0M228.9 333.8m-2 0a2 1.6 0 1 0 4 0a2 1.6 0 1 0-4 0M250.1 410.7m-2 0a2 1.6 0 1 0 4 0a2 1.6 0 1 0-4 0M252.0 409.9m-2 0a2 1.6 0 1 0 4 0a2 1.6 0 1 0-4 0M217.8 378.0m-2 0a2 1.6 0 1 0 4 0a2 1.6 0 1 0-4 0M268.7 372.6m-2 0a2 1.6 0 1 0 4 0a2 1.6 0 1 0-4 0M280.7 362.1m-2 0a2 1.6 0 1 0 4 0a2 1.6 0 1 0-4 0M273.3 335.1m-2 0a2 1.6 0 1 0 4 0a2 1.6 0 1 0-4 0M340.6 325.6m-2 0a2 1.6 0 1 0 4 0a2 1.6 0 1 0-4 0M336.4 381.8m-2 0a2 1.6 0 1 0 4 0a2 1.6 0 1 0-4 0M316.4 339.3m-2 0a2 1.6 0 1 0 4 0a2 1.6 0 1 0-4 0M216.5 388.4m-2 0a2 1.6 0 1 0 4 0a2 1.6 0 1 0-4 0M320.0 406.2m-2 0a2 1.6 0 1 0 4 0a2 1.6 0 1 0-4 0M318.8 322.1m-2 0a2 1.6 0 1 0 4 0a2 1.6 0 1 0-4 0M268.0 389.1m-2 0a2 1.6 0 1 0 4 0a2 1.6 0 1 0-4 0M314.3 329.8m-2 0a2 1.6 0 1 0 4 0a2 1.6 0 1 0-4 0M216.9 389.2m-2 0a2 1.6 0 1 0 4 0a2 1.6 0 1 0-4 0M302.7 325.7m-2 0a2 1.6 0 1 0 4 0a2 1.6 0 1 0-4 0M333.5 353.3m-2 0a2 1.6 0 1 0 4 0a2 1.6 0 1 0-4 0M250.7 393.8m-2 0a2 1.6 0 1 0 4 0a2 1.6 0 1 0-4 0M288.2 365.3m-2 0a2 1.6 0 1 0 4 0a2 1.6 0 1 0-4 0M185.4 346.5m-2 0a2 1.6 0 1 0 4 0a2 1.6 0 1 0-4 0M262.6 368.0m-2 0a2 1.6 0 1 0 4 0a2 1.6 0 1 0-4 0M238.8 366.8m-2 0a2 1.6 0 1 0 4 0a2 1.6 0 1 0-4 0M239.3 375.2m-2 0a2 1.6 0 1 0 4 0a2 1.6 0 1 0-4 0M269.7 393.8m-2 0a2 1.6 0 1 0 4 0a2 1.6 0 1 0-4 0M203.3 378.4m-2 0a2 1.6 0 1 0 4 0a2 1.6 0 1 0-4 0M182.7 408.0m-2 0a2 1.6 0 1 0 4 0a2 1.6 0 1 0-4 0M244.1 415.9m-2 0a2 1.6 0 1 0 4 0a2 1.6 0 1 0-4 0M268.2 376.7m-2 0a2 1.6 0 1 0 4 0a2 1.6 0 1 0-4 0M298.2 378.6m-2 0a2 1.6 0 1 0 4 0a2 1.6 0 1 0-4 0M333.3 414.7m-2 0a2 1.6 0 1 0 4 0a2 1.6 0 1 0-4 0M219.7 320.9m-2 0a2 1.6 0 1 0 4 0a2 1.6 0 1 0-4 0M229.7 394.3m-2 0a2 1.6 0 1 0 4 0a2 1.6 0 1 0-4 0M213.9 373.6m-2 0a2 1.6 0 1 0 4 0a2 1.6 0 1 0-4 0M287.1 330.6m-2 0a2 1.6 0 1 0 4 0a2 1.6 0 1 0-4 0M303.8 334.3m-2 0a2 1.6 0 1 0 4 0a2 1.6 0 1 0-4 0M329.7 385.5m-2 0a2 1.6 0 1 0 4 0a2 1.6 0 1 0-4 0M209.7 376.7m-2 0a2 1.6 0 1 0 4 0a2 1.6 0 1 0-4 0M246.8 369.1m-2 0a2 1.6 0 1 0 4 0a2 1.6 0 1 0-4 0M193.8 355.2m-2 0a2 1.6 0 1 0 4 0a2 1.6 0 1 0-4 0M255.5 330.9m-2 0a2 1.6 0 1 0 4 0a2 1.6 0 1 0-4 0M181.9 395.8m-2 0a2 1.6 0 1 0 4 0a2 1.6 0 1 0-4 0M263.7 396.4m-2 0a2 1.6 0 1 0 4 0a2 1.6 0 1 0-4 0M315.1 421.5m-2 0a2 1.6 0 1 0 4 0a2 1.6 0 1 0-4 0M320.0 350.8m-2 0a2 1.6 0 1 0 4 0a2 1.6 0 1 0-4 0M262.1 412.4m-2 0a2 1.6 0 1 0 4 0a2 1.6 0 1 0-4 0M324.3 391.3m-2 0a2 1.6 0 1 0 4 0a2 1.6 0 1 0-4 0M181.8 392.2m-2 0a2 1.6 0 1 0 4 0a2 1.6 0 1 0-4 0M317.9 353.0m-2 0a2 1.6 0 1 0 4 0a2 1.6 0 1 0-4 0M208.2 353.2m-2 0a2 1.6 0 1 0 4 0a2 1.6 0 1 0-4 0M258.7 354.1m-2 0a2 1.6 0 1 0 4 0a2 1.6 0 1 0-4 0M184.0 370.1m-2 0a2 1.6 0 1 0 4 0a2 1.6 0 1 0-4 0M299.5 375.1m-2 0a2 1.6 0 1 0 4 0a2 1.6 0 1 0-4 0M326.5 348.8m-2 0a2 1.6 0 1 0 4 0a2 1.6 0 1 0-4 0M264.2 405.6m-2 0a2 1.6 0 1 0 4 0a2 1.6 0 1 0-4 0M325.1 325.3m-2 0a2 1.6 0 1 0 4 0a2 1.6 0 1 0-4 0M250.8 341.0m-2 0a2 1.6 0 1 0 4 0a2 1.6 0 1 0-4 0M300.8 419.5m-2 0a2 1.6 0 1 0 4 0a2 1.6 0 1 0-4 0M191.1 348.4m-2 0a2 1.6 0 1 0 4 0a2 1.6 0 1 0-4 0M270.5 404.2m-2 0a2 1.6 0 1 0 4 0a2 1.6 0 1 0-4 0M241.6 376.2m-2 0a2 1.6 0 1 0 4 0a2 1.6 0 1 0-4 0M259.1 414.5m-2 0a2 1.6 0 1 0 4 0a2 1.6 0 1 0-4 0M244.8 422.0m-2 0a2 1.6 0 1 0 4 0a2 1.6 0 1 0-4 0M255.6 420.6m-2 0a2 1.6 0 1 0 4 0a2 1.6 0 1 0-4 0M179.0 330.0m-2 0a2 1.6 0 1 0 4 0a2 1.6 0 1 0-4 0M238.6 341.4m-2 0a2 1.6 0 1 0 4 0a2 1.6 0 1 0-4 0M341.4 340.7m-2 0a2 1.6 0 1 0 4 0a2 1.6 0 1 0-4 0M341.9 409.9m-2 0a2 1.6 0 1 0 4 0a2 1.6 0 1 0-4 0M207.0 351.2m-2 0a2 1.6 0 1 0 4 0a2 1.6 0 1 0-4 0M181.0 336.6m-2 0a2 1.6 0 1 0 4 0a2 1.6 0 1 0-4 0M314.2 348.1m-2 0a2 1.6 0 1 0 4 0a2 1.6 0 1 0-4 0M251.0 333.3m-2 0a2 1.6 0 1 0 4 0a2 1.6 0 1 0-4 0M290.4 394.5m-2 0a2 1.6 0 1 0 4 0a2 1.6 0 1 0-4 0M288.0 376.5m-2 0a2 1.6 0 1 0 4 0a2 1.6 0 1 0-4 0M337.4 345.9m-2 0a2 1.6 0 1 0 4 0a2 1.6 0 1 0-4 0M314.1 371.1m-2 0a2 1.6 0 1 0 4 0a2 1.6 0 1 0-4 0M328.1 382.2m-2 0a2 1.6 0 1 0 4 0a2 1.6 0 1 0-4 0M310.0 400.5m-2 0a2 1.6 0 1 0 4 0a2 1.6 0 1 0-4 0M258.7 337.8m-2 0a2 1.6 0 1 0 4 0a2 1.6 0 1 0-4 0M300.0 376.1m-2 0a2 1.6 0 1 0 4 0a2 1.6 0 1 0-4 0M280.0 399.0m-2 0a2 1.6 0 1 0 4 0a2 1.6 0 1 0-4 0M296.8 374.8m-2 0a2 1.6 0 1 0 4 0a2 1.6 0 1 0-4 0M252.2 327.9m-2 0a2 1.6 0 1 0 4 0a2 1.6 0 1 0-4 0M328.9 351.4m-2 0a2 1.6 0 1 0 4 0a2 1.6 0 1 0-4 0M199.9 380.4m-2 0a2 1.6 0 1 0 4 0a2 1.6 0 1 0-4 0M264.2 350.3m-2 0a2 1.6 0 1 0 4 0a2 1.6 0 1 0-4 0M283.5 413.3m-2 0a2 1.6 0 1 0 4 0a2 1.6 0 1 0-4 0M236.6 423.4m-2 0a2 1.6 0 1 0 4 0a2 1.6 0 1 0-4 0M198.2 395.5m-2 0a2 1.6 0 1 0 4 0a2 1.6 0 1 0-4 0M198.7 363.5m-2 0a2 1.6 0 1 0 4 0a2 1.6 0 1 0-4 0M295.9 367.9m-2 0a2 1.6 0 1 0 4 0a2 1.6 0 1 0-4 0M305.5 327.0m-2 0a2 1.6 0 1 0 4 0a2 1.6 0 1 0-4 0M320.5 344.0m-2 0a2 1.6 0 1 0 4 0a2 1.6 0 1 0-4 0M218.0 393.1m-2 0a2 1.6 0 1 0 4 0a2 1.6 0 1 0-4 0M291.2 374.0m-2 0a2 1.6 0 1 0 4 0a2 1.6 0 1 0-4 0M339.4 398.6m-2 0a2 1.6 0 1 0 4 0a2 1.6 0 1 0-4 0M323.5 407.9m-2 0a2 1.6 0 1 0 4 0a2 1.6 0 1 0-4 0M270.9 335.1m-2 0a2 1.6 0 1 0 4 0a2 1.6 0 1 0-4 0M257.3 329.2m-2 0a2 1.6 0 1 0 4 0a2 1.6 0 1 0-4 0M192.8 352.5m-2 0a2 1.6 0 1 0 4 0a2 1.6 0 1 0-4 0M224.5 409.8m-2 0a2 1.6 0 1 0 4 0a2 1.6 0 1 0-4 0M186.8 377.6m-2 0a2 1.6 0 1 0 4 0a2 1.6 0 1 0-4 0M340.8 345.5m-2 0a2 1.6 0 1 0 4 0a2 1.6 0 1 0-4 0M199.4 331.8m-2 0a2 1.6 0 1 0 4 0a2 1.6 0 1 0-4 0M293.0 378.7m-2 0a2 1.6 0 1 0 4 0a2 1.6 0 1 0-4 0M276.1 335.7m-2 0a2 1.6 0 1 0 4 0a2 1.6 0 1 0-4 0M227.6 337.6m-2 0a2 1.6 0 1 0 4 0a2 1.6 0 1 0-4 0M249.4 386.6m-2 0a2 1.6 0 1 0 4 0a2 1.6 0 1 0-4 0M190.2 356.6m-2 0a2 1.6 0 1 0 4 0a2 1.6 0 1 0-4 0M256.8 385.1m-2 0a2 1.6 0 1 0 4 0a2 1.6 0 1 0-4 0M329.8 349.9m-2 0a2 1.6 0 1 0 4 0a2 1.6 0 1 0-4 0M277.5 402.4m-2 0a2 1.6 0 1 0 4 0a2 1.6 0 1 0-4 0M233.9 385.0m-2 0a2 1.6 0 1 0 4 0a2 1.6 0 1 0-4 0M191.8 332.8m-2 0a2 1.6 0 1 0 4 0a2 1.6 0 1 0-4 0M304.9 333.8m-2 0a2 1.6 0 1 0 4 0a2 1.6 0 1 0-4 0M320.9 356.6m-2 0a2 1.6 0 1 0 4 0a2 1.6 0 1 0-4 0M308.8 377.0m-2 0a2 1.6 0 1 0 4 0a2 1.6 0 1 0-4 0M232.8 364.4m-2 0a2 1.6 0 1 0 4 0a2 1.6 0 1 0-4 0M292.2 321.0m-2 0a2 1.6 0 1 0 4 0a2 1.6 0 1 0-4 0M290.4 415.3m-2 0a2 1.6 0 1 0 4 0a2 1.6 0 1 0-4 0M316.0 400.5m-2 0a2 1.6 0 1 0 4 0a2 1.6 0 1 0-4 0M248.5 364.7m-2 0a2 1.6 0 1 0 4 0a2 1.6 0 1 0-4 0M195.2 392.5m-2 0a2 1.6 0 1 0 4 0a2 1.6 0 1 0-4 0M270.5 326.1m-2 0a2 1.6 0 1 0 4 0a2 1.6 0 1 0-4 0M229.5 409.2m-2 0a2 1.6 0 1 0 4 0a2 1.6 0 1 0-4 0M198.7 371.7m-2 0a2 1.6 0 1 0 4 0a2 1.6 0 1 0-4 0M203.4 330.1m-2 0a2 1.6 0 1 0 4 0a2 1.6 0 1 0-4 0M285.0 368.3m-2 0a2 1.6 0 1 0 4 0a2 1.6 0 1 0-4 0M292.3 399.2m-2 0a2 1.6 0 1 0 4 0a2 1.6 0 1 0-4 0M320.5 366.7m-2 0a2 1.6 0 1 0 4 0a2 1.6 0 1 0-4 0M178.2 422.1m-2 0a2 1.6 0 1 0 4 0a2 1.6 0 1 0-4 0M322.9 326.6m-2 0a2 1.6 0 1 0 4 0a2 1.6 0 1 0-4 0M274.6 338.4m-2 0a2 1.6 0 1 0 4 0a2 1.6 0 1 0-4 0M232.0 324.5m-2 0a2 1.6 0 1 0 4 0a2 1.6 0 1 0-4 0M208.6 324.9m-2 0a2 1.6 0 1 0 4 0a2 1.6 0 1 0-4 0M318.4 400.8m-2 0a2 1.6 0 1 0 4 0a2 1.6 0 1 0-4 0M175.2 326.1m-2 0a2 1.6 0 1 0 4 0a2 1.6 0 1 0-4 0M175.5 389.8m-2 0a2 1.6 0 1 0 4 0a2 1.6 0 1 0-4 0M178.4 345.8m-2 0a2 1.6 0 1 0 4 0a2 1.6 0 1 0-4 0M306.0 385.0m-2 0a2 1.6 0 1 0 4 0a2 1.6 0 1 0-4 0M301.4 387.6m-2 0a2 1.6 0 1 0 4 0a2 1.6 0 1 0-4 0M294.9 365.4m-2 0a2 1.6 0 1 0 4 0a2 1.6 0 1 0-4 0M196.4 375.1m-2 0a2 1.6 0 1 0 4 0a2 1.6 0 1 0-4 0M314.0 360.3m-2 0a2 1.6 0 1 0 4 0a2 1.6 0 1 0-4 0M259.6 359.8m-2 0a2 1.6 0 1 0 4 0a2 1.6 0 1 0-4 0M312.6 368.0m-2 0a2 1.6 0 1 0 4 0a2 1.6 0 1 0-4 0M242.2 321.0m-2 0a2 1.6 0 1 0 4 0a2 1.6 0 1 0-4 0M183.2 347.1m-2 0a2 1.6 0 1 0 4 0a2 1.6 0 1 0-4 0M331.7 330.9m-2 0a2 1.6 0 1 0 4 0a2 1.6 0 1 0-4 0M343.4 378.7m-2 0a2 1.6 0 1 0 4 0a2 1.6 0 1 0-4 0M329.6 401.8m-2 0a2 1.6 0 1 0 4 0a2 1.6 0 1 0-4 0M280.8 357.7m-2 0a2 1.6 0 1 0 4 0a2 1.6 0 1 0-4 0M274.0 379.2m-2 0a2 1.6 0 1 0 4 0a2 1.6 0 1 0-4 0M310.1 383.8m-2 0a2 1.6 0 1 0 4 0a2 1.6 0 1 0-4 0" fill="#2c2c2c" opacity="0.75" filter="url(#nuc)"/>
<path d="M176.5 393.7Q171.2 389.9 170.8 386.2M341.7 333.0Q345.5 334.4 343.9 331.2M323.1 385.9Q328.2 382.6 332.9 385.6M329.3 431.9Q327.5 430.3 323.5 431.0M256.6 412.8Q257.5 414.1 258.1 408.5M240.7 426.2Q241.9 430.2 241.4 426.8M325.8 373.3Q320.4 371.2 315.7 367.4M193.5 422.1Q195.5 424.9 195.4 422.4M340.3 342.9Q337.4 347.0 339.0 347.4M185.2 402.3Q183.9 406.2 175.9 409.7M293.8 341.3Q294.5 332.0 295.7 330.6M264.6 330.8Q265.7 332.9 265.0 331.1M306.3 370.5Q305.4 368.1 309.7 371.1M333.6 347.1Q333.3 342.3 329.5 341.6M264.6 330.8Q264.5 329.5 263.3 326.2M170.5 320.8Q165.8 327.5 168.0 330.7M294.8 377.1Q291.2 376.8 289.9 375.6M190.7 368.3Q185.1 377.3 180.6 381.3M256.6 347.9Q252.1 349.8 246.8 351.4M185.6 401.6Q186.2 401.4 189.2 399.0M273.2 335.7Q269.2 333.4 265.9 334.2M230.0 425.8Q238.8 424.1 240.7 426.2M268.4 398.5Q266.6 399.7 265.5 403.0M277.0 370.7Q272.4 370.3 276.5 368.9M348.3 347.3Q348.4 346.8 347.3 345.0M272.5 416.1Q269.1 412.2 256.6 412.8M289.1 371.4Q287.1 373.3 280.2 373.9M187.0 355.0Q189.5 354.0 188.9 352.7M209.8 363.5Q211.7 369.6 206.8 368.4M224.6 386.6Q225.2 385.4 225.1 388.8M254.4 400.6Q255.8 405.4 257.2 403.2M321.2 333.6Q320.0 328.0 317.9 326.3M175.3 418.5Q178.7 416.9 179.3 414.8M306.0 378.5Q315.5 379.1 319.6 381.9M296.4 330.1Q301.7 330.6 300.6 329.9M324.1 402.5Q325.2 404.3 321.9 404.2M190.6 367.5Q189.4 371.5 190.7 368.3M172.2 407.5Q169.5 408.3 170.0 409.4M231.3 351.1Q235.0 348.9 236.0 353.1M185.6 401.6Q178.0 401.8 174.7 398.5M218.7 364.4Q224.5 357.9 231.3 351.1M184.4 331.4Q187.0 332.4 189.0 339.4M204.1 321.9Q203.0 320.3 205.1 312.5M275.6 349.1Q278.1 352.5 286.4 357.0M238.6 322.3Q234.9 317.8 240.1 320.0M290.2 407.0Q289.9 408.4 286.2 403.5M259.2 344.5Q262.3 341.7 256.6 347.9M310.8 315.6Q311.0 313.0 311.4 316.1M347.7 341.4Q350.3 342.1 350.0 339.2M253.7 331.8Q251.2 332.2 252.0 329.8M207.5 385.6Q203.8 386.8 206.1 387.8M174.5 334.1Q172.5 332.9 173.5 333.5M345.2 389.8Q342.1 390.9 336.5 390.9M176.3 395.2Q177.0 391.4 176.5 393.7M254.7 318.6Q259.3 319.1 266.2 316.9M226.1 421.0Q222.6 421.0 219.3 421.3M196.5 424.2Q197.8 420.9 196.1 422.8M200.0 358.0Q192.8 355.4 187.0 355.0M299.2 408.5Q301.4 408.3 301.5 407.7M302.2 397.7Q303.3 400.6 297.2 393.8M272.8 345.8Q272.4 336.1 273.4 336.4M263.3 326.2Q259.5 323.7 262.1 325.7M319.6 381.9Q323.9 383.5 319.5 382.2M254.7 318.6Q254.7 324.0 259.0 323.9M250.2 377.9Q245.9 382.0 248.4 379.2M329.9 353.5Q329.2 360.0 327.8 358.5M308.5 329.9Q305.1 327.8 304.1 329.4M349.4 347.7Q346.3 349.8 348.3 347.3M341.8 342.9Q344.2 346.2 342.6 343.6M224.6 390.3Q209.5 392.2 207.6 392.1M246.6 351.7Q240.2 352.5 243.8 353.5M324.3 352.9Q322.0 345.2 323.0 346.5M168.1 343.1Q170.1 340.0 173.4 333.5M257.2 403.2Q259.5 405.9 258.1 408.5M258.8 363.4Q253.9 368.9 254.9 368.7M257.2 403.2Q260.9 401.2 265.5 403.0M265.5 403.0Q266.5 408.3 272.5 413.2M295.7 330.6Q298.2 330.8 296.4 330.1M324.1 402.5Q321.1 401.6 323.6 397.8M322.4 423.9Q326.3 417.6 325.4 419.7M267.1 431.7Q266.8 427.0 265.6 427.7M320.4 352.4Q318.2 355.5 316.0 357.4M241.2 402.3Q247.3 401.6 245.3 402.2M306.3 429.3Q307.3 428.4 308.8 425.3M240.2 390.6Q245.2 397.3 241.2 402.3M265.6 427.7Q267.0 426.6 264.6 424.3M179.3 414.8Q179.8 413.7 175.9 409.7M338.5 333.3Q336.7 339.7 334.4 338.0M206.1 370.6Q207.8 367.9 206.8 368.4M313.0 323.4Q317.0 324.1 317.9 326.3M333.9 373.7Q340.4 380.6 344.8 387.9M259.0 323.9Q257.5 322.4 262.1 325.7M224.2 383.2Q220.8 384.7 215.4 381.4M329.9 353.5Q330.5 347.3 328.2 347.9M343.8 349.7Q346.9 351.3 348.3 347.3M232.2 341.0Q236.0 348.6 231.1 350.7M254.6 371.2Q257.1 371.0 255.1 375.4M173.9 382.4Q169.9 378.9 168.8 378.2M215.4 381.4Q208.0 386.9 207.5 385.6M318.5 412.7Q324.1 413.8 321.9 404.2M215.1 378.6Q208.1 377.1 206.1 370.6M181.1 320.0Q183.3 319.3 181.1 320.0M189.2 399.0Q185.4 399.0 187.2 392.8M187.8 345.1Q188.4 350.2 189.7 351.1M311.7 337.4Q308.5 340.5 310.1 341.2M181.1 320.0Q177.5 332.6 173.5 333.5M273.2 335.7Q267.7 334.5 275.6 329.9M226.2 326.3Q232.1 327.3 236.1 333.7M320.6 379.3Q317.3 376.9 319.6 381.9M336.5 319.9Q328.6 317.2 327.0 314.7M340.7 428.7Q342.2 426.5 337.5 423.4M259.0 323.9Q259.0 324.8 252.0 329.8M338.5 333.3Q337.3 328.7 333.6 324.2M304.6 363.5Q309.3 365.7 316.0 363.3M192.9 379.7Q195.6 376.1 199.0 376.9M236.0 353.1Q242.0 353.3 243.8 353.5M314.0 393.2Q310.1 402.9 313.8 404.0M196.9 402.9Q203.0 399.7 208.0 399.1M187.2 392.8Q188.2 394.9 186.4 385.2M252.4 316.5Q253.9 315.6 254.7 318.6M254.0 389.7Q251.6 383.7 251.4 377.8M296.7 371.2Q300.1 372.6 304.7 368.5M275.7 348.3Q271.5 346.2 275.6 349.1M291.5 366.3Q291.2 367.2 290.6 368.0M328.4 394.1Q333.1 395.1 332.2 394.0M284.0 364.9Q280.9 368.0 276.5 368.9M305.4 369.6Q308.8 370.5 304.7 368.5M176.6 338.9Q176.0 333.9 174.5 334.1M240.5 390.0Q241.7 385.3 241.0 385.9M180.4 415.1Q179.7 413.8 179.3 414.8M205.1 312.5Q209.7 317.6 216.0 315.6M186.5 323.2Q190.5 326.7 195.1 325.6M305.1 380.1Q306.2 380.1 306.0 378.5M251.2 315.2Q244.4 317.7 240.1 320.0M271.0 382.5Q268.2 382.7 268.7 382.1M339.6 431.0Q335.6 430.2 340.7 428.7M191.1 383.7Q191.4 385.8 186.4 385.2M313.0 391.8Q312.9 391.0 313.9 389.1M252.4 316.5Q250.9 321.9 246.0 328.0M170.8 372.8Q169.6 376.7 168.8 378.2M186.5 323.2Q188.1 325.9 186.0 322.5M178.7 432.5Q175.7 429.7 179.6 430.5M179.9 381.0Q179.0 381.2 173.9 382.4M224.1 400.7Q226.8 394.6 224.6 390.3M322.7 432.4Q323.4 430.8 323.5 431.0M224.6 386.6Q214.5 392.2 206.9 389.8M332.7 407.5Q335.5 409.3 339.0 417.1M230.7 375.0Q238.1 385.0 241.0 385.9M349.8 355.7Q349.3 357.5 341.3 356.3M345.3 411.7Q338.3 411.6 339.0 417.1M190.6 367.5Q189.2 365.3 189.7 365.6M323.0 346.5Q327.2 343.3 329.3 341.0M295.7 330.6Q289.5 326.3 283.6 323.4M175.9 409.7Q172.2 408.6 172.2 407.5M195.4 422.4Q196.2 419.8 196.1 422.8M205.0 387.5Q201.3 389.9 200.0 387.3M177.1 319.2Q174.2 320.4 170.5 320.8M240.2 390.6Q231.9 390.3 225.1 388.8M347.7 341.4Q346.4 340.3 343.9 340.6M341.3 356.3Q338.5 352.7 340.3 357.3M263.1 354.2Q266.6 354.1 271.1 356.5M272.3 414.1Q276.2 412.5 272.5 413.2M321.2 333.6Q323.2 332.6 324.3 334.6M329.4 340.1Q329.5 341.0 329.3 341.0M327.6 358.5Q329.1 357.6 327.8 358.5M244.3 355.8Q249.2 362.2 254.9 368.7M318.2 315.7Q315.9 317.2 311.4 316.1M273.3 374.7Q270.7 374.6 268.0 375.7M272.5 416.6Q275.9 417.8 272.5 416.1M272.8 364.9Q273.9 362.3 271.0 363.5M258.1 408.5Q264.0 411.2 272.3 414.1M280.5 325.0Q276.1 320.6 271.2 319.2M266.7 342.3Q267.5 345.3 272.8 345.8M178.1 354.2Q184.4 349.0 187.8 345.1M181.1 359.6Q184.1 358.0 187.0 355.0M280.5 325.0Q286.0 323.7 283.6 323.4M201.2 356.5Q195.4 354.5 188.9 352.7M268.7 382.1Q266.7 388.4 263.1 383.1M337.5 423.4Q329.6 418.7 325.4 419.7M336.8 320.4Q339.5 321.1 336.5 319.9M206.8 368.4Q196.6 364.8 190.6 367.5M316.3 344.5Q315.1 342.6 318.2 347.0M170.8 372.8Q173.1 371.9 177.7 372.4M215.1 378.6Q217.8 372.4 219.0 364.9M342.1 351.5Q341.4 351.4 341.3 356.3M341.5 367.7Q341.0 361.6 339.1 359.9M350.0 355.4Q352.3 355.1 349.8 355.7M230.7 375.0Q234.7 373.6 232.7 373.3M257.3 359.6Q258.7 354.3 263.1 354.2M226.2 326.3Q222.5 330.7 218.2 331.2M188.0 340.4Q184.7 344.1 187.8 345.1M273.8 399.3Q277.4 403.7 285.2 402.0M330.3 408.2Q331.1 407.5 332.7 407.5M240.5 390.0Q238.7 392.3 240.2 390.6M201.1 355.7Q201.0 357.8 201.2 356.5M308.8 425.3Q314.8 426.6 322.4 423.9" fill="none" stroke="#a4a4a4" stroke-width="0.8" opacity="0.2" filter="url(#soft)"/>
<path d="M282.9 385.6Q286.3 386.5 281.6 387.3M277.9 388.1Q282.7 387.8 275.8 390.0M195.1 325.6Q196.2 324.9 196.0 329.8M333.6 349.6Q336.7 359.0 340.3 357.3M261.4 391.2Q259.8 389.7 262.0 390.5M196.0 329.8Q203.7 331.5 206.3 333.2M242.3 330.1Q242.1 329.7 241.6 331.5M294.5 385.1Q289.9 386.8 286.4 384.8M313.0 323.4Q309.6 328.1 308.5 329.9M324.3 353.2Q322.9 354.9 324.3 352.9M311.4 316.1Q309.3 319.8 313.0 323.4M192.6 312.3Q193.3 316.6 186.0 322.5M324.3 353.2Q323.0 355.9 327.6 358.5M302.7 353.8Q311.2 355.2 311.3 354.7M203.3 322.7Q202.9 326.1 206.3 333.2M294.9 384.8Q296.4 383.2 295.8 378.6M279.3 328.3Q280.2 331.5 281.1 335.0M168.1 343.2Q172.1 345.1 173.7 345.7M263.3 326.2Q269.0 322.3 269.1 319.7M313.0 391.8Q315.3 391.1 314.0 393.2M286.2 403.5Q284.2 405.2 286.1 403.4M196.1 422.8Q208.1 420.1 212.6 416.6M168.1 343.1Q170.9 342.8 168.1 343.2M323.6 397.8Q325.4 393.6 328.4 394.1M271.1 356.5Q270.7 357.8 270.8 363.0M185.5 401.9Q182.1 402.4 185.2 402.3M277.9 388.1Q281.3 390.3 281.5 387.4M272.6 397.5Q268.7 398.4 273.8 399.3M296.4 330.1Q294.5 327.2 298.5 321.1M211.7 339.3Q213.6 340.3 214.0 342.5M283.6 341.5Q285.1 339.4 281.1 335.0M241.6 370.2Q241.7 371.1 243.7 365.9M255.8 335.8Q253.6 338.4 255.6 336.1M252.4 316.5Q249.3 315.4 252.4 316.5M328.2 347.9Q330.2 350.3 324.3 352.9M275.8 390.0Q276.8 395.1 272.6 397.5M189.7 351.1Q190.3 352.3 188.9 352.7M176.6 338.9Q179.6 339.7 183.4 341.5M176.6 338.9Q176.9 343.1 173.7 345.7M347.6 330.8Q346.7 328.7 343.9 331.2M270.8 363.0Q273.1 361.0 271.0 363.5M250.0 417.8Q249.6 422.5 249.9 418.7M276.5 368.9Q272.4 362.3 272.8 364.9M264.6 424.3Q265.5 426.9 268.7 421.1M330.3 408.2Q329.3 411.7 324.4 416.1M281.5 387.4Q282.6 394.3 285.2 402.0M218.7 364.4Q214.7 363.6 212.2 363.0M261.4 391.2Q266.6 393.5 268.4 398.5M330.3 408.2Q324.9 407.0 324.1 402.5M326.2 374.2Q327.1 372.9 329.4 374.7M301.5 384.0Q300.0 391.3 307.5 393.4M256.1 426.4Q254.5 428.8 251.7 425.0M229.4 375.1Q230.8 372.5 230.7 375.0M340.3 357.3Q341.2 362.6 339.1 359.9M256.1 426.4Q258.6 425.2 263.8 424.2M185.5 401.9Q185.9 403.9 185.6 401.6M249.9 418.7Q245.7 421.6 240.8 419.9M264.6 424.3Q268.4 424.4 263.8 424.2M300.5 348.7Q302.4 348.5 300.7 351.5M282.4 420.9Q286.1 421.5 283.5 420.5M253.5 414.4Q251.5 415.7 250.0 417.8M189.2 418.6Q182.0 408.5 185.5 401.9M334.5 405.6Q335.2 403.3 332.2 394.0M271.0 382.5Q269.0 378.9 273.3 374.7M168.0 330.7Q168.7 333.4 173.4 333.5M300.7 351.5Q301.5 351.0 302.7 353.8M252.0 329.8Q250.2 330.6 246.0 328.0M180.6 381.3Q181.3 382.7 179.9 381.0M323.0 322.9Q321.1 326.4 317.9 326.3M283.5 420.5Q288.1 419.4 294.4 422.7M213.2 348.4Q204.6 353.1 201.1 355.7M255.8 335.8Q255.9 334.6 253.7 331.8M240.8 419.9Q238.3 424.6 240.7 426.2M245.3 402.2Q246.6 408.1 253.5 414.4M305.4 369.6Q304.4 369.3 306.3 370.5M266.7 342.3Q264.8 338.3 265.9 334.2M295.8 378.6Q297.1 377.8 297.5 377.2M342.2 319.3Q339.8 324.2 336.8 320.4M325.8 373.3Q327.5 368.9 325.0 361.4M265.9 334.2Q269.3 331.6 265.0 331.1M320.6 379.3Q325.7 375.2 326.2 374.2M254.4 400.6Q249.0 401.6 245.3 402.2M257.3 359.6Q250.0 356.3 246.6 351.7M290.7 369.6Q291.8 373.0 293.9 371.3M302.2 397.7Q301.2 399.8 301.5 407.7M230.0 425.8Q232.4 425.3 230.1 427.1M204.1 321.9Q206.3 321.6 203.3 322.7M332.7 324.3Q334.3 328.1 333.6 324.2M193.6 339.0Q195.3 338.1 189.0 339.4M219.0 364.9Q217.4 362.8 218.7 364.4M189.2 418.6Q187.2 421.7 180.4 415.1M286.4 357.0Q282.9 354.6 285.7 358.3M339.1 359.9Q334.0 356.2 327.8 358.5M200.1 347.5Q200.8 349.9 201.1 355.7M240.5 390.0Q248.3 387.1 254.0 389.7M294.9 384.8Q296.2 383.5 301.5 384.0M193.5 422.1Q188.5 424.1 179.6 430.5M211.5 339.3Q210.7 334.1 206.3 333.2M201.3 357.4Q202.7 354.4 201.2 356.5M324.4 416.1Q319.8 414.3 318.5 412.7M207.6 392.1Q207.5 391.4 206.9 389.8M205.0 387.5Q204.3 385.3 206.1 387.8M317.9 348.9Q316.0 352.7 311.3 354.7M246.6 351.7Q244.2 352.9 246.8 351.4M269.1 319.7Q268.1 318.4 266.2 316.9M171.6 403.9Q175.1 405.7 173.7 399.0M240.2 403.3Q239.4 404.9 241.2 402.3M297.4 427.1Q297.0 427.9 294.4 422.7M241.0 385.9Q246.7 382.2 248.4 379.2M180.4 415.1Q186.0 411.8 185.2 402.3M274.4 410.6Q279.2 405.1 286.1 403.4M304.6 363.5Q302.2 359.4 302.7 353.8M280.2 373.9Q278.6 370.6 277.0 370.7M196.9 402.9Q194.3 398.5 191.3 399.4M318.2 315.7Q319.0 318.8 324.6 318.1M290.2 407.0Q286.8 412.2 283.5 420.5M273.3 374.7Q271.7 372.9 277.0 370.7M206.1 387.8Q207.0 385.3 206.9 389.8M226.2 326.3Q228.1 323.7 228.5 318.3M290.7 369.6Q286.9 364.2 290.6 368.0M184.4 331.4Q179.0 334.9 174.5 334.1M213.6 323.7Q213.9 321.7 216.0 315.6M272.5 416.6Q278.7 421.2 282.4 420.9M326.0 337.1Q322.2 339.1 316.3 344.5M178.1 354.2Q182.3 357.1 181.1 359.6M346.3 369.6Q347.5 372.3 344.8 368.9M320.6 379.3Q310.6 376.7 309.7 371.1M217.4 331.4Q219.6 333.1 211.7 339.3M177.1 319.2Q176.6 319.0 181.1 320.0M333.9 373.7Q333.4 365.6 341.5 367.7M173.9 382.4Q172.5 386.6 170.8 386.2M300.6 329.9Q302.2 329.6 304.1 329.4M191.3 399.4Q192.4 397.5 189.2 399.0M325.8 373.3Q324.3 372.7 326.2 374.2M302.2 397.7Q304.6 394.2 307.5 393.4M246.7 338.8Q247.3 333.1 241.6 331.5M270.8 363.0Q264.8 361.5 258.8 363.4M268.7 421.1Q273.2 420.1 272.5 416.6M315.2 403.7Q322.6 404.6 321.9 404.2M340.3 342.9Q340.1 341.6 341.8 342.9M281.5 387.4Q280.2 390.2 281.6 387.3M316.3 344.5Q311.5 345.3 310.1 341.2M251.7 425.0Q252.8 419.3 249.9 418.7M284.0 364.9Q288.5 365.1 290.6 368.0M346.2 376.8Q344.9 380.9 344.8 387.9M271.0 363.5Q269.8 366.2 263.6 373.0M292.7 356.7Q287.8 355.2 286.4 357.0M192.9 379.7Q187.0 375.5 192.1 370.8M289.9 375.6Q287.4 380.9 286.4 384.8M186.0 322.5Q182.1 319.4 181.1 320.0M228.2 418.5Q223.6 410.9 224.1 400.7M272.8 345.8Q274.8 345.5 275.7 348.3M228.2 418.5Q233.6 417.3 236.6 413.1M179.9 381.0Q179.8 377.6 177.7 372.4M326.8 330.1Q328.1 331.4 324.3 334.6M193.6 339.0Q196.1 339.4 201.1 343.8M277.9 388.1Q277.1 387.5 271.0 382.5M240.8 419.9Q236.6 414.2 236.6 413.1M344.3 404.2Q345.1 407.8 345.3 411.7M293.9 371.3Q296.4 372.6 296.7 371.2M224.1 400.7Q232.0 404.1 240.2 403.3M228.2 418.5Q227.9 420.5 226.1 421.0M308.8 411.2Q311.4 412.0 308.9 411.2M294.5 385.1Q296.0 390.2 297.2 393.8M304.9 319.2Q312.0 317.8 310.8 315.6M318.2 347.0Q320.6 348.1 323.0 346.5M181.1 360.4Q185.0 363.3 189.7 365.6M213.2 348.4Q211.0 357.5 212.2 363.0M213.6 404.4Q210.4 411.1 212.6 416.6M273.4 336.4Q279.0 337.4 281.1 335.0M215.1 378.6Q214.8 381.5 215.4 381.4M180.6 381.3Q182.1 382.2 183.0 383.5M263.6 373.0Q259.1 375.0 257.4 376.0M255.6 336.1Q249.1 342.7 246.7 338.8M299.2 408.5Q296.2 416.2 294.4 422.7M176.1 426.4Q179.1 428.1 179.6 430.5M324.4 416.1Q324.5 414.0 325.4 419.7M306.4 429.5Q313.8 435.2 319.0 433.7M279.3 328.3Q282.5 327.3 280.5 325.0M219.0 364.9Q225.1 371.1 229.4 375.1M342.3 319.1Q338.9 320.2 342.2 319.3M189.7 351.1Q191.2 345.1 200.1 347.5M323.1 385.9Q325.4 388.3 328.4 394.1M174.7 398.5Q175.7 396.1 176.3 395.2M263.8 424.2Q263.0 419.5 256.4 413.2M218.2 331.2Q222.5 335.1 232.2 341.0M254.4 400.6Q257.5 398.2 257.3 393.2M252.4 316.5Q250.8 314.6 251.2 315.2M298.3 376.9Q300.8 380.1 305.1 380.1M268.7 382.1Q268.0 379.8 268.0 375.7M254.0 389.7Q257.2 391.7 257.3 393.2M306.3 429.3Q300.5 427.8 297.4 427.1M213.6 323.7Q214.4 327.8 217.4 331.4M176.0 352.1Q177.0 349.0 173.7 345.7M240.2 403.3Q239.1 402.5 239.7 407.3M329.4 374.7Q334.3 374.4 333.9 373.7" fill="none" stroke="#a4a4a4" stroke-width="1.0" opacity="0.4" filter="url(#soft)"/>
<path d="M322.5 397.5Q327.7 398.6 323.6 397.8M325.0 361.4Q328.2 357.8 327.6 358.5M213.6 404.4Q217.4 402.4 224.1 400.7M282.9 385.6Q291.5 383.7 286.4 384.8M332.2 394.0Q331.2 390.7 336.5 390.9M333.6 349.6Q331.5 346.7 329.9 353.5M181.1 360.4Q183.4 360.4 181.1 359.6M338.5 333.3Q340.4 334.4 341.7 333.0M326.0 337.1Q329.2 336.8 329.4 340.1M280.2 373.9Q279.8 378.0 282.9 385.6M195.1 325.6Q198.2 323.0 197.7 323.7M253.5 414.4Q251.7 415.3 256.4 413.2M297.2 393.8Q296.3 393.9 292.6 395.6M344.3 404.2Q343.0 403.8 334.5 405.6M326.0 337.1Q326.8 338.5 324.3 334.6M297.5 377.2Q300.1 373.7 298.3 376.9M333.6 347.1Q335.8 350.2 333.6 349.6M205.0 387.5Q197.3 383.4 199.0 376.9M339.6 431.0Q333.3 432.4 329.3 431.9M268.4 398.5Q268.4 392.8 272.6 397.5M173.7 399.0Q167.6 400.7 174.7 398.5M232.7 373.3Q230.6 374.2 233.9 372.1M264.6 330.8Q258.0 331.9 255.8 335.8M183.4 341.5Q185.8 339.9 188.0 340.4M332.9 385.6Q334.0 390.7 336.5 390.9M334.5 405.6Q333.0 407.7 332.7 407.5M197.7 323.7Q193.9 322.8 203.3 322.7M298.5 321.1Q302.1 324.0 304.9 319.2M176.1 426.4Q177.1 422.8 175.3 418.5M193.5 422.1Q191.0 418.4 189.2 418.6M304.6 363.5Q307.5 366.8 304.4 366.1M176.5 393.7Q176.7 390.0 183.0 383.5M336.8 320.4Q336.9 321.2 333.6 324.2M325.1 319.7Q323.0 322.3 323.0 322.9M285.7 358.3Q274.4 360.3 272.8 364.9M326.8 330.1Q322.5 326.7 323.0 322.9M214.0 342.5Q225.7 344.2 231.1 350.7M228.5 318.3Q231.2 322.2 238.6 322.3M250.2 377.9Q248.3 380.0 251.4 377.8M255.1 375.4Q256.4 376.6 257.4 376.0M254.9 368.7Q255.7 366.6 254.6 371.2M306.4 429.5Q307.2 427.2 306.3 429.3M298.3 376.9Q301.7 376.0 305.4 369.6M208.0 399.1Q210.9 401.8 213.6 404.4M224.2 383.2Q224.2 383.3 224.6 386.6M192.9 379.7Q194.9 382.2 191.1 383.7M241.4 426.8Q242.3 429.5 241.4 427.1M295.8 378.6Q295.2 374.7 294.8 377.1M290.2 407.0Q295.3 408.3 299.2 408.5M239.7 407.3Q242.5 411.2 236.6 413.1M204.1 321.9Q212.8 320.8 213.6 323.7M176.9 352.7Q177.5 352.9 178.1 354.2M250.2 377.9Q247.8 373.0 241.6 370.2M217.4 331.4Q216.6 330.5 218.2 331.2M250.0 426.0Q244.5 429.8 241.4 426.8M322.5 397.5Q322.4 400.9 315.2 403.7M320.3 312.7Q318.9 316.9 318.2 315.7M341.5 367.7Q343.2 366.4 344.8 368.9M214.0 342.5Q212.5 344.6 213.2 348.4M294.8 377.1Q295.3 373.3 293.9 371.3M201.1 343.8Q201.1 348.4 200.1 347.5M284.0 364.9Q287.9 364.6 285.7 358.3M275.6 329.9Q269.9 333.3 265.0 331.1M293.8 341.3Q299.9 345.3 300.5 348.7M250.0 426.0Q249.3 421.2 251.7 425.0M334.4 338.0Q333.6 340.4 329.4 340.1M300.7 351.5Q297.6 354.9 292.7 356.7M263.1 383.1Q254.0 378.3 257.4 376.0M186.5 323.2Q185.4 326.6 184.4 331.4M229.4 375.1Q226.2 381.4 224.2 383.2M171.6 403.9Q169.9 404.8 172.2 407.5M192.1 370.8Q186.5 368.7 190.7 368.3M243.7 365.9Q251.7 366.3 254.6 371.2M233.9 372.1Q237.9 373.7 241.6 370.2M178.9 362.7Q180.5 366.0 177.7 372.4M178.9 362.7Q184.1 360.9 181.1 360.4M333.6 347.1Q335.6 347.7 339.0 347.4M308.5 329.9Q309.5 334.8 311.7 337.4M256.6 347.9Q260.0 348.5 263.1 354.2M292.7 356.7Q290.8 359.8 291.5 366.3M329.4 374.7Q328.1 381.8 332.9 385.6M242.3 330.1Q241.8 327.3 238.6 322.3M325.1 319.7Q326.0 318.7 324.6 318.1M209.8 363.5Q203.7 360.6 201.3 357.4M208.0 399.1Q205.9 394.3 207.6 392.1M176.0 352.1Q177.3 356.2 176.9 352.7M344.8 387.9Q345.5 384.1 345.2 389.8M212.6 416.6Q217.2 419.8 219.3 421.3M205.8 371.4Q206.3 377.0 207.5 385.6M232.7 373.3Q242.6 372.8 248.4 379.2M292.6 395.6Q289.1 399.9 286.2 403.5M290.7 369.6Q290.1 373.1 289.1 371.4M306.3 370.5Q307.6 378.5 306.0 378.5M347.1 427.6Q343.0 430.0 340.7 428.7M304.8 381.1Q311.6 387.3 313.9 389.1M291.5 366.3Q297.9 370.0 304.4 366.1M199.0 376.9Q193.7 371.7 200.4 374.2M274.4 410.6Q275.3 405.8 273.8 399.3M341.8 342.9Q344.4 339.4 343.9 340.6M300.5 348.7Q304.9 343.3 309.0 341.9M342.1 351.5Q347.2 350.4 343.8 349.7M228.5 318.3Q228.8 313.7 228.2 317.0M341.7 333.0Q343.1 328.5 343.2 335.2M225.1 388.8Q227.6 389.4 224.6 390.3M279.3 328.3Q280.8 329.0 275.6 329.9M308.9 411.2Q317.1 413.5 318.5 412.7M294.9 384.8Q295.3 382.4 294.5 385.1M337.5 423.4Q341.5 423.0 339.0 417.1M200.0 387.3Q193.3 391.8 191.3 399.4M271.1 356.5Q273.6 350.4 275.6 349.1M308.8 411.2Q312.8 406.8 313.8 404.0M332.7 324.3Q322.0 324.4 325.1 319.7M343.8 349.7Q345.5 346.3 342.6 343.6M342.2 319.3Q343.7 320.3 343.4 320.2M232.2 341.0Q236.1 337.8 236.1 333.7M259.2 344.5Q258.7 337.7 255.6 336.1M275.8 390.0Q267.7 388.2 262.0 390.5M226.1 421.0Q226.7 420.9 230.0 425.8M224.1 400.7Q226.4 402.1 224.1 400.7M323.5 431.0Q324.2 428.9 322.4 423.9M273.4 336.4Q273.2 335.8 273.2 335.7M257.3 393.2Q261.6 394.3 261.4 391.2M281.6 387.3Q290.0 392.7 292.6 395.6M309.0 341.9Q308.0 343.3 310.1 341.2M318.4 360.4Q324.9 357.9 325.0 361.4M200.0 387.3Q194.2 383.8 191.1 383.7M201.1 343.8Q204.8 347.4 211.5 339.3M314.0 393.2Q319.3 394.7 322.5 397.5M346.2 376.8Q346.4 376.1 346.3 369.6M256.4 413.2Q256.5 418.1 256.6 412.8M347.7 341.4Q350.2 343.6 347.3 345.0M313.9 389.1Q320.0 383.6 319.5 382.2M250.0 417.8Q245.6 415.3 239.7 407.3M324.6 318.1Q327.9 319.7 327.0 314.7M244.3 355.8Q246.4 352.6 243.8 353.5M318.2 347.0Q317.1 348.6 317.9 348.9M187.2 392.8Q180.8 392.4 176.3 395.2M308.8 425.3Q310.8 416.5 308.9 411.2M176.9 352.7Q179.8 343.9 183.4 341.5M257.3 359.6Q255.2 364.0 258.8 363.4M319.5 382.2Q321.7 383.1 323.1 385.9M272.5 413.2Q276.7 411.2 274.4 410.6M332.7 324.3Q331.1 324.6 326.8 330.1M342.1 351.5Q341.0 348.9 339.0 347.4M319.0 433.7Q323.6 434.1 322.7 432.4M189.0 339.4Q188.5 341.1 188.0 340.4M304.8 381.1Q307.6 381.2 305.1 380.1M212.2 363.0Q212.2 362.1 209.8 363.5M297.5 377.2Q300.6 374.8 296.7 371.2M316.0 357.4Q314.4 356.6 311.3 354.7M304.4 366.1Q301.5 365.1 304.7 368.5M173.5 333.5Q170.1 339.4 173.4 333.5M304.9 319.2Q301.9 323.6 304.1 329.4M328.2 347.9Q331.1 344.7 329.5 341.6M324.3 353.2Q324.9 350.4 320.4 352.4M272.5 416.1Q275.3 415.4 272.3 414.1M268.0 375.7Q268.5 370.2 263.6 373.0M300.6 329.9Q306.8 335.7 309.0 341.9M200.0 358.0Q199.9 353.4 201.3 357.4M318.4 360.4Q316.8 365.3 316.0 363.3M189.7 365.6Q197.1 361.0 200.0 358.0M233.9 372.1Q236.1 360.8 236.0 353.1M231.3 351.1Q231.5 352.0 231.1 350.7M186.4 385.2Q181.1 382.0 183.0 383.5M263.1 383.1Q260.4 387.3 262.0 390.5M246.7 338.8Q249.0 349.0 246.8 351.4M275.7 348.3Q276.2 341.9 283.6 341.5M343.4 320.2Q343.1 328.9 343.9 331.2M289.9 375.6Q291.8 375.3 289.1 371.4M243.7 365.9Q247.1 360.0 244.3 355.8M200.4 374.2Q192.1 370.9 192.1 370.8M242.3 330.1Q242.7 328.9 246.0 328.0M321.2 333.6Q317.3 335.2 311.7 337.4M318.4 360.4Q323.2 357.1 316.0 357.4M286.1 403.4Q285.7 399.9 285.2 402.0M205.8 371.4Q201.2 373.4 200.4 374.2M205.8 371.4Q206.4 369.8 206.1 370.6M307.5 393.4Q311.8 389.2 313.0 391.8M269.1 319.7Q266.5 319.2 271.2 319.2M251.4 377.8Q256.1 380.9 255.1 375.4M343.2 335.2Q343.3 336.7 343.9 340.6M196.9 402.9Q194.3 411.5 195.4 422.4M309.7 371.1Q309.0 369.1 315.7 367.4M266.7 342.3Q263.9 340.7 259.2 344.5M320.4 352.4Q319.8 352.8 317.9 348.9M342.6 343.6Q345.3 342.9 347.3 345.0M211.5 339.3Q208.6 341.9 211.7 339.3M301.5 407.7Q305.7 410.3 308.8 411.2M340.3 342.9Q339.8 341.2 334.4 338.0M262.1 325.7Q259.0 331.5 253.7 331.8M316.0 363.3Q316.4 362.4 315.7 367.4M241.6 331.5Q240.6 332.7 236.1 333.7M293.8 341.3Q287.3 342.5 283.6 341.5M329.5 341.6Q328.7 347.2 329.3 341.0M313.8 404.0Q312.6 402.0 315.2 403.7M193.6 339.0Q194.8 330.3 196.0 329.8M301.5 384.0Q309.2 383.2 304.8 381.1" fill="none" stroke="#a4a4a4" stroke-width="1.2" opacity="0.65" filter="url(#soft)"/>
<circle cx="243.7" cy="381.5" r="5.300000000000001" fill="none" stroke="#eeeeee" stroke-width="2.4" filter="url(#glow)" opacity="0.7"/>
<circle cx="243.7" cy="381.5" r="4.4" fill="#6e6e6e" stroke="#d6d6d6" stroke-width="1.3" filter="url(#soft)"/>
<circle cx="243.7" cy="381.5" r="6.2" fill="none" stroke="#262626" stroke-width="0.7" opacity="0.55"/>
<circle cx="262.7" cy="350.6" r="4.3" fill="none" stroke="#eeeeee" stroke-width="2.4" filter="url(#glow)" opacity="0.7"/>
<circle cx="262.7" cy="350.6" r="3.4" fill="#6e6e6e" stroke="#d6d6d6" stroke-width="1.3" filter="url(#soft)"/>
<circle cx="262.7" cy="350.6" r="5.2" fill="none" stroke="#262626" stroke-width="0.7" opacity="0.55"/>
<circle cx="284.1" cy="349.4" r="5.300000000000001" fill="none" stroke="#eeeeee" stroke-width="2.4" filter="url(#glow)" opacity="0.7"/>
<circle cx="284.1" cy="349.4" r="4.4" fill="#6e6e6e" stroke="#d6d6d6" stroke-width="1.3" filter="url(#soft)"/>
<circle cx="284.1" cy="349.4" r="6.2" fill="none" stroke="#262626" stroke-width="0.7" opacity="0.55"/>
<circle cx="291.3" cy="342.2" r="4.3" fill="none" stroke="#eeeeee" stroke-width="2.4" filter="url(#glow)" opacity="0.7"/>
<circle cx="291.3" cy="342.2" r="3.4" fill="#6e6e6e" stroke="#d6d6d6" stroke-width="1.3" filter="url(#soft)"/>
<circle cx="291.3" cy="342.2" r="5.2" fill="none" stroke="#262626" stroke-width="0.7" opacity="0.55"/>
<circle cx="292.5" cy="356.5" r="3.8" fill="none" stroke="#eeeeee" stroke-width="2.4" filter="url(#glow)" opacity="0.7"/>
<circle cx="292.5" cy="356.5" r="2.9" fill="#6e6e6e" stroke="#d6d6d6" stroke-width="1.3" filter="url(#soft)"/>
<circle cx="292.5" cy="356.5" r="4.7" fill="none" stroke="#262626" stroke-width="0.7" opacity="0.55"/>
<circle cx="303.2" cy="355.3" r="3.8" fill="none" stroke="#eeeeee" stroke-width="2.4" filter="url(#glow)" opacity="0.7"/>
<circle cx="303.2" cy="355.3" r="2.9" fill="#6e6e6e" stroke="#d6d6d6" stroke-width="1.3" filter="url(#soft)"/>
<circle cx="303.2" cy="355.3" r="4.7" fill="none" stroke="#262626" stroke-width="0.7" opacity="0.55"/>
<circle cx="312.7" cy="353" r="3.8" fill="none" stroke="#eeeeee" stroke-width="2.4" filter="url(#glow)" opacity="0.7"/>
<circle cx="312.7" cy="353" r="2.9" fill="#6e6e6e" stroke="#d6d6d6" stroke-width="1.3" filter="url(#soft)"/>
<circle cx="312.7" cy="353" r="4.7" fill="none" stroke="#262626" stroke-width="0.7" opacity="0.55"/>
<circle cx="313.9" cy="338.7" r="3.8" fill="none" stroke="#eeeeee" stroke-width="2.4" filter="url(#glow)" opacity="0.7"/>
<circle cx="313.9" cy="338.7" r="2.9" fill="#6e6e6e" stroke="#d6d6d6" stroke-width="1.3" filter="url(#soft)"/>
<circle cx="313.9" cy="338.7" r="4.7" fill="none" stroke="#262626" stroke-width="0.7" opacity="0.55"/>
<circle cx="294.9" cy="378" r="3.8" fill="none" stroke="#eeeeee" stroke-width="2.4" filter="url(#glow)" opacity="0.7"/>
<circle cx="294.9" cy="378" r="2.9" fill="#6e6e6e" stroke="#d6d6d6" stroke-width="1.3" filter="url(#soft)"/>
<circle cx="294.9" cy="378" r="4.7" fill="none" stroke="#262626" stroke-width="0.7" opacity="0.55"/>
<circle cx="300.8" cy="389.9" r="3.3" fill="none" stroke="#eeeeee" stroke-width="2.4" filter="url(#glow)" opacity="0.7"/>
<circle cx="300.8" cy="389.9" r="2.4" fill="#6e6e6e" stroke="#d6d6d6" stroke-width="1.3" filter="url(#soft)"/>
<circle cx="300.8" cy="389.9" r="4.2" fill="none" stroke="#262626" stroke-width="0.7" opacity="0.55"/>
<circle cx="303.2" cy="399.4" r="4.3" fill="none" stroke="#eeeeee" stroke-width="2.4" filter="url(#glow)" opacity="0.7"/>
<circle cx="303.2" cy="399.4" r="3.4" fill="#6e6e6e" stroke="#d6d6d6" stroke-width="1.3" filter="url(#soft)"/>
<circle cx="303.2" cy="399.4" r="5.2" fill="none" stroke="#262626" stroke-width="0.7" opacity="0.55"/>
<circle cx="228.2" cy="343.4" r="4.8" fill="none" stroke="#eeeeee" stroke-width="2.4" filter="url(#glow)" opacity="0.7"/>
<circle cx="228.2" cy="343.4" r="3.9" fill="#6e6e6e" stroke="#d6d6d6" stroke-width="1.3" filter="url(#soft)"/>
<circle cx="228.2" cy="343.4" r="5.7" fill="none" stroke="#262626" stroke-width="0.7" opacity="0.55"/>
<circle cx="219.9" cy="353" r="4.3" fill="none" stroke="#eeeeee" stroke-width="2.4" filter="url(#glow)" opacity="0.7"/>
<circle cx="219.9" cy="353" r="3.4" fill="#6e6e6e" stroke="#d6d6d6" stroke-width="1.3" filter="url(#soft)"/>
<circle cx="219.9" cy="353" r="5.2" fill="none" stroke="#262626" stroke-width="0.7" opacity="0.55"/>
<circle cx="253.2" cy="345.8" r="3.3" fill="none" stroke="#eeeeee" stroke-width="2.4" filter="url(#glow)" opacity="0.7"/>
<circle cx="253.2" cy="345.8" r="2.4" fill="#6e6e6e" stroke="#d6d6d6" stroke-width="1.3" filter="url(#soft)"/>
<circle cx="253.2" cy="345.8" r="4.2" fill="none" stroke="#262626" stroke-width="0.7" opacity="0.55"/>
<circle cx="227" cy="367.2" r="2.8" fill="none" stroke="#eeeeee" stroke-width="2.4" filter="url(#glow)" opacity="0.7"/>
<circle cx="227" cy="367.2" r="1.9" fill="#6e6e6e" stroke="#d6d6d6" stroke-width="1.3" filter="url(#soft)"/>
<circle cx="227" cy="367.2" r="3.7" fill="none" stroke="#262626" stroke-width="0.7" opacity="0.55"/>
<circle cx="267.5" cy="407.7" r="2.8" fill="none" stroke="#eeeeee" stroke-width="2.4" filter="url(#glow)" opacity="0.7"/>
<circle cx="267.5" cy="407.7" r="1.9" fill="#6e6e6e" stroke="#d6d6d6" stroke-width="1.3" filter="url(#soft)"/>
<circle cx="267.5" cy="407.7" r="3.7" fill="none" stroke="#262626" stroke-width="0.7" opacity="0.55"/>
<circle cx="275.8" cy="420.8" r="3.3" fill="none" stroke="#eeeeee" stroke-width="2.4" filter="url(#glow)" opacity="0.7"/>
<circle cx="275.8" cy="420.8" r="2.4" fill="#6e6e6e" stroke="#d6d6d6" stroke-width="1.3" filter="url(#soft)"/>
<circle cx="275.8" cy="420.8" r="4.2" fill="none" stroke="#262626" stroke-width="0.7" opacity="0.55"/>
<circle cx="268.7" cy="324.4" r="3.3" fill="none" stroke="#eeeeee" stroke-width="2.4" filter="url(#glow)" opacity="0.7"/>
<circle cx="268.7" cy="324.4" r="2.4" fill="#6e6e6e" stroke="#d6d6d6" stroke-width="1.3" filter="url(#soft)"/>
<circle cx="268.7" cy="324.4" r="4.2" fill="none" stroke="#262626" stroke-width="0.7" opacity="0.55"/>
</g>
<rect x="177.00" y="424.40" width="163.00" height="20.60" fill="#000" stroke="none" stroke-width="1" />
<g clip-path="url(#mc2)">
<rect x="345.00" y="322.00" width="163.00" height="102.40" fill="#565656" stroke="none" stroke-width="1" />
<path d="M386.8 347.3L390.8 345.2L386.6 337.2L381.2 341.4L380.9 342.0L381.2 342.4ZM431.4 422.4L424.4 419.7L421.9 411.4L427.3 407.0L428.4 407.2L429.6 408.9ZM409.9 320.3L409.0 323.7L411.9 330.5L413.0 330.5L420.1 325.6L418.6 316.4L417.0 314.4L411.9 317.2ZM463.9 364.3L479.6 374.5L479.5 374.8L469.5 383.9L462.7 365.0ZM422.2 340.8L426.5 341.5L427.5 341.5L432.2 334.3L432.3 333.9L428.1 328.4L422.2 330.4L421.1 331.7ZM386.9 414.0L386.2 398.7L373.0 400.3L371.3 403.1L374.5 411.5L375.9 412.1ZM414.9 362.5L413.5 364.3L413.5 364.3L408.2 364.6L399.4 352.1L400.3 346.1L400.5 345.8L401.9 344.3L405.9 342.3L406.2 342.2L414.0 351.4L414.9 360.2ZM396.0 406.6L389.0 397.2L390.9 392.3L400.1 393.8L401.6 402.1L397.4 406.2ZM453.8 395.0L451.4 398.2L445.7 401.9L445.3 397.8L450.5 394.3ZM365.2 381.8L370.7 385.8L376.4 385.8L376.3 377.4ZM480.8 416.0L475.3 421.1L474.4 420.9L467.4 413.7L471.9 409.5L481.3 410.6ZM409.6 339.8L406.2 342.2L414.0 351.4L419.5 347.6L421.7 341.0ZM450.7 359.9L452.2 359.7L461.7 365.3L454.2 375.3L446.5 376.4L445.8 365.8L449.4 360.5ZM347.2 359.8L338.7 373.8L338.0 373.4L342.8 358.9ZM398.1 432.0L414.3 433.9L414.6 433.3L413.8 428.2L412.6 427.0L397.4 426.9ZM463.9 364.2L463.9 364.3L479.6 374.5L486.5 368.6L478.6 356.9L471.6 356.9ZM464.8 316.1L468.9 329.6L474.9 323.9L475.6 315.0ZM437.9 352.7L435.7 347.8L440.5 342.8L440.8 342.6L447.9 346.3L448.7 348.2L444.5 351.8ZM465.3 337.1L465.9 337.6L471.6 356.9L463.9 364.2L458.3 347.2ZM362.8 382.0L360.0 385.2L355.1 386.8L348.0 384.5L346.3 378.5L349.6 374.6L360.7 371.3L363.2 373.5ZM384.8 430.9L383.1 429.2L387.9 414.4L389.5 414.4L396.1 421.1L396.2 424.7ZM424.1 351.8L425.6 354.3L425.1 358.6L414.9 362.5L414.9 360.2L421.3 350.3ZM431.5 422.5L439.1 417.3L439.0 415.9L429.6 408.9L431.4 422.4ZM409.9 320.3L409.0 323.7L400.6 328.3L399.1 328.1L392.8 319.5L398.4 318.9ZM365.5 348.4L351.4 346.5L351.9 359.3L358.7 360.8L367.1 350.5ZM372.5 351.9L377.4 343.0L370.5 337.5L366.6 340.6L365.5 348.4L367.1 350.5L370.9 352.0ZM402.7 388.6L398.4 380.4L409.0 381.1L412.1 383.3ZM352.7 337.7L360.0 336.4L366.6 340.6L365.5 348.4L351.4 346.5L348.4 342.6L351.6 338.5ZM429.6 408.9L428.4 407.2L437.7 403.0L439.6 403.8L442.4 405.3L439.0 415.9ZM389.8 317.3L390.9 318.6L389.9 325.8L386.6 332.8L385.0 331.9L379.8 325.5L386.6 317.1ZM363.2 373.5L360.7 371.3L361.3 363.8L369.0 363.7L373.3 367.5L373.6 371.9ZM399.1 328.1L395.5 331.4L389.9 325.8L390.9 318.6L392.8 319.5ZM471.9 409.5L467.4 413.7L466.8 413.6L463.8 412.3L462.3 404.1L471.4 404.5L472.2 405.6ZM445.8 431.9L442.0 430.5L445.5 421.8L445.8 421.8L455.0 427.3L455.1 427.9L447.4 432.3ZM402.3 391.7L400.1 393.8L390.9 392.3L389.2 388.4L390.4 384.6L396.7 379.0L398.4 380.4L402.7 388.6ZM449.5 407.7L444.3 404.8L445.7 401.9L451.4 398.2L455.5 404.3L451.0 407.8ZM409.9 320.3L398.4 318.9L402.8 311.0L411.9 317.2ZM443.8 379.8L444.1 378.6L429.1 374.1L429.8 379.2L432.7 384.2L439.9 383.4ZM501.6 310.0L503.8 332.1L515.8 325.7L515.9 324.2L506.0 313.2ZM404.1 412.3L411.9 406.1L410.7 403.0L401.6 402.1L397.4 406.2ZM379.9 428.5L366.7 431.8L365.3 425.1L365.3 422.7L374.5 411.5L375.9 412.1ZM476.1 314.1L475.6 315.0L474.9 323.9L485.8 327.2L488.7 325.9L490.9 316.1L485.4 314.5ZM456.3 390.5L445.2 382.4L446.6 390.2ZM402.3 391.7L409.6 393.6L414.3 383.8L412.1 383.3L402.7 388.6ZM389.9 325.8L395.5 331.4L394.5 333.1L387.7 334.5L386.6 332.8ZM467.9 390.5L466.6 389.8L469.5 383.9L479.5 374.8L485.4 386.2L483.9 389.9ZM386.6 332.8L387.7 334.5L387.6 335.2L386.6 337.2L381.2 341.4L378.0 334.9L385.0 331.9ZM397.8 353.0L399.4 352.1L408.2 364.6L405.2 367.2L397.2 371.5L392.6 363.8ZM445.5 421.8L441.9 418.8L448.9 412.6L450.8 417.1L445.8 421.8ZM446.6 390.2L445.2 382.4L443.8 379.8L439.9 383.4L438.7 391.7L441.9 393.0L444.6 393.6L445.6 392.7ZM369.0 363.7L361.3 363.8L358.7 360.8L367.1 350.5L370.9 352.0ZM456.3 390.5L446.6 390.2L445.6 392.7L450.5 394.3L453.8 395.0L459.3 391.8ZM485.8 327.2L483.4 335.3L485.9 337.5L499.6 340.4L502.3 337.7L502.2 335.5L488.7 325.9Z" fill="#525252" opacity="0.8"/>
<path d="M413.5 364.3L428.7 372.7L428.8 373.8L417.3 381.9L413.5 364.3ZM454.2 375.3L464.4 390.2L466.6 389.8L469.5 383.9L462.7 365.0L461.7 365.3ZM453.3 349.8L458.3 347.2L463.9 364.2L463.9 364.3L462.7 365.0L461.7 365.3L452.2 359.7ZM488.5 425.9L480.8 427.3L478.0 426.9L475.3 421.1L480.8 416.0L485.0 418.2L489.2 422.9ZM445.8 421.8L450.8 417.1L457.3 416.6L457.3 422.1L455.0 427.3ZM492.3 355.6L495.8 357.6L498.8 354.1L499.2 341.2L486.0 347.8ZM481.3 410.6L471.9 409.5L472.2 405.6L479.7 401.7L485.2 403.3L484.4 406.4ZM509.8 356.1L508.8 356.7L498.8 354.1L499.2 341.2L499.6 340.4L502.3 337.7L513.1 343.1L513.2 349.1L512.9 351.9ZM404.8 418.1L396.1 421.1L389.5 414.4L396.0 406.6L397.4 406.2L404.1 412.3ZM495.3 417.8L493.4 415.2L495.2 402.9L502.4 401.4L505.6 409.4L498.1 418.0ZM447.4 323.4L449.6 313.6L455.9 321.3L454.8 322.2ZM429.8 379.2L421.0 387.2L423.8 391.5L432.5 384.3L432.7 384.2ZM483.8 347.8L485.9 337.5L499.6 340.4L499.2 341.2L486.0 347.8ZM516.9 367.4L509.1 361.5L505.1 370.4L514.0 371.3ZM397.0 371.8L396.7 379.0L390.4 384.6L380.0 375.6L385.3 371.6ZM444.7 330.6L447.4 323.4L454.8 322.2L445.6 331.4ZM431.5 422.5L431.9 428.1L441.7 430.6L442.0 430.5L445.5 421.8L441.9 418.8L439.1 417.3ZM452.3 334.7L446.0 331.9L440.8 342.6L447.9 346.3ZM469.0 435.4L470.4 423.5L474.4 420.9L475.3 421.1L478.0 426.9L477.5 427.9ZM421.3 350.3L414.9 360.2L414.0 351.4L419.5 347.6ZM450.5 394.3L445.3 397.8L444.6 393.6L445.6 392.7ZM492.3 355.6L495.8 357.6L495.2 360.7L486.9 368.6L486.5 368.6L478.6 356.9L479.5 355.8ZM372.2 332.1L378.0 334.9L381.2 341.4L380.9 342.0L377.4 343.0L370.5 337.5ZM435.5 358.8L432.5 361.1L425.1 358.6L425.6 354.3L433.0 346.8L435.7 347.8L437.9 352.7L437.9 353.0ZM443.0 329.9L432.3 333.9L428.1 328.4L428.9 323.7L430.1 323.1L442.2 328.7ZM414.9 362.5L413.5 364.3L428.7 372.7L430.4 370.1L432.5 363.1L432.5 361.1L425.1 358.6ZM409.0 323.7L411.9 330.5L409.6 339.8L406.2 342.2L405.9 342.3L400.6 328.3ZM410.7 403.0L401.6 402.1L400.1 393.8L402.3 391.7L409.6 393.6L412.8 398.9ZM423.3 394.9L424.1 393.4L423.8 391.5L421.0 387.2L417.0 383.1L414.3 383.8L409.6 393.6L412.8 398.9ZM412.6 427.0L407.8 419.2L415.1 411.2L417.2 424.4L413.8 428.2ZM366.1 389.2L360.0 385.2L355.1 386.8L357.5 393.3L369.1 402.9L371.3 403.1L373.0 400.3L373.1 399.0ZM444.7 330.6L443.0 329.9L432.3 333.9L432.2 334.3L440.5 342.8L440.8 342.6L446.0 331.9L445.6 331.4ZM351.9 359.3L351.7 359.5L349.6 374.6L360.7 371.3L361.3 363.8L358.7 360.8ZM347.7 419.4L349.5 416.1L353.3 414.6L365.3 422.7L365.3 425.1L349.4 426.3L347.7 419.6ZM508.8 356.7L498.8 354.1L495.8 357.6L495.2 360.7L500.5 364.4L508.6 359.7ZM489.2 422.9L485.0 418.2L490.0 413.5L493.4 415.2L495.3 417.8ZM439.3 361.1L441.7 364.6L439.2 368.2L432.5 363.1L432.5 361.1L435.5 358.8ZM424.1 351.8L425.6 354.3L433.0 346.8L427.5 341.5L426.5 341.5ZM458.8 322.7L465.0 335.2L468.9 329.6L464.8 316.1L462.5 315.3ZM439.3 361.1L441.7 364.6L445.8 365.8L449.4 360.5L447.4 360.0ZM439.1 417.3L441.9 418.8L448.9 412.6L449.5 407.7L444.3 404.8L442.4 405.3L439.0 415.9Z" fill="#595959" opacity="0.8"/>
<path d="M445.8 365.8L446.5 376.4L445.3 377.1L439.9 370.8L439.2 368.2L441.7 364.6ZM376.3 377.4L376.4 385.8L377.5 388.7L389.2 388.4L390.4 384.6L380.0 375.6L376.9 376.0ZM355.9 326.8L352.7 337.7L360.0 336.4L362.0 332.3ZM404.8 418.1L407.8 419.2L415.1 411.2L415.6 410.3L411.9 406.1L404.1 412.3ZM514.0 371.3L516.4 382.2L506.4 390.0L504.5 388.3L499.2 381.6L498.8 379.5L504.7 370.5L505.1 370.4ZM444.5 351.8L448.7 348.2L453.3 349.8L452.2 359.7L450.7 359.9ZM442.4 405.3L444.3 404.8L445.7 401.9L445.3 397.8L444.6 393.6L441.9 393.0L439.6 403.8ZM346.8 323.5L341.0 329.4L342.8 337.4L344.7 341.9L346.0 342.4L348.4 342.6L351.6 338.5ZM381.2 342.4L380.9 342.0L377.4 343.0L372.5 351.9L374.4 352.9L381.0 351.0ZM355.9 326.8L352.7 337.7L351.6 338.5L346.8 323.5L347.8 321.0L349.9 319.0L351.9 319.2L355.7 320.6ZM443.1 314.2L441.7 314.8L440.5 316.1L439.8 321.1L442.2 328.7L443.0 329.9L444.7 330.6L447.4 323.4L449.6 313.6L449.6 313.4L445.2 313.7ZM483.8 347.8L485.9 337.5L483.4 335.3L472.9 338.9L483.1 348.1ZM362.0 332.3L360.0 336.4L366.6 340.6L370.5 337.5L372.2 332.1L372.1 332.0L365.0 329.7ZM386.8 347.3L390.8 345.2L400.3 346.1L399.4 352.1L397.8 353.0L387.6 355.2L385.6 351.5ZM387.7 334.5L394.5 333.1L401.9 344.3L400.5 345.8L387.6 335.2ZM369.1 402.9L356.2 407.4L353.3 414.6L365.3 422.7L374.5 411.5L371.3 403.1ZM399.1 328.1L395.5 331.4L394.5 333.1L401.9 344.3L405.9 342.3L400.6 328.3ZM492.3 355.6L486.0 347.8L483.8 347.8L483.1 348.1L479.5 355.8ZM380.8 361.0L386.1 358.7L388.9 361.7L385.0 369.8ZM485.2 403.3L486.5 402.2L485.9 394.3L483.9 389.9L467.9 390.5L469.9 393.5L479.7 401.7ZM439.6 403.8L437.7 403.0L434.3 395.3L435.7 393.8L438.7 391.7L441.9 393.0ZM428.9 323.7L428.1 328.4L422.2 330.4L420.1 325.6L418.6 316.4ZM445.6 331.4L446.0 331.9L452.3 334.7L464.8 336.0L465.0 335.2L458.8 322.7L455.9 321.3L454.8 322.2ZM467.9 390.5L466.6 389.8L464.4 390.2L463.2 391.3L461.3 402.1L462.3 404.1L471.4 404.5L469.9 393.5ZM431.5 422.5L431.9 428.1L429.6 432.0L414.6 433.3L413.8 428.2L417.2 424.4L424.4 419.7L431.4 422.4ZM351.7 359.5L347.2 359.8L338.7 373.8L339.7 374.6L346.3 378.5L349.6 374.6ZM396.0 406.6L389.0 397.2L386.2 398.7L386.9 414.0L387.9 414.4L389.5 414.4ZM386.8 347.3L385.6 351.5L381.0 351.0L381.2 342.4ZM416.3 410.3L415.6 410.3L411.9 406.1L410.7 403.0L412.8 398.9L423.3 394.9L423.4 395.6ZM459.3 391.8L463.2 391.3L461.3 402.1L455.5 404.3L451.4 398.2L453.8 395.0ZM355.9 326.8L362.0 332.3L365.0 329.7L361.7 320.9L359.5 320.1L355.7 320.6ZM439.8 321.1L431.5 321.4L430.1 323.1L442.2 328.7ZM457.3 416.6L457.3 422.1L464.1 422.5L466.8 413.6L463.8 412.3L458.4 414.6ZM489.3 427.0L501.2 427.3L502.3 425.3L498.1 418.0L495.3 417.8L489.2 422.9L488.5 425.9ZM416.3 410.3L423.4 395.6L427.3 407.0L421.9 411.4ZM338.4 427.3L337.7 426.3L339.4 419.4L347.7 419.4L347.7 419.6L338.6 427.3ZM385.0 369.8L385.3 371.6L397.0 371.8L397.2 371.5L392.6 363.8L388.9 361.7ZM413.0 330.5L421.1 331.7L422.2 340.8L421.7 341.0L409.6 339.8L411.9 330.5ZM479.7 401.7L469.9 393.5L471.4 404.5L472.2 405.6ZM457.3 416.6L450.8 417.1L448.9 412.6L449.5 407.7L451.0 407.8L458.4 414.6ZM365.2 381.8L370.7 385.8L366.1 389.2L360.0 385.2L362.8 382.0ZM380.8 361.0L379.8 360.9L374.4 352.9L381.0 351.0L385.6 351.5L387.6 355.2L386.1 358.7ZM447.4 360.0L449.4 360.5L450.7 359.9L444.5 351.8L437.9 352.7L437.9 353.0ZM386.1 358.7L387.6 355.2L397.8 353.0L392.6 363.8L388.9 361.7ZM439.2 368.2L432.5 363.1L430.4 370.1L439.9 370.8ZM352.6 402.8L356.2 407.4L369.1 402.9L357.5 393.3ZM440.5 316.1L439.8 321.1L431.5 321.4L433.0 315.8ZM338.6 427.3L348.9 429.7L349.4 426.3L347.7 419.6ZM498.1 418.0L505.6 409.4L511.3 412.7L513.4 420.3L510.0 424.3L502.3 425.3ZM347.8 400.9L344.4 408.9L334.5 405.1L346.2 399.1ZM440.5 342.8L435.7 347.8L433.0 346.8L427.5 341.5L432.2 334.3Z" fill="#606060" opacity="0.8"/>
<path d="M413.0 330.5L420.1 325.6L422.2 330.4L421.1 331.7ZM377.5 388.7L389.2 388.4L390.9 392.3L389.0 397.2L386.2 398.7L373.0 400.3L373.1 399.0ZM351.4 346.5L348.4 342.6L346.0 342.4L339.6 357.4L342.8 358.9L347.2 359.8L351.7 359.5L351.9 359.3ZM479.5 355.8L478.6 356.9L471.6 356.9L465.9 337.6L472.9 338.9L483.1 348.1ZM502.4 401.4L506.7 392.1L506.4 390.0L504.5 388.3L485.9 394.3L486.5 402.2L495.2 402.9ZM455.0 427.3L457.3 422.1L464.1 422.5L466.0 425.1L461.8 435.6L455.1 427.9ZM477.5 427.9L478.0 426.9L480.8 427.3L483.7 433.8L479.3 434.2ZM346.8 323.5L341.0 329.4L333.0 327.0L340.2 320.7L347.8 321.0ZM483.9 389.9L485.4 386.2L499.2 381.6L504.5 388.3L485.9 394.3ZM396.2 424.7L396.1 421.1L404.8 418.1L407.8 419.2L412.6 427.0L397.4 426.9ZM379.8 360.9L373.3 367.5L369.0 363.7L370.9 352.0L372.5 351.9L374.4 352.9ZM485.0 418.2L490.0 413.5L484.4 406.4L481.3 410.6L480.8 416.0ZM490.0 413.5L493.4 415.2L495.2 402.9L486.5 402.2L485.2 403.3L484.4 406.4ZM413.5 364.3L408.2 364.6L405.2 367.2L409.0 381.1L412.1 383.3L414.3 383.8L417.0 383.1L417.3 381.9ZM372.2 332.1L378.0 334.9L385.0 331.9L379.8 325.5L375.1 326.3L372.1 332.0ZM439.9 370.8L430.4 370.1L428.7 372.7L428.8 373.8L429.1 374.1L444.1 378.6L445.3 377.1ZM383.1 429.2L379.9 428.5L375.9 412.1L386.9 414.0L387.9 414.4ZM380.8 361.0L379.8 360.9L373.3 367.5L373.6 371.9L376.9 376.0L380.0 375.6L385.3 371.6L385.0 369.8ZM345.1 390.3L334.5 399.7L333.0 405.2L334.5 405.1L346.2 399.1ZM352.6 402.8L357.5 393.3L355.1 386.8L348.0 384.5L345.4 387.9L345.1 390.3L346.2 399.1L347.8 400.9ZM397.0 371.8L396.7 379.0L398.4 380.4L409.0 381.1L405.2 367.2L397.2 371.5ZM453.3 349.8L458.3 347.2L465.3 337.1L464.8 336.0L452.3 334.7L447.9 346.3L448.7 348.2ZM421.7 341.0L419.5 347.6L421.3 350.3L424.1 351.8L426.5 341.5L422.2 340.8ZM352.6 402.8L356.2 407.4L353.3 414.6L349.5 416.1L347.3 414.2L344.4 408.9L347.8 400.9ZM361.7 320.9L370.4 319.4L375.1 326.3L372.1 332.0L365.0 329.7ZM458.4 414.6L463.8 412.3L462.3 404.1L461.3 402.1L455.5 404.3L451.0 407.8ZM466.0 425.1L464.1 422.5L466.8 413.6L467.4 413.7L474.4 420.9L470.4 423.5ZM387.6 335.2L386.6 337.2L390.8 345.2L400.3 346.1L400.5 345.8ZM428.8 373.8L429.1 374.1L429.8 379.2L421.0 387.2L417.0 383.1L417.3 381.9ZM365.2 381.8L376.3 377.4L376.9 376.0L373.6 371.9L363.2 373.5L362.8 382.0ZM439.3 361.1L447.4 360.0L437.9 353.0L435.5 358.8ZM509.1 361.5L508.6 359.7L500.5 364.4L504.7 370.5L505.1 370.4ZM465.3 337.1L465.9 337.6L472.9 338.9L483.4 335.3L485.8 327.2L474.9 323.9L468.9 329.6L465.0 335.2L464.8 336.0ZM456.3 390.5L445.2 382.4L443.8 379.8L444.1 378.6L445.3 377.1L446.5 376.4L454.2 375.3L464.4 390.2L463.2 391.3L459.3 391.8ZM504.7 370.5L500.5 364.4L495.2 360.7L486.9 368.6L498.8 379.5ZM434.3 395.3L435.7 393.8L432.5 384.3L423.8 391.5L424.1 393.4ZM423.4 395.6L423.3 394.9L424.1 393.4L434.3 395.3L437.7 403.0L428.4 407.2L427.3 407.0ZM376.4 385.8L370.7 385.8L366.1 389.2L373.1 399.0L377.5 388.7ZM416.3 410.3L415.6 410.3L415.1 411.2L417.2 424.4L424.4 419.7L421.9 411.4ZM498.8 379.5L499.2 381.6L485.4 386.2L479.5 374.8L479.6 374.5L486.5 368.6L486.9 368.6ZM438.7 391.7L435.7 393.8L432.5 384.3L432.7 384.2L439.9 383.4Z" fill="#676767" opacity="0.8"/>
<rect x="345.0" y="322.0" width="163.0" height="102.39999999999998" filter="url(#tx2)" opacity="0.17"/>
<ellipse cx="470" cy="370" rx="20" ry="16" fill="#d8d8d8" opacity="0.45" filter="url(#haze)"/>
<ellipse cx="460" cy="330" rx="35" ry="9" fill="#d8d8d8" opacity="0.35" filter="url(#haze)"/>
<ellipse cx="398" cy="357" rx="10" ry="10" fill="#d8d8d8" opacity="0.3" filter="url(#haze)"/>
<ellipse cx="425" cy="395" rx="10" ry="8" fill="#d8d8d8" opacity="0.25" filter="url(#haze)"/>
<ellipse cx="360" cy="345" rx="8" ry="10" fill="#d8d8d8" opacity="0.2" filter="url(#haze)"/>
<path d="M420.0 329.5m-2 0a2 1.6 0 1 0 4 0a2 1.6 0 1 0-4 0M387.4 343.0m-2 0a2 1.6 0 1 0 4 0a2 1.6 0 1 0-4 0M428.5 415.7m-2 0a2 1.6 0 1 0 4 0a2 1.6 0 1 0-4 0M382.3 392.9m-2 0a2 1.6 0 1 0 4 0a2 1.6 0 1 0-4 0M416.7 327.0m-2 0a2 1.6 0 1 0 4 0a2 1.6 0 1 0-4 0M421.7 374.6m-2 0a2 1.6 0 1 0 4 0a2 1.6 0 1 0-4 0M441.7 366.6m-2 0a2 1.6 0 1 0 4 0a2 1.6 0 1 0-4 0M380.8 383.7m-2 0a2 1.6 0 1 0 4 0a2 1.6 0 1 0-4 0M343.8 354.9m-2 0a2 1.6 0 1 0 4 0a2 1.6 0 1 0-4 0M357.2 331.2m-2 0a2 1.6 0 1 0 4 0a2 1.6 0 1 0-4 0M470.2 375.2m-2 0a2 1.6 0 1 0 4 0a2 1.6 0 1 0-4 0M409.1 413.4m-2 0a2 1.6 0 1 0 4 0a2 1.6 0 1 0-4 0M426.0 334.5m-2 0a2 1.6 0 1 0 4 0a2 1.6 0 1 0-4 0M509.0 375.9m-2 0a2 1.6 0 1 0 4 0a2 1.6 0 1 0-4 0M451.2 353.2m-2 0a2 1.6 0 1 0 4 0a2 1.6 0 1 0-4 0M441.5 394.8m-2 0a2 1.6 0 1 0 4 0a2 1.6 0 1 0-4 0M475.1 348.5m-2 0a2 1.6 0 1 0 4 0a2 1.6 0 1 0-4 0M462.8 377.0m-2 0a2 1.6 0 1 0 4 0a2 1.6 0 1 0-4 0M455.9 355.5m-2 0a2 1.6 0 1 0 4 0a2 1.6 0 1 0-4 0M346.3 330.4m-2 0a2 1.6 0 1 0 4 0a2 1.6 0 1 0-4 0M482.7 421.5m-2 0a2 1.6 0 1 0 4 0a2 1.6 0 1 0-4 0M452.9 419.4m-2 0a2 1.6 0 1 0 4 0a2 1.6 0 1 0-4 0M384.7 403.8m-2 0a2 1.6 0 1 0 4 0a2 1.6 0 1 0-4 0M490.2 349.9m-2 0a2 1.6 0 1 0 4 0a2 1.6 0 1 0-4 0M379.8 348.1m-2 0a2 1.6 0 1 0 4 0a2 1.6 0 1 0-4 0M410.3 351.5m-2 0a2 1.6 0 1 0 4 0a2 1.6 0 1 0-4 0M394.9 399.1m-2 0a2 1.6 0 1 0 4 0a2 1.6 0 1 0-4 0M475.8 404.9m-2 0a2 1.6 0 1 0 4 0a2 1.6 0 1 0-4 0M449.4 394.8m-2 0a2 1.6 0 1 0 4 0a2 1.6 0 1 0-4 0M368.5 382.3m-2 0a2 1.6 0 1 0 4 0a2 1.6 0 1 0-4 0M473.2 412.5m-2 0a2 1.6 0 1 0 4 0a2 1.6 0 1 0-4 0M351.9 330.1m-2 0a2 1.6 0 1 0 4 0a2 1.6 0 1 0-4 0M492.5 393.9m-2 0a2 1.6 0 1 0 4 0a2 1.6 0 1 0-4 0M462.2 424.1m-2 0a2 1.6 0 1 0 4 0a2 1.6 0 1 0-4 0M418.7 348.1m-2 0a2 1.6 0 1 0 4 0a2 1.6 0 1 0-4 0M506.8 350.6m-2 0a2 1.6 0 1 0 4 0a2 1.6 0 1 0-4 0M444.8 321.4m-2 0a2 1.6 0 1 0 4 0a2 1.6 0 1 0-4 0M482.6 341.9m-2 0a2 1.6 0 1 0 4 0a2 1.6 0 1 0-4 0M452.8 364.7m-2 0a2 1.6 0 1 0 4 0a2 1.6 0 1 0-4 0M491.7 390.8m-2 0a2 1.6 0 1 0 4 0a2 1.6 0 1 0-4 0M403.1 423.6m-2 0a2 1.6 0 1 0 4 0a2 1.6 0 1 0-4 0M400.4 413.4m-2 0a2 1.6 0 1 0 4 0a2 1.6 0 1 0-4 0M341.9 363.0m-2 0a2 1.6 0 1 0 4 0a2 1.6 0 1 0-4 0M497.9 411.0m-2 0a2 1.6 0 1 0 4 0a2 1.6 0 1 0-4 0M374.1 360.3m-2 0a2 1.6 0 1 0 4 0a2 1.6 0 1 0-4 0M363.9 334.4m-2 0a2 1.6 0 1 0 4 0a2 1.6 0 1 0-4 0M485.0 415.0m-2 0a2 1.6 0 1 0 4 0a2 1.6 0 1 0-4 0M390.4 348.3m-2 0a2 1.6 0 1 0 4 0a2 1.6 0 1 0-4 0M394.0 339.2m-2 0a2 1.6 0 1 0 4 0a2 1.6 0 1 0-4 0M361.4 410.5m-2 0a2 1.6 0 1 0 4 0a2 1.6 0 1 0-4 0M489.9 410.0m-2 0a2 1.6 0 1 0 4 0a2 1.6 0 1 0-4 0M453.0 320.9m-2 0a2 1.6 0 1 0 4 0a2 1.6 0 1 0-4 0M401.2 332.8m-2 0a2 1.6 0 1 0 4 0a2 1.6 0 1 0-4 0M428.1 381.3m-2 0a2 1.6 0 1 0 4 0a2 1.6 0 1 0-4 0M488.1 341.7m-2 0a2 1.6 0 1 0 4 0a2 1.6 0 1 0-4 0M411.6 376.6m-2 0a2 1.6 0 1 0 4 0a2 1.6 0 1 0-4 0M476.4 366.0m-2 0a2 1.6 0 1 0 4 0a2 1.6 0 1 0-4 0M380.0 332.4m-2 0a2 1.6 0 1 0 4 0a2 1.6 0 1 0-4 0M467.5 319.0m-2 0a2 1.6 0 1 0 4 0a2 1.6 0 1 0-4 0M435.5 373.6m-2 0a2 1.6 0 1 0 4 0a2 1.6 0 1 0-4 0M443.2 345.4m-2 0a2 1.6 0 1 0 4 0a2 1.6 0 1 0-4 0M463.7 353.2m-2 0a2 1.6 0 1 0 4 0a2 1.6 0 1 0-4 0M509.4 365.6m-2 0a2 1.6 0 1 0 4 0a2 1.6 0 1 0-4 0M380.7 423.1m-2 0a2 1.6 0 1 0 4 0a2 1.6 0 1 0-4 0M488.8 353.9m-2 0a2 1.6 0 1 0 4 0a2 1.6 0 1 0-4 0M385.9 366.0m-2 0a2 1.6 0 1 0 4 0a2 1.6 0 1 0-4 0M388.6 376.9m-2 0a2 1.6 0 1 0 4 0a2 1.6 0 1 0-4 0M380.5 369.1m-2 0a2 1.6 0 1 0 4 0a2 1.6 0 1 0-4 0M451.9 323.7m-2 0a2 1.6 0 1 0 4 0a2 1.6 0 1 0-4 0M357.5 378.5m-2 0a2 1.6 0 1 0 4 0a2 1.6 0 1 0-4 0M351.7 396.9m-2 0a2 1.6 0 1 0 4 0a2 1.6 0 1 0-4 0M405.8 377.1m-2 0a2 1.6 0 1 0 4 0a2 1.6 0 1 0-4 0M450.7 345.4m-2 0a2 1.6 0 1 0 4 0a2 1.6 0 1 0-4 0M479.1 396.7m-2 0a2 1.6 0 1 0 4 0a2 1.6 0 1 0-4 0M442.9 395.7m-2 0a2 1.6 0 1 0 4 0a2 1.6 0 1 0-4 0M423.2 325.9m-2 0a2 1.6 0 1 0 4 0a2 1.6 0 1 0-4 0M386.9 424.2m-2 0a2 1.6 0 1 0 4 0a2 1.6 0 1 0-4 0M441.7 425.3m-2 0a2 1.6 0 1 0 4 0a2 1.6 0 1 0-4 0M422.3 354.6m-2 0a2 1.6 0 1 0 4 0a2 1.6 0 1 0-4 0M453.5 327.0m-2 0a2 1.6 0 1 0 4 0a2 1.6 0 1 0-4 0M469.7 402.5m-2 0a2 1.6 0 1 0 4 0a2 1.6 0 1 0-4 0M447.0 343.1m-2 0a2 1.6 0 1 0 4 0a2 1.6 0 1 0-4 0M431.8 414.9m-2 0a2 1.6 0 1 0 4 0a2 1.6 0 1 0-4 0M424.6 423.7m-2 0a2 1.6 0 1 0 4 0a2 1.6 0 1 0-4 0M400.6 321.7m-2 0a2 1.6 0 1 0 4 0a2 1.6 0 1 0-4 0M420.1 351.4m-2 0a2 1.6 0 1 0 4 0a2 1.6 0 1 0-4 0M470.0 427.0m-2 0a2 1.6 0 1 0 4 0a2 1.6 0 1 0-4 0M422.0 350.6m-2 0a2 1.6 0 1 0 4 0a2 1.6 0 1 0-4 0M358.5 354.3m-2 0a2 1.6 0 1 0 4 0a2 1.6 0 1 0-4 0M448.2 394.5m-2 0a2 1.6 0 1 0 4 0a2 1.6 0 1 0-4 0M344.6 367.6m-2 0a2 1.6 0 1 0 4 0a2 1.6 0 1 0-4 0M388.9 404.2m-2 0a2 1.6 0 1 0 4 0a2 1.6 0 1 0-4 0M380.6 347.9m-2 0a2 1.6 0 1 0 4 0a2 1.6 0 1 0-4 0M371.9 343.9m-2 0a2 1.6 0 1 0 4 0a2 1.6 0 1 0-4 0M487.4 357.3m-2 0a2 1.6 0 1 0 4 0a2 1.6 0 1 0-4 0M376.8 337.4m-2 0a2 1.6 0 1 0 4 0a2 1.6 0 1 0-4 0M406.3 383.3m-2 0a2 1.6 0 1 0 4 0a2 1.6 0 1 0-4 0M377.0 320.8m-2 0a2 1.6 0 1 0 4 0a2 1.6 0 1 0-4 0M431.0 353.7m-2 0a2 1.6 0 1 0 4 0a2 1.6 0 1 0-4 0M360.5 342.7m-2 0a2 1.6 0 1 0 4 0a2 1.6 0 1 0-4 0M433.8 326.2m-2 0a2 1.6 0 1 0 4 0a2 1.6 0 1 0-4 0M436.3 409.6m-2 0a2 1.6 0 1 0 4 0a2 1.6 0 1 0-4 0M346.2 405.9m-2 0a2 1.6 0 1 0 4 0a2 1.6 0 1 0-4 0M417.7 403.0m-2 0a2 1.6 0 1 0 4 0a2 1.6 0 1 0-4 0M455.9 400.1m-2 0a2 1.6 0 1 0 4 0a2 1.6 0 1 0-4 0M367.7 324.6m-2 0a2 1.6 0 1 0 4 0a2 1.6 0 1 0-4 0M427.3 365.7m-2 0a2 1.6 0 1 0 4 0a2 1.6 0 1 0-4 0M404.2 332.4m-2 0a2 1.6 0 1 0 4 0a2 1.6 0 1 0-4 0M458.8 407.6m-2 0a2 1.6 0 1 0 4 0a2 1.6 0 1 0-4 0M360.2 329.8m-2 0a2 1.6 0 1 0 4 0a2 1.6 0 1 0-4 0M438.1 321.8m-2 0a2 1.6 0 1 0 4 0a2 1.6 0 1 0-4 0M387.6 326.0m-2 0a2 1.6 0 1 0 4 0a2 1.6 0 1 0-4 0M460.1 420.9m-2 0a2 1.6 0 1 0 4 0a2 1.6 0 1 0-4 0M364.4 367.5m-2 0a2 1.6 0 1 0 4 0a2 1.6 0 1 0-4 0M468.9 420.5m-2 0a2 1.6 0 1 0 4 0a2 1.6 0 1 0-4 0M394.4 326.3m-2 0a2 1.6 0 1 0 4 0a2 1.6 0 1 0-4 0M494.9 424.8m-2 0a2 1.6 0 1 0 4 0a2 1.6 0 1 0-4 0M389.0 339.9m-2 0a2 1.6 0 1 0 4 0a2 1.6 0 1 0-4 0M422.4 403.4m-2 0a2 1.6 0 1 0 4 0a2 1.6 0 1 0-4 0M468.1 406.0m-2 0a2 1.6 0 1 0 4 0a2 1.6 0 1 0-4 0M425.4 382.7m-2 0a2 1.6 0 1 0 4 0a2 1.6 0 1 0-4 0M386.6 367.4m-2 0a2 1.6 0 1 0 4 0a2 1.6 0 1 0-4 0M368.4 377.4m-2 0a2 1.6 0 1 0 4 0a2 1.6 0 1 0-4 0M418.3 333.0m-2 0a2 1.6 0 1 0 4 0a2 1.6 0 1 0-4 0M473.8 403.1m-2 0a2 1.6 0 1 0 4 0a2 1.6 0 1 0-4 0M443.3 357.8m-2 0a2 1.6 0 1 0 4 0a2 1.6 0 1 0-4 0M505.7 364.3m-2 0a2 1.6 0 1 0 4 0a2 1.6 0 1 0-4 0M450.5 413.9m-2 0a2 1.6 0 1 0 4 0a2 1.6 0 1 0-4 0M478.1 330.1m-2 0a2 1.6 0 1 0 4 0a2 1.6 0 1 0-4 0M451.0 385.0m-2 0a2 1.6 0 1 0 4 0a2 1.6 0 1 0-4 0M396.8 386.7m-2 0a2 1.6 0 1 0 4 0a2 1.6 0 1 0-4 0M497.0 322.6m-2 0a2 1.6 0 1 0 4 0a2 1.6 0 1 0-4 0M367.7 384.7m-2 0a2 1.6 0 1 0 4 0a2 1.6 0 1 0-4 0M405.1 398.3m-2 0a2 1.6 0 1 0 4 0a2 1.6 0 1 0-4 0M414.0 390.8m-2 0a2 1.6 0 1 0 4 0a2 1.6 0 1 0-4 0M382.3 354.0m-2 0a2 1.6 0 1 0 4 0a2 1.6 0 1 0-4 0M452.2 401.9m-2 0a2 1.6 0 1 0 4 0a2 1.6 0 1 0-4 0M446.2 357.1m-2 0a2 1.6 0 1 0 4 0a2 1.6 0 1 0-4 0M412.9 419.2m-2 0a2 1.6 0 1 0 4 0a2 1.6 0 1 0-4 0M393.8 357.9m-2 0a2 1.6 0 1 0 4 0a2 1.6 0 1 0-4 0M497.5 369.0m-2 0a2 1.6 0 1 0 4 0a2 1.6 0 1 0-4 0M365.0 391.2m-2 0a2 1.6 0 1 0 4 0a2 1.6 0 1 0-4 0M438.0 370.0m-2 0a2 1.6 0 1 0 4 0a2 1.6 0 1 0-4 0M438.0 339.7m-2 0a2 1.6 0 1 0 4 0a2 1.6 0 1 0-4 0M354.6 369.6m-2 0a2 1.6 0 1 0 4 0a2 1.6 0 1 0-4 0M434.0 380.8m-2 0a2 1.6 0 1 0 4 0a2 1.6 0 1 0-4 0M508.0 323.6m-2 0a2 1.6 0 1 0 4 0a2 1.6 0 1 0-4 0M433.4 387.7m-2 0a2 1.6 0 1 0 4 0a2 1.6 0 1 0-4 0M404.7 410.3m-2 0a2 1.6 0 1 0 4 0a2 1.6 0 1 0-4 0M375.2 423.9m-2 0a2 1.6 0 1 0 4 0a2 1.6 0 1 0-4 0M358.8 401.1m-2 0a2 1.6 0 1 0 4 0a2 1.6 0 1 0-4 0M354.7 424.0m-2 0a2 1.6 0 1 0 4 0a2 1.6 0 1 0-4 0M482.9 321.3m-2 0a2 1.6 0 1 0 4 0a2 1.6 0 1 0-4 0M448.1 387.7m-2 0a2 1.6 0 1 0 4 0a2 1.6 0 1 0-4 0M502.7 362.0m-2 0a2 1.6 0 1 0 4 0a2 1.6 0 1 0-4 0M429.7 399.7m-2 0a2 1.6 0 1 0 4 0a2 1.6 0 1 0-4 0M409.0 387.0m-2 0a2 1.6 0 1 0 4 0a2 1.6 0 1 0-4 0M390.6 328.5m-2 0a2 1.6 0 1 0 4 0a2 1.6 0 1 0-4 0M490.2 418.1m-2 0a2 1.6 0 1 0 4 0a2 1.6 0 1 0-4 0M441.4 362.3m-2 0a2 1.6 0 1 0 4 0a2 1.6 0 1 0-4 0M434.3 319.9m-2 0a2 1.6 0 1 0 4 0a2 1.6 0 1 0-4 0M476.7 385.3m-2 0a2 1.6 0 1 0 4 0a2 1.6 0 1 0-4 0M379.6 336.7m-2 0a2 1.6 0 1 0 4 0a2 1.6 0 1 0-4 0M425.7 348.3m-2 0a2 1.6 0 1 0 4 0a2 1.6 0 1 0-4 0M396.3 363.2m-2 0a2 1.6 0 1 0 4 0a2 1.6 0 1 0-4 0M448.8 417.6m-2 0a2 1.6 0 1 0 4 0a2 1.6 0 1 0-4 0M368.9 388.0m-2 0a2 1.6 0 1 0 4 0a2 1.6 0 1 0-4 0M344.3 427.6m-2 0a2 1.6 0 1 0 4 0a2 1.6 0 1 0-4 0M464.1 320.5m-2 0a2 1.6 0 1 0 4 0a2 1.6 0 1 0-4 0M442.8 389.6m-2 0a2 1.6 0 1 0 4 0a2 1.6 0 1 0-4 0M442.8 363.4m-2 0a2 1.6 0 1 0 4 0a2 1.6 0 1 0-4 0M446.3 413.2m-2 0a2 1.6 0 1 0 4 0a2 1.6 0 1 0-4 0M505.5 419.6m-2 0a2 1.6 0 1 0 4 0a2 1.6 0 1 0-4 0M417.5 417.2m-2 0a2 1.6 0 1 0 4 0a2 1.6 0 1 0-4 0M488.2 377.9m-2 0a2 1.6 0 1 0 4 0a2 1.6 0 1 0-4 0M365.5 358.4m-2 0a2 1.6 0 1 0 4 0a2 1.6 0 1 0-4 0M343.9 403.5m-2 0a2 1.6 0 1 0 4 0a2 1.6 0 1 0-4 0M449.4 392.3m-2 0a2 1.6 0 1 0 4 0a2 1.6 0 1 0-4 0M433.8 390.4m-2 0a2 1.6 0 1 0 4 0a2 1.6 0 1 0-4 0M433.3 338.9m-2 0a2 1.6 0 1 0 4 0a2 1.6 0 1 0-4 0M491.3 336.9m-2 0a2 1.6 0 1 0 4 0a2 1.6 0 1 0-4 0" fill="#2c2c2c" opacity="0.75" filter="url(#nuc)"/>
<path d="M349.6 374.6Q350.3 363.7 351.7 359.5M370.7 385.8Q373.7 389.4 376.4 385.8M499.6 340.4Q504.0 338.8 502.3 337.7M455.9 321.3Q452.1 314.0 449.6 313.6M439.2 368.2Q439.6 364.9 441.7 364.6M411.9 330.5Q410.2 328.4 409.0 323.7M377.4 343.0Q376.4 342.6 370.5 337.5M444.1 378.6Q445.6 378.2 445.3 377.1M485.4 386.2Q485.1 386.7 483.9 389.9M396.7 379.0Q400.5 376.6 398.4 380.4M427.5 341.5Q433.7 347.4 433.0 346.8M447.4 323.4Q451.1 328.8 444.7 330.6M390.4 384.6Q395.9 380.9 396.7 379.0M483.1 348.1Q482.1 353.0 479.5 355.8M431.5 321.4Q431.3 321.2 430.1 323.1M495.8 357.6Q497.0 355.6 492.3 355.6M388.9 361.7Q386.0 365.7 385.0 369.8M407.8 419.2Q409.7 423.3 412.6 427.0M365.3 422.7Q365.9 426.6 365.3 425.1M446.5 376.4Q447.0 372.2 445.8 365.8M493.4 415.2Q492.6 408.5 495.2 402.9M389.9 325.8Q392.4 321.4 390.9 318.6M457.3 422.1Q458.5 420.1 457.3 416.6M429.1 374.1Q435.5 375.9 428.8 373.8M498.8 379.5Q502.3 374.6 504.7 370.5M488.5 425.9Q486.3 427.7 489.3 427.0M412.6 427.0Q407.6 424.7 397.4 426.9M371.3 403.1Q370.8 398.0 373.0 400.3M465.0 335.2Q465.0 330.5 458.8 322.7M447.4 360.0Q443.9 360.7 439.3 361.1M499.2 381.6Q492.0 383.4 485.4 386.2M414.3 383.8Q409.6 394.1 409.6 393.6M371.3 403.1Q372.0 403.3 369.1 402.9M479.5 355.8Q484.5 354.9 492.3 355.6M458.3 347.2Q460.5 341.7 465.3 337.1M441.9 418.8Q443.3 420.3 445.5 421.8M471.4 404.5Q469.4 401.7 469.9 393.5M405.9 342.3Q407.0 342.0 406.2 342.2M360.0 385.2Q363.8 384.9 366.1 389.2M400.3 346.1Q395.1 341.1 390.8 345.2M449.4 360.5Q448.3 360.5 447.4 360.0M370.9 352.0Q373.2 351.1 372.5 351.9M386.6 337.2Q383.4 341.1 381.2 341.4M452.2 359.7Q452.6 362.1 450.7 359.9M370.5 337.5Q369.2 339.0 366.6 340.6M351.6 338.5Q344.7 330.5 346.8 323.5M448.7 348.2Q451.8 347.3 453.3 349.8M431.4 422.4Q431.7 424.0 431.5 422.5M398.4 318.9Q405.1 324.3 409.9 320.3M379.8 325.5Q381.3 322.6 385.0 331.9M400.3 346.1Q399.5 343.9 400.5 345.8M349.5 416.1Q348.5 416.5 347.3 414.2M377.4 343.0Q378.5 340.8 380.9 342.0M399.4 352.1Q402.7 354.9 397.8 353.0M421.1 331.7Q424.8 335.0 422.2 340.8M381.0 351.0Q380.8 348.0 381.2 342.4M486.9 368.6Q489.0 371.0 498.8 379.5M440.5 316.1Q445.1 315.4 441.7 314.8M408.2 364.6Q408.2 368.4 413.5 364.3M430.4 370.1Q434.5 370.0 439.9 370.8M347.7 419.6Q341.6 424.4 338.6 427.3M427.5 341.5Q423.4 343.0 426.5 341.5M409.6 393.6Q407.3 389.6 402.3 391.7M500.5 364.4Q495.6 361.0 495.2 360.7M493.4 415.2Q493.6 418.7 490.0 413.5M392.6 363.8Q393.2 357.6 397.8 353.0M485.9 337.5Q484.4 334.4 483.4 335.3M374.5 411.5Q371.3 419.0 365.3 422.7M401.6 402.1Q401.1 404.6 397.4 406.2M428.4 407.2Q427.3 404.1 427.3 407.0M455.9 321.3Q452.4 323.3 454.8 322.2M432.5 361.1Q429.1 357.2 425.1 358.6M433.0 346.8Q426.5 349.3 425.6 354.3M351.9 319.2Q351.9 320.9 349.9 319.0M355.1 386.8Q356.0 389.9 357.5 393.3M344.7 341.9Q344.2 344.6 346.0 342.4M349.5 416.1Q351.1 420.0 347.7 419.4M367.1 350.5Q364.1 350.3 365.5 348.4M389.2 388.4Q388.8 388.9 390.9 392.3M472.9 338.9Q478.6 338.9 483.4 335.3M437.9 353.0Q442.2 360.9 447.4 360.0M397.2 371.5Q401.3 371.8 397.0 371.8M432.2 334.3Q440.1 340.2 440.5 342.8M444.3 404.8Q441.8 403.8 442.4 405.3M369.0 363.7Q371.4 366.9 373.3 367.5M495.8 357.6Q499.0 355.5 498.8 354.1M400.5 345.8Q401.8 346.2 401.9 344.3M486.5 368.6Q488.8 368.9 486.9 368.6M431.9 428.1Q434.9 430.8 441.7 430.6M362.0 332.3Q360.1 331.4 355.9 326.8M380.0 375.6Q381.9 377.3 376.9 376.0M499.6 340.4Q495.6 340.1 485.9 337.5M421.9 411.4Q418.6 412.3 416.3 410.3M389.2 388.4Q389.4 385.4 390.4 384.6M479.7 401.7Q478.2 402.1 485.2 403.3M490.9 316.1Q486.8 315.7 485.4 314.5M426.5 341.5Q428.1 348.8 424.1 351.8M445.3 397.8Q445.4 401.1 450.5 394.3M358.7 360.8Q355.3 361.5 351.9 359.3M495.2 360.7Q497.5 366.7 495.8 357.6M411.9 317.2Q410.3 318.6 409.9 320.3M474.4 420.9Q471.1 419.9 470.4 423.5M466.6 389.8Q467.3 386.7 469.5 383.9M374.5 411.5Q379.9 409.3 375.9 412.1M414.9 360.2Q414.0 363.6 414.9 362.5M356.2 407.4Q364.1 406.5 369.1 402.9M468.9 329.6Q465.6 331.4 465.0 335.2M495.2 360.7Q491.5 362.4 486.9 368.6M366.7 431.8Q371.9 430.5 379.9 428.5M379.8 360.9Q377.7 359.3 380.8 361.0M378.0 334.9Q381.8 330.2 385.0 331.9M475.3 421.1Q480.3 420.4 480.8 416.0M463.2 391.3Q461.2 392.7 464.4 390.2M478.0 426.9Q480.0 426.9 480.8 427.3M387.7 334.5Q386.1 336.5 386.6 332.8M499.2 341.2Q492.7 347.2 486.0 347.8M428.9 323.7Q429.4 322.4 430.1 323.1M506.4 390.0Q511.4 390.1 516.4 382.2M357.5 393.3Q358.7 396.6 352.6 402.8M376.3 377.4Q372.1 377.1 365.2 381.8M353.3 414.6Q346.1 416.7 349.5 416.1M376.9 376.0Q376.9 376.5 376.3 377.4M411.9 330.5Q413.7 327.8 413.0 330.5M484.4 406.4Q484.0 407.7 490.0 413.5M499.2 381.6Q499.6 381.8 498.8 379.5M485.9 337.5Q485.5 343.3 483.8 347.8M338.6 427.3Q339.1 424.7 338.4 427.3M344.4 408.9Q343.8 405.7 347.8 400.9M347.8 400.9Q346.9 402.8 352.6 402.8M372.5 351.9Q374.0 352.6 374.4 352.9M396.1 421.1Q399.1 421.2 396.2 424.7M508.8 356.7Q509.5 357.6 509.8 356.1M376.4 385.8Q376.4 375.6 376.3 377.4M349.9 319.0Q350.0 322.3 347.8 321.0M455.1 427.9Q452.0 433.9 447.4 432.3M439.8 321.1Q443.0 322.1 440.5 316.1M441.9 393.0Q440.2 391.2 439.6 403.8M348.9 429.7Q347.4 431.8 349.4 426.3M472.2 405.6Q475.8 403.3 479.7 401.7M485.9 394.3Q485.5 389.7 483.9 389.9M417.0 383.1Q421.0 384.7 417.3 381.9M485.2 403.3Q488.3 406.1 484.4 406.4M502.2 335.5Q495.2 329.7 488.7 325.9M365.3 422.7Q359.5 417.0 353.3 414.6M475.6 315.0Q472.0 316.9 464.8 316.1M458.4 414.6Q456.8 413.0 457.3 416.6M356.2 407.4Q356.9 403.5 352.6 402.8M435.7 347.8Q436.9 347.9 440.5 342.8M337.7 426.3Q337.2 427.9 338.4 427.3M511.3 412.7Q506.4 413.1 505.6 409.4M464.4 390.2Q461.7 384.6 454.2 375.3M374.5 411.5Q375.2 409.3 371.3 403.1M505.6 409.4Q499.4 415.8 498.1 418.0M440.8 342.6Q446.4 345.8 447.9 346.3M515.9 324.2Q507.3 320.3 506.0 313.2M471.4 404.5Q471.3 408.8 462.3 404.1M409.0 381.1Q408.1 380.0 412.1 383.3M421.1 331.7Q418.6 332.4 413.0 330.5M455.5 404.3Q457.6 407.8 451.0 407.8M413.5 364.3Q412.8 360.4 413.5 364.3M372.1 332.0Q372.4 332.0 372.2 332.1M356.2 407.4Q358.3 407.1 353.3 414.6M502.3 425.3Q501.7 423.4 501.2 427.3M498.1 418.0Q497.3 415.6 495.3 417.8M415.1 411.2Q413.5 415.3 407.8 419.2M432.5 363.1Q434.5 367.6 439.2 368.2M423.3 394.9Q420.7 396.6 423.4 395.6M426.5 341.5Q422.4 344.3 422.2 340.8M488.7 325.9Q487.3 324.9 485.8 327.2M445.6 392.7Q448.5 396.0 450.5 394.3M348.9 429.7Q342.5 424.9 338.6 427.3M469.9 393.5Q470.4 392.5 467.9 390.5M483.9 389.9Q472.4 391.3 467.9 390.5M483.7 433.8Q478.9 430.9 480.8 427.3M422.2 340.8Q419.1 340.8 421.7 341.0M394.5 333.1Q400.5 344.6 401.9 344.3M378.0 334.9Q377.7 334.7 372.2 332.1M380.0 375.6Q380.9 375.6 385.3 371.6M352.7 337.7Q357.4 329.1 355.9 326.8M389.5 414.4Q394.4 419.5 396.1 421.1M471.4 404.5Q468.8 405.6 472.2 405.6M457.3 422.1Q454.6 423.4 455.0 427.3M435.5 358.8Q437.0 362.0 439.3 361.1M429.6 432.0Q429.1 427.6 431.9 428.1M455.1 427.9Q455.3 429.7 455.0 427.3M495.3 417.8Q488.4 417.9 489.2 422.9M445.2 313.7Q445.3 311.5 443.1 314.2M434.3 395.3Q437.1 397.0 437.7 403.0M464.1 422.5Q459.7 422.5 457.3 422.1M395.5 331.4Q395.5 327.8 389.9 325.8M441.7 364.6Q439.7 361.3 439.3 361.1M435.7 393.8Q437.4 396.6 434.3 395.3M380.9 342.0Q381.0 339.6 381.2 342.4M450.8 417.1Q450.2 415.2 445.8 421.8M506.7 392.1Q501.8 396.9 502.4 401.4M513.4 420.3Q515.2 414.1 511.3 412.7M478.6 356.9Q478.5 352.4 479.5 355.8M411.9 406.1Q415.9 405.4 415.6 410.3M381.2 341.4Q379.3 345.3 380.9 342.0M445.3 377.1Q442.3 372.9 439.9 370.8M498.8 354.1Q507.1 355.2 508.8 356.7" fill="none" stroke="#a4a4a4" stroke-width="0.8" opacity="0.2" filter="url(#soft)"/>
<path d="M471.6 356.9Q471.7 364.8 463.9 364.2M358.7 360.8Q365.7 355.1 367.1 350.5M432.5 361.1Q434.0 361.5 432.5 363.1M474.9 323.9Q470.2 326.0 468.9 329.6M445.2 382.4Q447.1 382.3 456.3 390.5M348.4 342.6Q353.0 342.5 351.6 338.5M386.2 398.7Q386.6 398.3 389.0 397.2M458.3 347.2Q454.4 349.1 453.3 349.8M346.3 378.5Q346.5 384.9 348.0 384.5M474.9 323.9Q480.2 324.1 485.8 327.2M462.7 365.0Q463.3 365.1 463.9 364.3M355.1 386.8Q347.0 387.7 348.0 384.5M428.7 372.7Q426.9 372.7 430.4 370.1M465.0 335.2Q466.4 335.9 464.8 336.0M412.1 383.3Q408.1 385.8 402.7 388.6M349.4 426.3Q353.1 424.6 347.7 419.6M445.8 421.8Q449.3 421.6 445.5 421.8M516.4 382.2Q517.3 375.1 514.0 371.3M386.6 337.2Q385.9 339.2 387.6 335.2M360.7 371.3Q365.2 370.8 363.2 373.5M387.6 355.2Q388.6 358.1 386.1 358.7M406.2 342.2Q409.4 337.1 409.6 339.8M484.4 406.4Q483.8 405.7 481.3 410.6M514.0 371.3Q514.8 370.5 516.9 367.4M366.1 389.2Q367.1 386.9 370.7 385.8M429.6 408.9Q436.1 413.6 431.4 422.4M450.7 359.9Q449.9 355.0 444.5 351.8M397.4 406.2Q399.3 406.8 396.0 406.6M474.9 323.9Q476.0 314.7 475.6 315.0M467.4 413.7Q473.5 408.9 471.9 409.5M489.2 422.9Q490.4 419.0 488.5 425.9M439.1 417.3Q436.2 419.6 431.5 422.5M390.9 318.6Q391.7 319.8 392.8 319.5M442.2 328.7Q442.5 322.3 439.8 321.1M424.1 393.4Q423.5 393.2 423.3 394.9M381.2 342.4Q382.6 345.4 386.8 347.3M481.3 410.6Q483.1 417.0 480.8 416.0M347.4 314.3Q348.8 319.6 349.9 319.0M503.8 332.1Q508.3 327.6 515.8 325.7M438.7 391.7Q442.8 393.0 441.9 393.0M376.9 376.0Q371.7 375.9 373.6 371.9M414.3 433.9Q409.2 433.4 398.1 432.0M439.9 383.4Q442.7 380.5 443.8 379.8M474.4 420.9Q476.0 415.5 467.4 413.7M400.5 345.8Q394.7 340.3 387.6 335.2M400.1 393.8Q400.4 390.7 402.3 391.7M383.1 429.2Q381.0 430.2 384.8 430.9M502.2 335.5Q505.9 334.8 502.3 337.7M397.4 426.9Q399.9 430.0 398.1 432.0M515.8 325.7Q512.2 327.1 515.9 324.2M504.5 388.3Q496.9 388.5 485.9 394.3M465.9 337.6Q466.8 336.7 465.3 337.1M424.4 419.7Q422.4 423.5 417.2 424.4M451.4 398.2Q454.1 398.6 453.8 395.0M427.5 341.5Q429.1 337.1 432.2 334.3M377.4 343.0Q379.9 345.2 372.5 351.9M360.7 371.3Q350.5 369.9 349.6 374.6M445.2 382.4Q448.6 388.9 446.6 390.2M479.6 374.5Q473.0 372.1 463.9 364.3M359.5 320.1Q356.3 324.3 355.7 320.6M508.6 359.7Q506.4 360.9 509.1 361.5M374.4 352.9Q374.2 356.9 381.0 351.0M414.9 360.2Q417.1 349.6 421.3 350.3M486.5 402.2Q489.8 402.4 495.2 402.9M485.9 394.3Q482.9 399.5 486.5 402.2M342.8 358.9Q341.3 360.9 347.2 359.8M409.6 339.8Q408.6 332.4 411.9 330.5M428.7 372.7Q419.7 369.9 413.5 364.3M409.0 323.7Q409.6 323.0 409.9 320.3M464.8 316.1Q464.7 319.0 462.5 315.3M445.3 377.1Q447.4 377.8 446.5 376.4M490.9 316.1Q490.6 318.0 488.7 325.9M406.2 342.2Q410.4 348.5 414.0 351.4M340.2 320.7Q344.6 317.6 347.8 321.0M437.9 352.7Q438.8 355.1 437.9 353.0M390.4 384.6Q385.6 380.5 380.0 375.6M373.3 367.5Q376.1 362.3 379.8 360.9M508.6 359.7Q510.8 356.7 508.8 356.7M428.1 328.4Q427.4 324.0 428.9 323.7M409.0 381.1Q403.7 379.6 398.4 380.4M447.4 432.3Q449.1 434.2 445.8 431.9M461.7 365.3Q456.4 367.3 454.2 375.3M405.2 367.2Q408.7 369.8 408.2 364.6M423.8 391.5Q425.7 392.7 424.1 393.4M430.4 370.1Q433.6 365.0 432.5 363.1M372.1 332.0Q367.3 333.9 365.0 329.7M442.0 430.5Q444.2 434.1 445.8 431.9M449.6 313.4Q443.5 311.5 445.2 313.7M401.6 402.1Q406.1 397.1 410.7 403.0M388.9 361.7Q389.2 360.2 386.1 358.7M433.0 315.8Q435.2 317.1 440.5 316.1M441.7 430.6Q441.0 429.3 442.0 430.5M450.8 417.1Q448.4 417.6 457.3 416.6M470.4 423.5Q467.4 427.9 466.0 425.1M413.5 364.3Q412.7 364.9 414.9 362.5M370.9 352.0Q369.3 358.9 369.0 363.7M397.8 353.0Q394.2 354.6 387.6 355.2M387.9 414.4Q388.0 420.9 383.1 429.2M463.9 364.2Q459.9 353.6 458.3 347.2M469.5 383.9Q475.1 380.9 479.5 374.8M385.3 371.6Q386.4 372.9 397.0 371.8M435.7 393.8Q439.6 399.8 438.7 391.7M420.1 325.6Q420.5 328.8 422.2 330.4M445.7 401.9Q439.3 406.6 444.3 404.8M502.3 425.3Q498.6 418.1 498.1 418.0M417.0 383.1Q416.4 385.5 414.3 383.8M449.6 313.6Q449.0 311.2 449.6 313.4M423.8 391.5Q422.2 388.2 421.0 387.2M471.6 356.9Q467.9 350.2 465.9 337.6M412.8 398.9Q418.3 394.3 423.3 394.9M414.0 351.4Q414.1 351.9 414.9 360.2M373.1 399.0Q370.6 393.1 366.1 389.2M386.2 398.7Q385.9 400.3 373.0 400.3M412.8 398.9Q410.2 400.8 410.7 403.0M422.2 330.4Q421.6 328.1 421.1 331.7M509.1 361.5Q512.5 364.3 516.9 367.4M463.2 391.3Q463.2 390.8 459.3 391.8M435.7 347.8Q435.5 347.0 437.9 352.7M471.9 409.5Q474.9 406.3 481.3 410.6M369.1 402.9Q360.8 396.9 357.5 393.3M390.8 345.2Q386.3 344.4 386.8 347.3M360.0 336.4Q353.4 336.0 352.7 337.7M365.3 425.1Q356.9 425.5 349.4 426.3M442.2 328.7Q444.0 327.6 443.0 329.9M405.9 342.3Q404.3 329.9 400.6 328.3M375.1 326.3Q378.9 325.3 379.8 325.5M463.2 391.3Q460.8 400.4 461.3 402.1M417.3 381.9Q412.9 370.7 413.5 364.3M339.4 419.4Q346.1 418.9 347.7 419.4M486.0 347.8Q489.4 351.2 492.3 355.6M480.8 427.3Q485.6 426.7 488.5 425.9M505.1 370.4Q510.0 363.9 509.1 361.5M466.8 413.6Q467.1 415.3 467.4 413.7M375.1 326.3Q376.4 331.1 372.1 332.0M506.4 390.0Q508.6 388.1 506.7 392.1M405.9 342.3Q403.7 344.3 401.9 344.3M347.7 419.6Q345.3 417.8 347.7 419.4M370.7 385.8Q362.4 385.8 365.2 381.8M451.0 407.8Q448.8 404.6 449.5 407.7M392.6 363.8Q393.2 363.7 388.9 361.7M431.9 428.1Q430.7 423.4 431.5 422.5M389.5 414.4Q387.3 408.5 396.0 406.6M400.6 328.3Q397.4 328.2 399.1 328.1M366.7 431.8Q361.3 427.6 365.3 425.1M377.5 388.7Q376.3 388.9 376.4 385.8M500.5 364.4Q506.9 361.9 508.6 359.7M439.0 415.9Q439.0 415.4 439.1 417.3M404.1 412.3Q403.6 412.5 404.8 418.1M407.8 419.2Q404.5 419.6 404.8 418.1M385.0 369.8Q383.8 369.4 380.8 361.0M432.3 333.9Q433.9 331.7 443.0 329.9M411.9 406.1Q409.5 407.6 404.1 412.3M373.0 400.3Q374.0 397.4 373.1 399.0M442.4 405.3Q440.7 409.5 439.0 415.9M405.2 367.2Q407.2 372.9 409.0 381.1M444.5 351.8Q440.0 352.7 437.9 352.7M517.4 326.9Q515.6 328.9 515.8 325.7M419.5 347.6Q418.7 347.4 421.3 350.3M444.3 404.8Q445.2 406.3 449.5 407.7M441.9 418.8Q449.9 414.8 448.9 412.6M432.7 384.2Q430.5 385.7 429.8 379.2M432.7 384.2Q436.5 386.3 439.9 383.4M339.4 419.4Q336.5 420.6 337.7 426.3M442.0 430.5Q442.4 428.9 445.5 421.8M375.1 326.3Q372.0 324.5 370.4 319.4M381.0 351.0Q386.9 350.7 385.6 351.5M417.3 381.9Q421.1 376.5 428.8 373.8M405.2 367.2Q401.5 367.8 397.2 371.5M461.3 402.1Q460.5 403.9 455.5 404.3M475.3 421.1Q475.6 418.7 474.4 420.9M415.1 411.2Q413.5 411.2 415.6 410.3M378.0 334.9Q378.1 336.7 381.2 341.4M463.8 412.3Q464.2 416.0 466.8 413.6M411.9 406.1Q407.0 409.2 410.7 403.0M395.5 331.4Q394.2 333.9 394.5 333.1M499.2 341.2Q497.2 347.7 498.8 354.1M463.8 412.3Q462.2 410.3 462.3 404.1M428.4 407.2Q430.9 406.8 429.6 408.9M348.4 342.6Q347.3 347.1 351.4 346.5M370.5 337.5Q369.9 333.7 372.2 332.1M385.0 331.9Q389.1 331.1 386.6 332.8M502.3 337.7Q506.5 338.8 513.1 343.1M475.6 315.0Q474.9 317.0 476.1 314.1M421.7 341.0Q416.8 338.1 409.6 339.8M420.1 325.6Q416.7 327.9 413.0 330.5M362.8 382.0Q364.3 384.1 365.2 381.8M486.0 347.8Q483.0 346.0 483.8 347.8M432.5 361.1Q430.8 358.1 435.5 358.8M478.6 356.9Q475.1 355.1 471.6 356.9M499.2 341.2Q496.8 339.5 499.6 340.4M455.0 427.3Q446.8 425.1 445.8 421.8M348.4 342.6Q348.1 343.9 346.0 342.4M421.3 350.3Q415.3 349.2 424.1 351.8M373.6 371.9Q364.2 371.9 363.2 373.5M420.1 325.6Q420.7 317.1 418.6 316.4M513.2 349.1Q509.1 353.3 512.9 351.9M430.1 323.1Q435.5 321.9 442.2 328.7M366.6 340.6Q360.8 336.5 360.0 336.4M417.2 424.4Q416.2 426.7 413.8 428.2M424.1 393.4Q424.6 399.5 434.3 395.3M462.5 315.3Q460.6 317.6 458.8 322.7" fill="none" stroke="#a4a4a4" stroke-width="1.0" opacity="0.4" filter="url(#soft)"/>
<path d="M443.8 379.8Q449.5 380.4 445.2 382.4M408.2 364.6Q402.9 357.6 399.4 352.1M389.0 397.2Q392.0 397.4 396.0 406.6M445.6 392.7Q448.1 390.1 446.6 390.2M427.3 407.0Q424.9 401.2 423.4 395.6M386.2 398.7Q386.6 405.3 386.9 414.0M414.6 433.3Q421.1 431.6 429.6 432.0M397.2 371.5Q393.5 369.3 392.6 363.8M466.6 389.8Q470.4 391.6 467.9 390.5M441.7 314.8Q445.7 315.9 443.1 314.2M396.1 421.1Q399.1 418.2 404.8 418.1M446.6 390.2Q448.5 388.6 456.3 390.5M386.9 414.0Q389.6 414.3 387.9 414.4M469.9 393.5Q474.3 401.9 479.7 401.7M361.7 320.9Q361.0 323.9 359.5 320.1M401.6 402.1Q397.9 396.4 400.1 393.8M375.9 412.1Q378.1 422.7 379.9 428.5M478.0 426.9Q474.5 427.9 477.5 427.9M418.6 316.4Q424.0 321.0 428.9 323.7M444.1 378.6Q437.0 378.1 429.1 374.1M485.4 314.5Q484.1 317.0 476.1 314.1M338.0 373.4Q341.6 365.2 342.8 358.9M432.5 384.3Q432.5 389.7 435.7 393.8M469.5 383.9Q466.0 378.5 462.7 365.0M464.1 422.5Q469.4 416.9 466.8 413.6M400.6 328.3Q402.7 322.8 409.0 323.7M486.5 402.2Q483.8 401.4 485.2 403.3M448.7 348.2Q446.8 351.6 444.5 351.8M415.6 410.3Q414.6 409.4 416.3 410.3M394.5 333.1Q392.8 332.3 387.7 334.5M351.4 346.5Q357.9 342.7 365.5 348.4M351.9 359.3Q350.1 348.3 351.4 346.5M342.8 337.4Q343.2 340.5 344.7 341.9M452.2 359.7Q453.9 355.6 453.3 349.8M397.4 406.2Q401.1 411.1 404.1 412.3M490.0 413.5Q486.2 417.1 485.0 418.2M387.9 414.4Q392.0 418.3 389.5 414.4M413.8 428.2Q415.5 430.9 412.6 427.0M365.0 329.7Q359.2 331.6 362.0 332.3M346.3 378.5Q345.8 378.9 349.6 374.6M425.6 354.3Q425.9 351.1 424.1 351.8M472.2 405.6Q470.0 407.9 471.9 409.5M351.9 319.2Q357.6 324.0 355.7 320.6M341.0 329.4Q343.8 334.2 342.8 337.4M379.8 325.5Q383.1 322.4 386.6 317.1M445.8 365.8Q446.1 363.7 449.4 360.5M448.9 412.6Q452.0 412.6 450.8 417.1M397.4 426.9Q393.4 424.3 396.2 424.7M363.2 373.5Q362.1 373.4 362.8 382.0M338.7 373.8Q341.4 365.5 347.2 359.8M504.7 370.5Q503.3 370.2 505.1 370.4M360.0 385.2Q359.8 379.7 362.8 382.0M447.9 346.3Q444.6 348.3 448.7 348.2M503.8 332.1Q501.4 330.6 502.2 335.5M437.7 403.0Q438.5 400.9 439.6 403.8M379.9 428.5Q379.7 432.6 383.1 429.2M346.0 342.4Q343.0 348.0 339.6 357.4M351.6 338.5Q350.6 339.2 352.7 337.7M414.0 351.4Q416.0 348.8 419.5 347.6M373.1 399.0Q379.2 395.3 377.5 388.7M396.7 379.0Q393.1 373.2 397.0 371.8M398.4 380.4Q400.1 383.2 402.7 388.6M448.9 412.6Q448.0 409.0 449.5 407.7M365.5 348.4Q365.7 346.7 366.6 340.6M435.7 347.8Q433.2 340.9 433.0 346.8M425.1 358.6Q418.2 364.1 414.9 362.5M439.6 403.8Q439.8 406.7 442.4 405.3M339.7 374.6Q338.7 372.8 338.7 373.8M390.9 392.3Q395.5 394.7 400.1 393.8M347.2 359.8Q350.7 361.8 351.7 359.5M454.2 375.3Q447.3 376.4 446.5 376.4M437.7 403.0Q434.5 405.4 428.4 407.2M443.0 329.9Q444.6 329.2 444.7 330.6M417.0 314.4Q418.0 316.4 411.9 317.2M428.1 328.4Q434.0 332.8 432.3 333.9M386.6 317.1Q386.9 314.6 389.8 317.3M424.4 419.7Q426.6 419.9 431.4 422.4M439.9 370.8Q439.5 369.8 439.2 368.2M472.9 338.9Q479.5 341.8 483.1 348.1M399.4 352.1Q399.0 348.0 400.3 346.1M444.6 393.6Q448.5 392.9 445.6 392.7M339.7 374.6Q341.7 378.1 346.3 378.5M449.4 360.5Q449.8 359.2 450.7 359.9M485.0 418.2Q490.5 419.7 489.2 422.9M390.9 392.3Q389.0 393.5 389.0 397.2M483.1 348.1Q484.6 351.1 483.8 347.8M468.9 329.6Q466.9 322.8 464.8 316.1M367.1 350.5Q368.7 354.9 370.9 352.0M439.9 383.4Q434.7 387.8 438.7 391.7M449.6 313.6Q449.4 318.6 447.4 323.4M445.6 331.4Q439.0 330.9 444.7 330.6M373.3 367.5Q374.3 371.4 373.6 371.9M338.0 373.4Q338.6 375.8 338.7 373.8M392.8 319.5Q395.9 322.8 399.1 328.1M336.6 433.1Q334.8 428.5 338.4 427.3M423.4 395.6Q425.9 404.9 416.3 410.3M346.2 399.1Q344.4 400.5 347.8 400.9M499.2 381.6Q501.8 385.5 504.5 388.3M348.9 429.9Q351.4 434.5 348.9 429.7M361.3 363.8Q363.3 364.9 369.0 363.7M427.3 407.0Q418.6 408.9 421.9 411.4M419.5 347.6Q423.1 339.4 421.7 341.0M370.4 319.4Q362.6 320.2 361.7 320.9M475.3 421.1Q474.8 429.0 478.0 426.9M500.5 364.4Q505.0 366.2 504.7 370.5M345.4 387.9Q347.9 387.8 345.1 390.3M440.8 342.6Q440.9 342.1 446.0 331.9M455.5 404.3Q451.6 403.9 451.4 398.2M461.7 365.3Q459.4 359.6 452.2 359.7M409.6 393.6Q412.6 398.1 412.8 398.9M374.4 352.9Q380.1 356.5 379.8 360.9M347.8 321.0Q344.9 326.2 346.8 323.5M414.3 383.8Q414.9 382.3 412.1 383.3M493.4 415.2Q499.5 417.7 495.3 417.8M392.8 319.5Q394.0 316.5 398.4 318.9M415.1 411.2Q415.0 415.5 417.2 424.4M450.5 394.3Q450.0 395.4 453.8 395.0M454.8 322.2Q448.9 325.6 445.6 331.4M425.6 354.3Q425.6 357.8 425.1 358.6M446.0 331.9Q443.8 334.4 445.6 331.4M463.9 364.3Q463.0 363.1 463.9 364.2M437.9 353.0Q437.2 355.3 435.5 358.8M385.3 371.6Q387.3 372.8 385.0 369.8M385.6 351.5Q387.0 350.2 386.8 347.3M444.6 393.6Q443.1 396.0 441.9 393.0M505.1 370.4Q510.0 371.5 514.0 371.3M505.6 409.4Q505.9 402.3 502.4 401.4M431.5 321.4Q437.8 321.4 439.8 321.1M386.6 337.2Q388.2 344.5 390.8 345.2M439.0 415.9Q429.9 414.4 429.6 408.9M402.7 388.6Q401.8 384.9 402.3 391.7M428.1 328.4Q425.2 329.9 422.2 330.4M346.2 399.1Q344.8 391.9 345.1 390.3M421.0 387.2Q429.3 382.5 429.8 379.2M386.6 332.8Q386.4 327.7 389.9 325.8M395.5 331.4Q395.1 330.2 399.1 328.1M432.2 334.3Q430.2 334.8 432.3 333.9M387.6 355.2Q382.7 354.7 385.6 351.5M431.5 321.4Q434.1 316.3 433.0 315.8M446.0 331.9Q451.7 327.9 452.3 334.7M483.7 433.8Q482.3 435.6 479.3 434.2M365.0 329.7Q363.9 328.9 361.7 320.9M348.0 384.5Q345.0 386.0 345.4 387.9M510.0 424.3Q504.8 424.7 502.3 425.3M341.0 329.4Q346.7 327.4 346.8 323.5M445.3 397.8Q450.1 401.2 445.7 401.9M389.2 388.4Q384.7 388.3 377.5 388.7M480.8 416.0Q480.9 418.9 485.0 418.2M355.7 320.6Q358.3 320.0 355.9 326.8M454.8 322.2Q449.6 326.9 447.4 323.4M464.4 390.2Q464.9 388.8 466.6 389.8M361.3 363.8Q360.7 366.9 358.7 360.8M360.7 371.3Q362.8 364.7 361.3 363.8M513.1 343.1Q511.9 345.9 513.2 349.1M462.7 365.0Q463.2 364.4 461.7 365.3M458.8 322.7Q457.5 318.4 455.9 321.3M441.9 418.8Q440.6 418.9 439.1 417.3M464.1 422.5Q465.7 422.0 466.0 425.1M479.5 374.8Q480.6 382.3 485.4 386.2M390.9 318.6Q387.8 320.7 389.8 317.3M417.0 383.1Q423.1 383.6 421.0 387.2M501.2 427.3Q494.3 430.2 489.3 427.0M479.6 374.5Q479.6 373.2 479.5 374.8M414.6 433.3Q413.3 431.7 413.8 428.2M360.0 336.4Q363.5 333.8 362.0 332.3M464.8 336.0Q465.3 334.7 465.3 337.1M483.4 335.3Q484.2 329.3 485.8 327.2M486.5 368.6Q482.2 359.1 478.6 356.9M418.6 316.4Q417.8 317.8 417.0 314.4M432.5 384.3Q429.3 388.6 423.8 391.5M375.9 412.1Q379.3 411.8 386.9 414.0M432.5 384.3Q430.9 384.4 432.7 384.2M479.3 434.2Q478.7 431.4 477.5 427.9M440.5 342.8Q441.4 345.9 440.8 342.6M447.9 346.3Q450.8 344.5 452.3 334.7M512.9 351.9Q514.8 352.1 509.8 356.1M386.1 358.7Q381.4 357.1 380.8 361.0M463.8 412.3Q460.6 416.7 458.4 414.6M414.6 433.3Q414.0 430.7 414.3 433.9M351.7 359.5Q351.6 354.8 351.9 359.3M444.6 393.6Q443.2 395.9 445.3 397.8M476.0 313.9Q477.1 312.6 476.1 314.1M429.1 374.1Q432.0 373.7 429.8 379.2M451.0 407.8Q455.6 412.1 458.4 414.6M444.1 378.6Q444.0 377.3 443.8 379.8M424.4 419.7Q422.0 412.0 421.9 411.4M459.3 391.8Q454.5 387.4 456.3 390.5M342.8 358.9Q341.4 358.7 339.6 357.4M486.5 368.6Q480.4 370.0 479.6 374.5M428.8 373.8Q423.5 371.5 428.7 372.7M506.4 390.0Q502.4 389.8 504.5 388.3M510.0 424.3Q507.7 422.2 513.4 420.3M441.7 364.6Q440.8 367.5 445.8 365.8M360.0 385.2Q356.6 385.7 355.1 386.8M461.3 402.1Q464.3 402.8 462.3 404.1M396.2 424.7Q390.8 427.4 384.8 430.9M452.3 334.7Q459.1 335.4 464.8 336.0M495.2 402.9Q502.1 401.9 502.4 401.4M453.8 395.0Q452.8 392.3 459.3 391.8M387.6 335.2Q389.2 337.1 387.7 334.5M451.4 398.2Q451.0 399.5 445.7 401.9M344.4 408.9Q345.4 412.8 347.3 414.2M472.9 338.9Q469.4 338.6 465.9 337.6" fill="none" stroke="#a4a4a4" stroke-width="1.2" opacity="0.65" filter="url(#soft)"/>
<circle cx="398.6" cy="357.7" r="7.300000000000001" fill="none" stroke="#eeeeee" stroke-width="2.4" filter="url(#glow)" opacity="0.7"/>
<circle cx="398.6" cy="357.7" r="6.4" fill="#6e6e6e" stroke="#d6d6d6" stroke-width="1.3" filter="url(#soft)"/>
<circle cx="398.6" cy="357.7" r="8.200000000000001" fill="none" stroke="#262626" stroke-width="0.7" opacity="0.55"/>
<circle cx="410.5" cy="326.8" r="4.3" fill="none" stroke="#eeeeee" stroke-width="2.4" filter="url(#glow)" opacity="0.7"/>
<circle cx="410.5" cy="326.8" r="3.4" fill="#6e6e6e" stroke="#d6d6d6" stroke-width="1.3" filter="url(#soft)"/>
<circle cx="410.5" cy="326.8" r="5.2" fill="none" stroke="#262626" stroke-width="0.7" opacity="0.55"/>
<circle cx="441.4" cy="331.5" r="4.3" fill="none" stroke="#eeeeee" stroke-width="2.4" filter="url(#glow)" opacity="0.7"/>
<circle cx="441.4" cy="331.5" r="3.4" fill="#6e6e6e" stroke="#d6d6d6" stroke-width="1.3" filter="url(#soft)"/>
<circle cx="441.4" cy="331.5" r="5.2" fill="none" stroke="#262626" stroke-width="0.7" opacity="0.55"/>
<circle cx="435.5" cy="341" r="4.3" fill="none" stroke="#eeeeee" stroke-width="2.4" filter="url(#glow)" opacity="0.7"/>
<circle cx="435.5" cy="341" r="3.4" fill="#6e6e6e" stroke="#d6d6d6" stroke-width="1.3" filter="url(#soft)"/>
<circle cx="435.5" cy="341" r="5.2" fill="none" stroke="#262626" stroke-width="0.7" opacity="0.55"/>
<circle cx="453.3" cy="325.6" r="3.8" fill="none" stroke="#eeeeee" stroke-width="2.4" filter="url(#glow)" opacity="0.7"/>
<circle cx="453.3" cy="325.6" r="2.9" fill="#6e6e6e" stroke="#d6d6d6" stroke-width="1.3" filter="url(#soft)"/>
<circle cx="453.3" cy="325.6" r="4.7" fill="none" stroke="#262626" stroke-width="0.7" opacity="0.55"/>
<circle cx="471.2" cy="324.4" r="3.8" fill="none" stroke="#eeeeee" stroke-width="2.4" filter="url(#glow)" opacity="0.7"/>
<circle cx="471.2" cy="324.4" r="2.9" fill="#6e6e6e" stroke="#d6d6d6" stroke-width="1.3" filter="url(#soft)"/>
<circle cx="471.2" cy="324.4" r="4.7" fill="none" stroke="#262626" stroke-width="0.7" opacity="0.55"/>
<circle cx="474.8" cy="331.5" r="4.3" fill="none" stroke="#eeeeee" stroke-width="2.4" filter="url(#glow)" opacity="0.7"/>
<circle cx="474.8" cy="331.5" r="3.4" fill="#6e6e6e" stroke="#d6d6d6" stroke-width="1.3" filter="url(#soft)"/>
<circle cx="474.8" cy="331.5" r="5.2" fill="none" stroke="#262626" stroke-width="0.7" opacity="0.55"/>
<circle cx="492.6" cy="341" r="4.3" fill="none" stroke="#eeeeee" stroke-width="2.4" filter="url(#glow)" opacity="0.7"/>
<circle cx="492.6" cy="341" r="3.4" fill="#6e6e6e" stroke="#d6d6d6" stroke-width="1.3" filter="url(#soft)"/>
<circle cx="492.6" cy="341" r="5.2" fill="none" stroke="#262626" stroke-width="0.7" opacity="0.55"/>
<circle cx="455.5" cy="367" r="4.8" fill="none" stroke="#eeeeee" stroke-width="2.4" filter="url(#glow)" opacity="0.7"/>
<circle cx="455.5" cy="367" r="3.9" fill="#6e6e6e" stroke="#d6d6d6" stroke-width="1.3" filter="url(#soft)"/>
<circle cx="455.5" cy="367" r="5.7" fill="none" stroke="#262626" stroke-width="0.7" opacity="0.55"/>
<circle cx="464" cy="372" r="4.8" fill="none" stroke="#eeeeee" stroke-width="2.4" filter="url(#glow)" opacity="0.7"/>
<circle cx="464" cy="372" r="3.9" fill="#6e6e6e" stroke="#d6d6d6" stroke-width="1.3" filter="url(#soft)"/>
<circle cx="464" cy="372" r="5.7" fill="none" stroke="#262626" stroke-width="0.7" opacity="0.55"/>
<circle cx="474" cy="368" r="4.3" fill="none" stroke="#eeeeee" stroke-width="2.4" filter="url(#glow)" opacity="0.7"/>
<circle cx="474" cy="368" r="3.4" fill="#6e6e6e" stroke="#d6d6d6" stroke-width="1.3" filter="url(#soft)"/>
<circle cx="474" cy="368" r="5.2" fill="none" stroke="#262626" stroke-width="0.7" opacity="0.55"/>
<circle cx="480" cy="372" r="4.3" fill="none" stroke="#eeeeee" stroke-width="2.4" filter="url(#glow)" opacity="0.7"/>
<circle cx="480" cy="372" r="3.4" fill="#6e6e6e" stroke="#d6d6d6" stroke-width="1.3" filter="url(#soft)"/>
<circle cx="480" cy="372" r="5.2" fill="none" stroke="#262626" stroke-width="0.7" opacity="0.55"/>
<circle cx="483" cy="362" r="4.3" fill="none" stroke="#eeeeee" stroke-width="2.4" filter="url(#glow)" opacity="0.7"/>
<circle cx="483" cy="362" r="3.4" fill="#6e6e6e" stroke="#d6d6d6" stroke-width="1.3" filter="url(#soft)"/>
<circle cx="483" cy="362" r="5.2" fill="none" stroke="#262626" stroke-width="0.7" opacity="0.55"/>
<circle cx="473" cy="380" r="3.8" fill="none" stroke="#eeeeee" stroke-width="2.4" filter="url(#glow)" opacity="0.7"/>
<circle cx="473" cy="380" r="2.9" fill="#6e6e6e" stroke="#d6d6d6" stroke-width="1.3" filter="url(#soft)"/>
<circle cx="473" cy="380" r="4.7" fill="none" stroke="#262626" stroke-width="0.7" opacity="0.55"/>
<circle cx="463" cy="379" r="3.8" fill="none" stroke="#eeeeee" stroke-width="2.4" filter="url(#glow)" opacity="0.7"/>
<circle cx="463" cy="379" r="2.9" fill="#6e6e6e" stroke="#d6d6d6" stroke-width="1.3" filter="url(#soft)"/>
<circle cx="463" cy="379" r="4.7" fill="none" stroke="#262626" stroke-width="0.7" opacity="0.55"/>
<circle cx="462.9" cy="392.2" r="4.3" fill="none" stroke="#eeeeee" stroke-width="2.4" filter="url(#glow)" opacity="0.7"/>
<circle cx="462.9" cy="392.2" r="3.4" fill="#6e6e6e" stroke="#d6d6d6" stroke-width="1.3" filter="url(#soft)"/>
<circle cx="462.9" cy="392.2" r="5.2" fill="none" stroke="#262626" stroke-width="0.7" opacity="0.55"/>
<circle cx="426" cy="395.8" r="4.3" fill="none" stroke="#eeeeee" stroke-width="2.4" filter="url(#glow)" opacity="0.7"/>
<circle cx="426" cy="395.8" r="3.4" fill="#6e6e6e" stroke="#d6d6d6" stroke-width="1.3" filter="url(#soft)"/>
<circle cx="426" cy="395.8" r="5.2" fill="none" stroke="#262626" stroke-width="0.7" opacity="0.55"/>
<circle cx="384.3" cy="356.5" r="3.3" fill="none" stroke="#eeeeee" stroke-width="2.4" filter="url(#glow)" opacity="0.7"/>
<circle cx="384.3" cy="356.5" r="2.4" fill="#6e6e6e" stroke="#d6d6d6" stroke-width="1.3" filter="url(#soft)"/>
<circle cx="384.3" cy="356.5" r="4.2" fill="none" stroke="#262626" stroke-width="0.7" opacity="0.55"/>
<circle cx="421.2" cy="372" r="4.3" fill="none" stroke="#eeeeee" stroke-width="2.4" filter="url(#glow)" opacity="0.7"/>
<circle cx="421.2" cy="372" r="3.4" fill="#6e6e6e" stroke="#d6d6d6" stroke-width="1.3" filter="url(#soft)"/>
<circle cx="421.2" cy="372" r="5.2" fill="none" stroke="#262626" stroke-width="0.7" opacity="0.55"/>
<circle cx="364" cy="375.6" r="3.3" fill="none" stroke="#eeeeee" stroke-width="2.4" filter="url(#glow)" opacity="0.7"/>
<circle cx="364" cy="375.6" r="2.4" fill="#6e6e6e" stroke="#d6d6d6" stroke-width="1.3" filter="url(#soft)"/>
<circle cx="364" cy="375.6" r="4.2" fill="none" stroke="#262626" stroke-width="0.7" opacity="0.55"/>
<circle cx="416.4" cy="381.5" r="3.3" fill="none" stroke="#eeeeee" stroke-width="2.4" filter="url(#glow)" opacity="0.7"/>
<circle cx="416.4" cy="381.5" r="2.4" fill="#6e6e6e" stroke="#d6d6d6" stroke-width="1.3" filter="url(#soft)"/>
<circle cx="416.4" cy="381.5" r="4.2" fill="none" stroke="#262626" stroke-width="0.7" opacity="0.55"/>
</g>
<rect x="345.00" y="424.40" width="163.00" height="20.60" fill="#000" stroke="none" stroke-width="1" />
<g clip-path="url(#mc3)">
<rect x="512.20" y="322.00" width="163.00" height="102.40" fill="#505050" stroke="none" stroke-width="1" />
<rect x="512.2" y="322.0" width="163.0" height="102.39999999999998" filter="url(#tx3)" opacity="0.14"/>
<ellipse cx="612" cy="350" rx="22" ry="22" fill="#d8d8d8" opacity="0.35" filter="url(#haze)"/>
<ellipse cx="640" cy="345" rx="22" ry="16" fill="#d8d8d8" opacity="0.25" filter="url(#haze)"/>
<ellipse cx="600" cy="405" rx="18" ry="12" fill="#d8d8d8" opacity="0.2" filter="url(#haze)"/>
<ellipse cx="560" cy="405" rx="20" ry="12" fill="#d8d8d8" opacity="0.15" filter="url(#haze)"/>
<path d="M511.6 315.8Q511.6 318.2 506.6 324.1M599.1 382.1Q609.8 387.8 620.9 389.2M574.2 389.9Q564.4 384.2 546.3 380.6M594.5 383.3Q593.5 377.6 597.9 371.3M519.5 411.5Q520.8 404.7 521.3 411.6M584.4 400.0Q581.0 402.8 583.2 402.9M621.0 333.8Q616.1 337.6 613.7 341.6M677.5 337.7Q658.9 330.6 645.7 320.0M599.1 382.1Q610.3 378.4 616.9 375.4M635.1 364.2Q634.6 356.4 634.8 350.5M591.3 342.4Q594.1 351.0 592.4 357.9M575.7 366.6Q580.0 366.6 587.8 363.4M535.7 365.8Q540.0 375.9 546.3 380.6M572.5 368.7Q568.0 351.7 561.0 341.6M613.0 420.3Q617.1 410.6 619.1 397.6M611.5 328.0Q616.7 332.7 621.0 333.8M572.5 368.7Q570.9 367.7 575.7 366.6M535.4 398.3Q529.7 385.8 529.9 375.5M565.4 324.3Q575.2 326.1 581.8 328.5M592.4 357.9Q591.2 362.8 587.8 363.4M597.0 340.8Q603.3 328.5 605.5 317.6M620.9 346.1Q626.5 351.4 634.8 350.5M572.5 368.7Q574.2 369.5 571.6 370.6M588.9 401.4Q604.1 399.9 619.1 397.6M545.7 388.4Q542.9 392.4 535.4 398.3M592.4 357.9Q595.2 361.6 601.7 358.8M545.7 388.4Q548.7 385.6 546.3 380.6M622.1 333.7Q618.0 333.2 621.0 333.8M675.2 401.6Q661.4 401.2 651.6 399.6M616.9 375.4Q615.4 376.5 609.5 370.4M642.2 411.2Q646.0 400.0 651.6 399.6M664.3 432.6Q665.9 429.1 668.2 423.9M619.4 397.5Q620.6 395.1 619.1 397.6M638.0 341.9Q629.5 339.6 622.1 333.7M545.7 388.4Q551.5 391.8 559.2 397.4M605.5 317.6Q606.7 325.3 611.5 328.0M651.6 399.6Q651.0 386.4 650.2 372.9M584.8 340.7Q580.2 356.4 575.7 366.6M620.9 389.2Q615.6 393.0 619.4 397.5M620.9 346.1Q622.0 341.1 613.7 341.6" fill="none" stroke="#a4a4a4" stroke-width="0.8" opacity="0.15" filter="url(#soft)"/>
<path d="M657.4 370.6Q657.8 371.5 650.2 372.9M582.9 397.4Q582.3 399.3 584.4 400.0M635.9 366.9Q644.7 368.5 650.2 372.9M584.8 340.7Q586.0 344.9 591.3 342.4M564.9 423.2Q573.4 415.9 582.0 405.8M535.9 364.7Q538.8 365.7 535.7 365.8M677.8 403.0Q676.1 403.1 675.2 401.6M594.5 383.3Q588.3 390.1 582.9 397.4M609.3 354.7Q618.0 349.1 620.9 346.1M594.5 383.3Q598.1 381.2 599.1 382.1M514.7 414.1Q513.6 415.1 513.3 419.6M574.2 389.9Q574.6 391.1 574.4 390.6M534.5 405.9Q525.4 408.7 521.3 411.6M641.3 411.8Q629.2 402.8 619.4 397.5M604.9 345.0Q604.4 348.6 607.2 353.6M604.9 345.0Q609.6 342.4 612.6 341.5M532.5 353.2Q544.8 347.0 555.7 339.1M588.9 401.4Q586.0 396.6 584.4 400.0M669.3 375.6Q660.0 371.7 657.4 370.6M584.8 340.7Q583.4 337.3 581.1 337.9M534.5 405.9Q543.2 407.6 545.1 408.7M545.1 408.7Q553.8 405.7 559.2 397.4M559.2 397.4Q568.5 391.8 574.4 390.6M601.7 358.8Q603.3 356.7 607.2 353.6M605.9 425.2Q596.9 413.2 588.9 401.4M611.5 328.0Q616.3 335.0 612.6 341.5M545.1 408.7Q549.4 413.4 548.7 414.7M618.1 421.1Q613.9 420.6 613.0 420.3M659.4 366.9Q664.7 354.4 660.8 346.0M601.7 358.8Q606.7 364.4 603.3 368.7M555.6 334.5Q560.1 331.0 565.4 324.3M565.4 324.3Q565.4 320.7 568.2 318.8M635.9 366.9Q637.3 366.4 635.1 364.2M574.4 390.6Q575.4 394.7 582.9 397.4M597.0 340.8Q602.0 343.8 604.9 345.0M516.5 332.5Q511.2 324.1 506.6 324.1M512.3 385.0Q521.3 383.7 529.9 375.5M517.8 350.3Q523.1 353.5 530.7 352.1M591.3 342.4Q593.3 344.1 597.0 340.8M597.9 371.3Q594.2 367.1 587.8 363.4" fill="none" stroke="#a4a4a4" stroke-width="1.0" opacity="0.3" filter="url(#soft)"/>
<path d="M571.6 370.6Q573.3 379.5 574.2 389.9M571.6 370.6Q555.7 367.0 535.9 364.7M623.6 377.4Q631.0 371.6 635.9 366.9M514.7 414.1Q514.7 415.3 519.5 411.5M659.4 366.9Q660.7 370.1 657.4 370.6M534.5 405.9Q536.3 406.1 535.4 398.3M660.8 346.0Q649.6 342.0 642.0 336.7M535.9 364.7Q533.7 361.1 532.5 353.2M641.3 411.8Q641.4 416.0 642.2 411.2M668.2 423.9Q669.0 425.3 667.7 422.0M612.6 341.5Q614.5 342.7 613.7 341.6M564.5 423.2Q559.9 421.7 550.7 418.2M667.7 422.0Q652.1 415.8 642.2 411.2M607.2 353.6Q607.2 358.4 609.3 354.7M642.0 336.7Q637.3 337.3 638.0 341.9M613.0 420.3Q608.6 421.3 605.9 425.2M675.2 401.6Q674.0 390.6 669.3 375.6M610.4 355.6Q607.7 361.2 609.5 370.4M610.4 355.6Q612.1 356.7 609.3 354.7M548.7 414.7Q565.8 410.0 583.2 402.9M517.8 350.3Q514.0 341.7 516.5 332.5M639.4 419.0Q638.7 419.5 641.3 411.8M581.1 337.9Q573.8 340.4 561.0 341.6M677.8 403.0Q679.5 414.2 667.7 422.0M616.9 375.4Q622.9 378.1 623.6 377.4M645.7 320.0Q647.9 332.4 642.0 336.7M532.5 353.2Q535.6 352.1 530.7 352.1M535.7 365.8Q533.5 371.8 529.9 375.5M581.1 337.9Q578.5 333.5 581.8 328.5M519.5 411.5Q515.1 398.1 512.3 385.0M635.1 364.2Q623.2 363.0 610.4 355.6M550.7 418.2Q552.9 416.3 548.7 414.7M564.9 423.2Q564.0 424.1 564.5 423.2M555.7 339.1Q563.2 337.1 555.6 334.5M609.5 370.4Q606.3 368.0 603.3 368.7M634.8 350.5Q638.2 345.6 638.0 341.9M660.8 346.0Q667.3 343.6 677.5 337.7M620.9 389.2Q621.6 384.4 623.6 377.4M561.0 341.6Q558.6 343.6 555.7 339.1M582.0 405.8Q578.0 404.3 583.2 402.9M639.4 419.0Q627.3 421.8 618.1 421.1M597.9 371.3Q600.8 368.6 603.3 368.7" fill="none" stroke="#a4a4a4" stroke-width="1.2" opacity="0.5" filter="url(#soft)"/>
<path d="M673.8 378.3L676.8 379.4M605.7 377.9L609.1 378.1M535.8 370.5L538.9 366.5M579.0 357.5L582.2 363.9M629.9 333.1L627.7 335.6M635.3 327.6L627.5 331.4M607.7 374.1L615.7 375.4M650.1 325.1L657.3 325.9M588.4 403.4L583.4 399.6M607.8 339.1L616.4 334.7M592.3 335.2L593.9 338.6M641.9 416.2L648.8 420.9M617.8 398.0L614.0 402.4M569.3 352.3L568.0 347.9M513.5 327.2L516.0 320.6M594.9 323.4L597.1 331.3M644.5 344.0L641.3 345.2M549.2 341.2L546.0 337.9M630.2 407.7L638.4 408.1M609.7 365.4L609.1 361.8M628.4 365.1L630.9 369.9M584.0 324.7L585.1 315.6M549.7 391.4L558.9 392.6M667.2 370.5L674.7 376.7M514.9 340.3L514.9 345.3M673.4 406.9L670.4 413.5M632.6 367.8L633.0 364.6M611.7 329.3L612.2 334.1M600.8 407.8L599.4 400.7M664.9 411.3L665.1 418.7M545.6 386.8L541.8 392.0M550.5 414.4L557.7 413.5M619.1 419.5L627.7 420.3M624.0 380.9L616.8 383.2M537.8 358.6L540.4 362.8M572.5 383.9L572.3 392.0M590.0 402.3L595.8 401.3M570.0 333.9L563.4 335.6M543.5 394.1L548.4 387.7M673.5 405.7L679.8 412.6M605.4 343.7L613.8 342.7M599.1 399.9L591.9 403.4M660.3 405.5L667.9 404.4M578.4 400.7L578.9 397.4M594.2 411.9L601.6 416.5M566.0 370.6L570.2 378.4M660.0 383.2L667.7 378.6M528.4 400.7L524.8 397.1M594.9 348.3L598.3 349.0M650.2 413.4L658.3 418.6M574.6 410.7L566.0 410.0M586.8 335.7L582.5 334.7M602.2 355.7L604.8 362.4M534.6 335.7L531.9 338.5M562.6 340.6L559.1 343.8M547.4 387.7L538.7 389.1M544.8 326.2L539.7 326.6M604.8 410.8L599.3 418.4M605.8 391.5L609.0 396.4M615.7 392.4L616.2 384.7M532.1 409.1L534.0 414.0M605.6 331.7L602.7 325.3M662.5 392.1L665.6 391.0M521.2 397.3L518.7 389.4M610.1 364.1L606.4 364.6M579.0 324.1L581.2 326.5M553.0 400.9L558.2 394.5M665.6 362.3L662.6 368.5M566.0 334.7L573.3 332.8M602.2 341.2L603.4 338.0M515.9 411.7L519.6 415.4M514.5 383.5L522.2 386.4M565.6 395.9L565.1 388.2M670.0 372.5L663.3 376.4M632.6 361.0L628.7 358.0M631.1 399.9L626.4 393.3M642.8 402.1L648.7 406.7M574.5 407.7L580.2 408.2M632.0 422.6L627.5 427.9M663.7 395.5L672.3 396.2M645.2 356.1L647.2 348.9M617.5 365.6L611.2 373.3M560.8 386.2L559.3 380.2M651.8 366.4L647.4 370.4M557.4 397.1L553.6 388.3M648.1 341.1L642.8 341.8M579.7 350.1L582.3 357.6M557.2 398.9L552.1 392.2M660.9 384.8L659.3 392.5M589.7 323.7L588.8 328.7" stroke="#1c1c1c" stroke-width="0.9" opacity="0.75" fill="none"/>
<circle cx="547.9" cy="346" r="4.5" fill="none" stroke="#eeeeee" stroke-width="2.4" filter="url(#glow)" opacity="0.45"/>
<circle cx="547.9" cy="346" r="3.6" fill="#5a5a5a" stroke="#d0d0d0" stroke-width="1.8" filter="url(#soft)"/>
<circle cx="547.9" cy="346" r="5.4" fill="none" stroke="#262626" stroke-width="0.7" opacity="0.55"/>
<circle cx="537.1" cy="332.2" r="4.5" fill="none" stroke="#eeeeee" stroke-width="2.4" filter="url(#glow)" opacity="0.45"/>
<circle cx="537.1" cy="332.2" r="3.6" fill="#5a5a5a" stroke="#d0d0d0" stroke-width="1.8" filter="url(#soft)"/>
<circle cx="537.1" cy="332.2" r="5.4" fill="none" stroke="#262626" stroke-width="0.7" opacity="0.55"/>
<circle cx="549.7" cy="332.2" r="4.5" fill="none" stroke="#eeeeee" stroke-width="2.4" filter="url(#glow)" opacity="0.45"/>
<circle cx="549.7" cy="332.2" r="3.6" fill="#5a5a5a" stroke="#e4e4e4" stroke-width="1.8" filter="url(#soft)"/>
<circle cx="549.7" cy="332.2" r="5.4" fill="none" stroke="#262626" stroke-width="0.7" opacity="0.55"/>
<circle cx="514.4" cy="335.2" r="4.5" fill="none" stroke="#eeeeee" stroke-width="2.4" filter="url(#glow)" opacity="0.45"/>
<circle cx="514.4" cy="335.2" r="3.6" fill="#5a5a5a" stroke="#d0d0d0" stroke-width="1.8" filter="url(#soft)"/>
<circle cx="514.4" cy="335.2" r="5.4" fill="none" stroke="#262626" stroke-width="0.7" opacity="0.55"/>
<circle cx="516.8" cy="342.4" r="4.5" fill="none" stroke="#eeeeee" stroke-width="2.4" filter="url(#glow)" opacity="0.45"/>
<circle cx="516.8" cy="342.4" r="3.6" fill="#5a5a5a" stroke="#bcbcbc" stroke-width="1.8" filter="url(#soft)"/>
<circle cx="516.8" cy="342.4" r="5.4" fill="none" stroke="#262626" stroke-width="0.7" opacity="0.55"/>
<circle cx="523.4" cy="356.7" r="4.5" fill="none" stroke="#eeeeee" stroke-width="2.4" filter="url(#glow)" opacity="0.45"/>
<circle cx="523.4" cy="356.7" r="3.6" fill="#5a5a5a" stroke="#e4e4e4" stroke-width="1.8" filter="url(#soft)"/>
<circle cx="523.4" cy="356.7" r="5.4" fill="none" stroke="#262626" stroke-width="0.7" opacity="0.55"/>
<circle cx="591" cy="341.2" r="4.5" fill="none" stroke="#eeeeee" stroke-width="2.4" filter="url(#glow)" opacity="0.45"/>
<circle cx="591" cy="341.2" r="3.6" fill="#5a5a5a" stroke="#e4e4e4" stroke-width="1.8" filter="url(#soft)"/>
<circle cx="591" cy="341.2" r="5.4" fill="none" stroke="#262626" stroke-width="0.7" opacity="0.55"/>
<circle cx="579.1" cy="359.1" r="4.5" fill="none" stroke="#eeeeee" stroke-width="2.4" filter="url(#glow)" opacity="0.45"/>
<circle cx="579.1" cy="359.1" r="3.6" fill="#5a5a5a" stroke="#bcbcbc" stroke-width="1.8" filter="url(#soft)"/>
<circle cx="579.1" cy="359.1" r="5.4" fill="none" stroke="#262626" stroke-width="0.7" opacity="0.55"/>
<circle cx="550.3" cy="367.5" r="4.5" fill="none" stroke="#eeeeee" stroke-width="2.4" filter="url(#glow)" opacity="0.45"/>
<circle cx="550.3" cy="367.5" r="3.6" fill="#5a5a5a" stroke="#bcbcbc" stroke-width="1.8" filter="url(#soft)"/>
<circle cx="550.3" cy="367.5" r="5.4" fill="none" stroke="#262626" stroke-width="0.7" opacity="0.55"/>
<circle cx="515.6" cy="370.5" r="4.5" fill="none" stroke="#eeeeee" stroke-width="2.4" filter="url(#glow)" opacity="0.45"/>
<circle cx="515.6" cy="370.5" r="3.6" fill="#5a5a5a" stroke="#e4e4e4" stroke-width="1.8" filter="url(#soft)"/>
<circle cx="515.6" cy="370.5" r="5.4" fill="none" stroke="#262626" stroke-width="0.7" opacity="0.55"/>
<circle cx="534.8" cy="371.1" r="4.5" fill="none" stroke="#eeeeee" stroke-width="2.4" filter="url(#glow)" opacity="0.45"/>
<circle cx="534.8" cy="371.1" r="3.6" fill="#5a5a5a" stroke="#d0d0d0" stroke-width="1.8" filter="url(#soft)"/>
<circle cx="534.8" cy="371.1" r="5.4" fill="none" stroke="#262626" stroke-width="0.7" opacity="0.55"/>
<circle cx="565.3" cy="362.7" r="4.0" fill="none" stroke="#eeeeee" stroke-width="2.4" filter="url(#glow)" opacity="0.45"/>
<circle cx="565.3" cy="362.7" r="3.1" fill="#5a5a5a" stroke="#d0d0d0" stroke-width="1.8" filter="url(#soft)"/>
<circle cx="565.3" cy="362.7" r="4.9" fill="none" stroke="#262626" stroke-width="0.7" opacity="0.55"/>
<circle cx="585" cy="325" r="4.0" fill="none" stroke="#eeeeee" stroke-width="2.4" filter="url(#glow)" opacity="0.45"/>
<circle cx="585" cy="325" r="3.1" fill="#5a5a5a" stroke="#bcbcbc" stroke-width="1.8" filter="url(#soft)"/>
<circle cx="585" cy="325" r="4.9" fill="none" stroke="#262626" stroke-width="0.7" opacity="0.55"/>
<circle cx="552.1" cy="374.4" r="5.5" fill="none" stroke="#eeeeee" stroke-width="2.4" filter="url(#glow)" opacity="0.45"/>
<circle cx="552.1" cy="374.4" r="4.6" fill="#5a5a5a" stroke="#bcbcbc" stroke-width="1.8" filter="url(#soft)"/>
<circle cx="552.1" cy="374.4" r="6.3999999999999995" fill="none" stroke="#262626" stroke-width="0.7" opacity="0.55"/>
<circle cx="569.5" cy="381" r="6.0" fill="none" stroke="#eeeeee" stroke-width="2.4" filter="url(#glow)" opacity="0.45"/>
<circle cx="569.5" cy="381" r="5.1" fill="#5a5a5a" stroke="#bcbcbc" stroke-width="1.8" filter="url(#soft)"/>
<circle cx="569.5" cy="381" r="6.8999999999999995" fill="none" stroke="#262626" stroke-width="0.7" opacity="0.55"/>
<circle cx="585.7" cy="384" r="5.0" fill="none" stroke="#eeeeee" stroke-width="2.4" filter="url(#glow)" opacity="0.45"/>
<circle cx="585.7" cy="384" r="4.1" fill="#5a5a5a" stroke="#e4e4e4" stroke-width="1.8" filter="url(#soft)"/>
<circle cx="585.7" cy="384" r="5.8999999999999995" fill="none" stroke="#262626" stroke-width="0.7" opacity="0.55"/>
<circle cx="547.3" cy="388.8" r="5.0" fill="none" stroke="#eeeeee" stroke-width="2.4" filter="url(#glow)" opacity="0.45"/>
<circle cx="547.3" cy="388.8" r="4.1" fill="#5a5a5a" stroke="#d0d0d0" stroke-width="1.8" filter="url(#soft)"/>
<circle cx="547.3" cy="388.8" r="5.8999999999999995" fill="none" stroke="#262626" stroke-width="0.7" opacity="0.55"/>
<circle cx="515.6" cy="399.5" r="5.5" fill="none" stroke="#eeeeee" stroke-width="2.4" filter="url(#glow)" opacity="0.45"/>
<circle cx="515.6" cy="399.5" r="4.6" fill="#5a5a5a" stroke="#d0d0d0" stroke-width="1.8" filter="url(#soft)"/>
<circle cx="515.6" cy="399.5" r="6.3999999999999995" fill="none" stroke="#262626" stroke-width="0.7" opacity="0.55"/>
<circle cx="516.8" cy="385.2" r="4.0" fill="none" stroke="#eeeeee" stroke-width="2.4" filter="url(#glow)" opacity="0.45"/>
<circle cx="516.8" cy="385.2" r="3.1" fill="#5a5a5a" stroke="#d0d0d0" stroke-width="1.8" filter="url(#soft)"/>
<circle cx="516.8" cy="385.2" r="4.9" fill="none" stroke="#262626" stroke-width="0.7" opacity="0.55"/>
<circle cx="523.4" cy="394.8" r="4.0" fill="none" stroke="#eeeeee" stroke-width="2.4" filter="url(#glow)" opacity="0.45"/>
<circle cx="523.4" cy="394.8" r="3.1" fill="#5a5a5a" stroke="#d0d0d0" stroke-width="1.8" filter="url(#soft)"/>
<circle cx="523.4" cy="394.8" r="4.9" fill="none" stroke="#262626" stroke-width="0.7" opacity="0.55"/>
<circle cx="531.2" cy="390" r="4.0" fill="none" stroke="#eeeeee" stroke-width="2.4" filter="url(#glow)" opacity="0.45"/>
<circle cx="531.2" cy="390" r="3.1" fill="#5a5a5a" stroke="#bcbcbc" stroke-width="1.8" filter="url(#soft)"/>
<circle cx="531.2" cy="390" r="4.9" fill="none" stroke="#262626" stroke-width="0.7" opacity="0.55"/>
<circle cx="534.8" cy="399" r="4.0" fill="none" stroke="#eeeeee" stroke-width="2.4" filter="url(#glow)" opacity="0.45"/>
<circle cx="534.8" cy="399" r="3.1" fill="#5a5a5a" stroke="#e4e4e4" stroke-width="1.8" filter="url(#soft)"/>
<circle cx="534.8" cy="399" r="4.9" fill="none" stroke="#262626" stroke-width="0.7" opacity="0.55"/>
<circle cx="530" cy="409.1" r="4.5" fill="none" stroke="#eeeeee" stroke-width="2.4" filter="url(#glow)" opacity="0.45"/>
<circle cx="530" cy="409.1" r="3.6" fill="#5a5a5a" stroke="#d0d0d0" stroke-width="1.8" filter="url(#soft)"/>
<circle cx="530" cy="409.1" r="5.4" fill="none" stroke="#262626" stroke-width="0.7" opacity="0.55"/>
<circle cx="563.5" cy="399" r="4.5" fill="none" stroke="#eeeeee" stroke-width="2.4" filter="url(#glow)" opacity="0.45"/>
<circle cx="563.5" cy="399" r="3.6" fill="#5a5a5a" stroke="#d0d0d0" stroke-width="1.8" filter="url(#soft)"/>
<circle cx="563.5" cy="399" r="5.4" fill="none" stroke="#262626" stroke-width="0.7" opacity="0.55"/>
<circle cx="565.9" cy="407.9" r="5.0" fill="none" stroke="#eeeeee" stroke-width="2.4" filter="url(#glow)" opacity="0.45"/>
<circle cx="565.9" cy="407.9" r="4.1" fill="#5a5a5a" stroke="#e4e4e4" stroke-width="1.8" filter="url(#soft)"/>
<circle cx="565.9" cy="407.9" r="5.8999999999999995" fill="none" stroke="#262626" stroke-width="0.7" opacity="0.55"/>
<circle cx="580.3" cy="402" r="4.5" fill="none" stroke="#eeeeee" stroke-width="2.4" filter="url(#glow)" opacity="0.45"/>
<circle cx="580.3" cy="402" r="3.6" fill="#5a5a5a" stroke="#bcbcbc" stroke-width="1.8" filter="url(#soft)"/>
<circle cx="580.3" cy="402" r="5.4" fill="none" stroke="#262626" stroke-width="0.7" opacity="0.55"/>
<circle cx="551.5" cy="409.1" r="4.5" fill="none" stroke="#eeeeee" stroke-width="2.4" filter="url(#glow)" opacity="0.45"/>
<circle cx="551.5" cy="409.1" r="3.6" fill="#5a5a5a" stroke="#e4e4e4" stroke-width="1.8" filter="url(#soft)"/>
<circle cx="551.5" cy="409.1" r="5.4" fill="none" stroke="#262626" stroke-width="0.7" opacity="0.55"/>
<circle cx="542" cy="417.5" r="4.5" fill="none" stroke="#eeeeee" stroke-width="2.4" filter="url(#glow)" opacity="0.45"/>
<circle cx="542" cy="417.5" r="3.6" fill="#5a5a5a" stroke="#d0d0d0" stroke-width="1.8" filter="url(#soft)"/>
<circle cx="542" cy="417.5" r="5.4" fill="none" stroke="#262626" stroke-width="0.7" opacity="0.55"/>
<circle cx="562.3" cy="418.7" r="4.5" fill="none" stroke="#eeeeee" stroke-width="2.4" filter="url(#glow)" opacity="0.45"/>
<circle cx="562.3" cy="418.7" r="3.6" fill="#5a5a5a" stroke="#e4e4e4" stroke-width="1.8" filter="url(#soft)"/>
<circle cx="562.3" cy="418.7" r="5.4" fill="none" stroke="#262626" stroke-width="0.7" opacity="0.55"/>
<circle cx="579.1" cy="415.1" r="4.5" fill="none" stroke="#eeeeee" stroke-width="2.4" filter="url(#glow)" opacity="0.45"/>
<circle cx="579.1" cy="415.1" r="3.6" fill="#5a5a5a" stroke="#e4e4e4" stroke-width="1.8" filter="url(#soft)"/>
<circle cx="579.1" cy="415.1" r="5.4" fill="none" stroke="#262626" stroke-width="0.7" opacity="0.55"/>
<circle cx="591" cy="419.9" r="4.5" fill="none" stroke="#eeeeee" stroke-width="2.4" filter="url(#glow)" opacity="0.45"/>
<circle cx="591" cy="419.9" r="3.6" fill="#5a5a5a" stroke="#e4e4e4" stroke-width="1.8" filter="url(#soft)"/>
<circle cx="591" cy="419.9" r="5.4" fill="none" stroke="#262626" stroke-width="0.7" opacity="0.55"/>
<circle cx="532.4" cy="375" r="4.5" fill="none" stroke="#eeeeee" stroke-width="2.4" filter="url(#glow)" opacity="0.45"/>
<circle cx="532.4" cy="375" r="3.6" fill="#5a5a5a" stroke="#bcbcbc" stroke-width="1.8" filter="url(#soft)"/>
<circle cx="532.4" cy="375" r="5.4" fill="none" stroke="#262626" stroke-width="0.7" opacity="0.55"/>
<circle cx="525.2" cy="375.6" r="4.0" fill="none" stroke="#eeeeee" stroke-width="2.4" filter="url(#glow)" opacity="0.45"/>
<circle cx="525.2" cy="375.6" r="3.1" fill="#5a5a5a" stroke="#d0d0d0" stroke-width="1.8" filter="url(#soft)"/>
<circle cx="525.2" cy="375.6" r="4.9" fill="none" stroke="#262626" stroke-width="0.7" opacity="0.55"/>
<circle cx="638.9" cy="382.2" r="5.5" fill="none" stroke="#eeeeee" stroke-width="2.4" filter="url(#glow)" opacity="0.45"/>
<circle cx="638.9" cy="382.2" r="4.6" fill="#5a5a5a" stroke="#d0d0d0" stroke-width="1.8" filter="url(#soft)"/>
<circle cx="638.9" cy="382.2" r="6.3999999999999995" fill="none" stroke="#262626" stroke-width="0.7" opacity="0.55"/>
<circle cx="646.1" cy="379.2" r="5.0" fill="none" stroke="#eeeeee" stroke-width="2.4" filter="url(#glow)" opacity="0.45"/>
<circle cx="646.1" cy="379.2" r="4.1" fill="#5a5a5a" stroke="#e4e4e4" stroke-width="1.8" filter="url(#soft)"/>
<circle cx="646.1" cy="379.2" r="5.8999999999999995" fill="none" stroke="#262626" stroke-width="0.7" opacity="0.55"/>
<circle cx="655.1" cy="383.4" r="5.0" fill="none" stroke="#eeeeee" stroke-width="2.4" filter="url(#glow)" opacity="0.45"/>
<circle cx="655.1" cy="383.4" r="4.1" fill="#5a5a5a" stroke="#bcbcbc" stroke-width="1.8" filter="url(#soft)"/>
<circle cx="655.1" cy="383.4" r="5.8999999999999995" fill="none" stroke="#262626" stroke-width="0.7" opacity="0.55"/>
<circle cx="663.5" cy="381" r="5.5" fill="none" stroke="#eeeeee" stroke-width="2.4" filter="url(#glow)" opacity="0.45"/>
<circle cx="663.5" cy="381" r="4.6" fill="#5a5a5a" stroke="#bcbcbc" stroke-width="1.8" filter="url(#soft)"/>
<circle cx="663.5" cy="381" r="6.3999999999999995" fill="none" stroke="#262626" stroke-width="0.7" opacity="0.55"/>
<circle cx="617.4" cy="391.2" r="5.0" fill="none" stroke="#eeeeee" stroke-width="2.4" filter="url(#glow)" opacity="0.45"/>
<circle cx="617.4" cy="391.2" r="4.1" fill="#5a5a5a" stroke="#d0d0d0" stroke-width="1.8" filter="url(#soft)"/>
<circle cx="617.4" cy="391.2" r="5.8999999999999995" fill="none" stroke="#262626" stroke-width="0.7" opacity="0.55"/>
<circle cx="625.1" cy="394.2" r="4.0" fill="none" stroke="#eeeeee" stroke-width="2.4" filter="url(#glow)" opacity="0.45"/>
<circle cx="625.1" cy="394.2" r="3.1" fill="#5a5a5a" stroke="#d0d0d0" stroke-width="1.8" filter="url(#soft)"/>
<circle cx="625.1" cy="394.2" r="4.9" fill="none" stroke="#262626" stroke-width="0.7" opacity="0.55"/>
<circle cx="609.6" cy="385.2" r="4.5" fill="none" stroke="#eeeeee" stroke-width="2.4" filter="url(#glow)" opacity="0.45"/>
<circle cx="609.6" cy="385.2" r="3.6" fill="#5a5a5a" stroke="#e4e4e4" stroke-width="1.8" filter="url(#soft)"/>
<circle cx="609.6" cy="385.2" r="5.4" fill="none" stroke="#262626" stroke-width="0.7" opacity="0.55"/>
<circle cx="602.4" cy="384" r="4.5" fill="none" stroke="#eeeeee" stroke-width="2.4" filter="url(#glow)" opacity="0.45"/>
<circle cx="602.4" cy="384" r="3.6" fill="#5a5a5a" stroke="#d0d0d0" stroke-width="1.8" filter="url(#soft)"/>
<circle cx="602.4" cy="384" r="5.4" fill="none" stroke="#262626" stroke-width="0.7" opacity="0.55"/>
<circle cx="622.7" cy="401.3" r="5.0" fill="none" stroke="#eeeeee" stroke-width="2.4" filter="url(#glow)" opacity="0.45"/>
<circle cx="622.7" cy="401.3" r="4.1" fill="#5a5a5a" stroke="#d0d0d0" stroke-width="1.8" filter="url(#soft)"/>
<circle cx="622.7" cy="401.3" r="5.8999999999999995" fill="none" stroke="#262626" stroke-width="0.7" opacity="0.55"/>
<circle cx="628.7" cy="407.3" r="5.5" fill="none" stroke="#eeeeee" stroke-width="2.4" filter="url(#glow)" opacity="0.45"/>
<circle cx="628.7" cy="407.3" r="4.6" fill="#5a5a5a" stroke="#d0d0d0" stroke-width="1.8" filter="url(#soft)"/>
<circle cx="628.7" cy="407.3" r="6.3999999999999995" fill="none" stroke="#262626" stroke-width="0.7" opacity="0.55"/>
<circle cx="639.5" cy="398.9" r="5.0" fill="none" stroke="#eeeeee" stroke-width="2.4" filter="url(#glow)" opacity="0.45"/>
<circle cx="639.5" cy="398.9" r="4.1" fill="#5a5a5a" stroke="#bcbcbc" stroke-width="1.8" filter="url(#soft)"/>
<circle cx="639.5" cy="398.9" r="5.8999999999999995" fill="none" stroke="#262626" stroke-width="0.7" opacity="0.55"/>
<circle cx="648.5" cy="393.6" r="4.5" fill="none" stroke="#eeeeee" stroke-width="2.4" filter="url(#glow)" opacity="0.45"/>
<circle cx="648.5" cy="393.6" r="3.6" fill="#5a5a5a" stroke="#bcbcbc" stroke-width="1.8" filter="url(#soft)"/>
<circle cx="648.5" cy="393.6" r="5.4" fill="none" stroke="#262626" stroke-width="0.7" opacity="0.55"/>
<circle cx="661.1" cy="395.4" r="4.5" fill="none" stroke="#eeeeee" stroke-width="2.4" filter="url(#glow)" opacity="0.45"/>
<circle cx="661.1" cy="395.4" r="3.6" fill="#5a5a5a" stroke="#d0d0d0" stroke-width="1.8" filter="url(#soft)"/>
<circle cx="661.1" cy="395.4" r="5.4" fill="none" stroke="#262626" stroke-width="0.7" opacity="0.55"/>
<circle cx="668.9" cy="400.1" r="5.5" fill="none" stroke="#eeeeee" stroke-width="2.4" filter="url(#glow)" opacity="0.45"/>
<circle cx="668.9" cy="400.1" r="4.6" fill="#5a5a5a" stroke="#e4e4e4" stroke-width="1.8" filter="url(#soft)"/>
<circle cx="668.9" cy="400.1" r="6.3999999999999995" fill="none" stroke="#262626" stroke-width="0.7" opacity="0.55"/>
<circle cx="654.5" cy="407.9" r="4.5" fill="none" stroke="#eeeeee" stroke-width="2.4" filter="url(#glow)" opacity="0.45"/>
<circle cx="654.5" cy="407.9" r="3.6" fill="#5a5a5a" stroke="#e4e4e4" stroke-width="1.8" filter="url(#soft)"/>
<circle cx="654.5" cy="407.9" r="5.4" fill="none" stroke="#262626" stroke-width="0.7" opacity="0.55"/>
<circle cx="595.8" cy="406.7" r="4.5" fill="none" stroke="#eeeeee" stroke-width="2.4" filter="url(#glow)" opacity="0.45"/>
<circle cx="595.8" cy="406.7" r="3.6" fill="#5a5a5a" stroke="#d0d0d0" stroke-width="1.8" filter="url(#soft)"/>
<circle cx="595.8" cy="406.7" r="5.4" fill="none" stroke="#262626" stroke-width="0.7" opacity="0.55"/>
<circle cx="597.6" cy="397.1" r="4.0" fill="none" stroke="#eeeeee" stroke-width="2.4" filter="url(#glow)" opacity="0.45"/>
<circle cx="597.6" cy="397.1" r="3.1" fill="#5a5a5a" stroke="#bcbcbc" stroke-width="1.8" filter="url(#soft)"/>
<circle cx="597.6" cy="397.1" r="4.9" fill="none" stroke="#262626" stroke-width="0.7" opacity="0.55"/>
<circle cx="604.2" cy="418.7" r="5.0" fill="none" stroke="#eeeeee" stroke-width="2.4" filter="url(#glow)" opacity="0.45"/>
<circle cx="604.2" cy="418.7" r="4.1" fill="#5a5a5a" stroke="#bcbcbc" stroke-width="1.8" filter="url(#soft)"/>
<circle cx="604.2" cy="418.7" r="5.8999999999999995" fill="none" stroke="#262626" stroke-width="0.7" opacity="0.55"/>
<circle cx="618" cy="416.3" r="5.0" fill="none" stroke="#eeeeee" stroke-width="2.4" filter="url(#glow)" opacity="0.45"/>
<circle cx="618" cy="416.3" r="4.1" fill="#5a5a5a" stroke="#bcbcbc" stroke-width="1.8" filter="url(#soft)"/>
<circle cx="618" cy="416.3" r="5.8999999999999995" fill="none" stroke="#262626" stroke-width="0.7" opacity="0.55"/>
<circle cx="638.3" cy="419.9" r="4.5" fill="none" stroke="#eeeeee" stroke-width="2.4" filter="url(#glow)" opacity="0.45"/>
<circle cx="638.3" cy="419.9" r="3.6" fill="#5a5a5a" stroke="#bcbcbc" stroke-width="1.8" filter="url(#soft)"/>
<circle cx="638.3" cy="419.9" r="5.4" fill="none" stroke="#262626" stroke-width="0.7" opacity="0.55"/>
<circle cx="665.9" cy="418.7" r="4.5" fill="none" stroke="#eeeeee" stroke-width="2.4" filter="url(#glow)" opacity="0.45"/>
<circle cx="665.9" cy="418.7" r="3.6" fill="#5a5a5a" stroke="#e4e4e4" stroke-width="1.8" filter="url(#soft)"/>
<circle cx="665.9" cy="418.7" r="5.4" fill="none" stroke="#262626" stroke-width="0.7" opacity="0.55"/>
<circle cx="620.3" cy="379.2" r="4.5" fill="none" stroke="#eeeeee" stroke-width="2.4" filter="url(#glow)" opacity="0.45"/>
<circle cx="620.3" cy="379.2" r="3.6" fill="#5a5a5a" stroke="#bcbcbc" stroke-width="1.8" filter="url(#soft)"/>
<circle cx="620.3" cy="379.2" r="5.4" fill="none" stroke="#262626" stroke-width="0.7" opacity="0.55"/>
<circle cx="606" cy="374.4" r="4.0" fill="none" stroke="#eeeeee" stroke-width="2.4" filter="url(#glow)" opacity="0.45"/>
<circle cx="606" cy="374.4" r="3.1" fill="#5a5a5a" stroke="#d0d0d0" stroke-width="1.8" filter="url(#soft)"/>
<circle cx="606" cy="374.4" r="4.9" fill="none" stroke="#262626" stroke-width="0.7" opacity="0.55"/>
<circle cx="601.2" cy="325.6" r="5.5" fill="none" stroke="#eeeeee" stroke-width="2.4" filter="url(#glow)" opacity="0.45"/>
<circle cx="601.2" cy="325.6" r="4.6" fill="#5a5a5a" stroke="#e4e4e4" stroke-width="1.8" filter="url(#soft)"/>
<circle cx="601.2" cy="325.6" r="6.3999999999999995" fill="none" stroke="#262626" stroke-width="0.7" opacity="0.55"/>
<circle cx="630" cy="332.2" r="5.5" fill="none" stroke="#eeeeee" stroke-width="2.4" filter="url(#glow)" opacity="0.45"/>
<circle cx="630" cy="332.2" r="4.6" fill="#5a5a5a" stroke="#bcbcbc" stroke-width="1.8" filter="url(#soft)"/>
<circle cx="630" cy="332.2" r="6.3999999999999995" fill="none" stroke="#262626" stroke-width="0.7" opacity="0.55"/>
<circle cx="644.3" cy="325.6" r="4.5" fill="none" stroke="#eeeeee" stroke-width="2.4" filter="url(#glow)" opacity="0.45"/>
<circle cx="644.3" cy="325.6" r="3.6" fill="#5a5a5a" stroke="#e4e4e4" stroke-width="1.8" filter="url(#soft)"/>
<circle cx="644.3" cy="325.6" r="5.4" fill="none" stroke="#262626" stroke-width="0.7" opacity="0.55"/>
<circle cx="658.7" cy="325" r="4.5" fill="none" stroke="#eeeeee" stroke-width="2.4" filter="url(#glow)" opacity="0.45"/>
<circle cx="658.7" cy="325" r="3.6" fill="#5a5a5a" stroke="#bcbcbc" stroke-width="1.8" filter="url(#soft)"/>
<circle cx="658.7" cy="325" r="5.4" fill="none" stroke="#262626" stroke-width="0.7" opacity="0.55"/>
<circle cx="662.3" cy="337.6" r="5.5" fill="none" stroke="#eeeeee" stroke-width="2.4" filter="url(#glow)" opacity="0.45"/>
<circle cx="662.3" cy="337.6" r="4.6" fill="#5a5a5a" stroke="#e4e4e4" stroke-width="1.8" filter="url(#soft)"/>
<circle cx="662.3" cy="337.6" r="6.3999999999999995" fill="none" stroke="#262626" stroke-width="0.7" opacity="0.55"/>
<circle cx="670.6" cy="343" r="5.0" fill="none" stroke="#eeeeee" stroke-width="2.4" filter="url(#glow)" opacity="0.45"/>
<circle cx="670.6" cy="343" r="4.1" fill="#5a5a5a" stroke="#d0d0d0" stroke-width="1.8" filter="url(#soft)"/>
<circle cx="670.6" cy="343" r="5.8999999999999995" fill="none" stroke="#262626" stroke-width="0.7" opacity="0.55"/>
<circle cx="671.8" cy="353.7" r="4.5" fill="none" stroke="#eeeeee" stroke-width="2.4" filter="url(#glow)" opacity="0.45"/>
<circle cx="671.8" cy="353.7" r="3.6" fill="#5a5a5a" stroke="#e4e4e4" stroke-width="1.8" filter="url(#soft)"/>
<circle cx="671.8" cy="353.7" r="5.4" fill="none" stroke="#262626" stroke-width="0.7" opacity="0.55"/>
<circle cx="665.9" cy="360.9" r="5.5" fill="none" stroke="#eeeeee" stroke-width="2.4" filter="url(#glow)" opacity="0.45"/>
<circle cx="665.9" cy="360.9" r="4.6" fill="#5a5a5a" stroke="#e4e4e4" stroke-width="1.8" filter="url(#soft)"/>
<circle cx="665.9" cy="360.9" r="6.3999999999999995" fill="none" stroke="#262626" stroke-width="0.7" opacity="0.55"/>
<circle cx="644.3" cy="346" r="5.5" fill="none" stroke="#eeeeee" stroke-width="2.4" filter="url(#glow)" opacity="0.45"/>
<circle cx="644.3" cy="346" r="4.6" fill="#5a5a5a" stroke="#bcbcbc" stroke-width="1.8" filter="url(#soft)"/>
<circle cx="644.3" cy="346" r="6.3999999999999995" fill="none" stroke="#262626" stroke-width="0.7" opacity="0.55"/>
<circle cx="627.5" cy="354.3" r="5.5" fill="none" stroke="#eeeeee" stroke-width="2.4" filter="url(#glow)" opacity="0.45"/>
<circle cx="627.5" cy="354.3" r="4.6" fill="#5a5a5a" stroke="#d0d0d0" stroke-width="1.8" filter="url(#soft)"/>
<circle cx="627.5" cy="354.3" r="6.3999999999999995" fill="none" stroke="#262626" stroke-width="0.7" opacity="0.55"/>
<circle cx="634.7" cy="350.7" r="4.5" fill="none" stroke="#eeeeee" stroke-width="2.4" filter="url(#glow)" opacity="0.45"/>
<circle cx="634.7" cy="350.7" r="3.6" fill="#5a5a5a" stroke="#e4e4e4" stroke-width="1.8" filter="url(#soft)"/>
<circle cx="634.7" cy="350.7" r="5.4" fill="none" stroke="#262626" stroke-width="0.7" opacity="0.55"/>
<circle cx="634.7" cy="363.9" r="5.0" fill="none" stroke="#eeeeee" stroke-width="2.4" filter="url(#glow)" opacity="0.45"/>
<circle cx="634.7" cy="363.9" r="4.1" fill="#5a5a5a" stroke="#d0d0d0" stroke-width="1.8" filter="url(#soft)"/>
<circle cx="634.7" cy="363.9" r="5.8999999999999995" fill="none" stroke="#262626" stroke-width="0.7" opacity="0.55"/>
<circle cx="649.1" cy="366.3" r="5.0" fill="none" stroke="#eeeeee" stroke-width="2.4" filter="url(#glow)" opacity="0.45"/>
<circle cx="649.1" cy="366.3" r="4.1" fill="#5a5a5a" stroke="#e4e4e4" stroke-width="1.8" filter="url(#soft)"/>
<circle cx="649.1" cy="366.3" r="5.8999999999999995" fill="none" stroke="#262626" stroke-width="0.7" opacity="0.55"/>
<circle cx="652.7" cy="354.9" r="4.5" fill="none" stroke="#eeeeee" stroke-width="2.4" filter="url(#glow)" opacity="0.45"/>
<circle cx="652.7" cy="354.9" r="3.6" fill="#5a5a5a" stroke="#e4e4e4" stroke-width="1.8" filter="url(#soft)"/>
<circle cx="652.7" cy="354.9" r="5.4" fill="none" stroke="#262626" stroke-width="0.7" opacity="0.55"/>
<circle cx="597.6" cy="341.2" r="5.0" fill="none" stroke="#eeeeee" stroke-width="2.4" filter="url(#glow)" opacity="0.45"/>
<circle cx="597.6" cy="341.2" r="4.1" fill="#5a5a5a" stroke="#bcbcbc" stroke-width="1.8" filter="url(#soft)"/>
<circle cx="597.6" cy="341.2" r="5.8999999999999995" fill="none" stroke="#262626" stroke-width="0.7" opacity="0.55"/>
<circle cx="603.6" cy="340" r="4.5" fill="none" stroke="#eeeeee" stroke-width="2.4" filter="url(#glow)" opacity="0.45"/>
<circle cx="603.6" cy="340" r="3.6" fill="#5a5a5a" stroke="#bcbcbc" stroke-width="1.8" filter="url(#soft)"/>
<circle cx="603.6" cy="340" r="5.4" fill="none" stroke="#262626" stroke-width="0.7" opacity="0.55"/>
<circle cx="601.2" cy="350.1" r="5.0" fill="none" stroke="#eeeeee" stroke-width="2.4" filter="url(#glow)" opacity="0.45"/>
<circle cx="601.2" cy="350.1" r="4.1" fill="#5a5a5a" stroke="#e4e4e4" stroke-width="1.8" filter="url(#soft)"/>
<circle cx="601.2" cy="350.1" r="5.8999999999999995" fill="none" stroke="#262626" stroke-width="0.7" opacity="0.55"/>
<circle cx="607.2" cy="350.7" r="4.5" fill="none" stroke="#eeeeee" stroke-width="2.4" filter="url(#glow)" opacity="0.45"/>
<circle cx="607.2" cy="350.7" r="3.6" fill="#5a5a5a" stroke="#d0d0d0" stroke-width="1.8" filter="url(#soft)"/>
<circle cx="607.2" cy="350.7" r="5.4" fill="none" stroke="#262626" stroke-width="0.7" opacity="0.55"/>
<circle cx="596.4" cy="361.5" r="5.0" fill="none" stroke="#eeeeee" stroke-width="2.4" filter="url(#glow)" opacity="0.45"/>
<circle cx="596.4" cy="361.5" r="4.1" fill="#5a5a5a" stroke="#bcbcbc" stroke-width="1.8" filter="url(#soft)"/>
<circle cx="596.4" cy="361.5" r="5.8999999999999995" fill="none" stroke="#262626" stroke-width="0.7" opacity="0.55"/>
<circle cx="606" cy="360.3" r="5.0" fill="none" stroke="#eeeeee" stroke-width="2.4" filter="url(#glow)" opacity="0.45"/>
<circle cx="606" cy="360.3" r="4.1" fill="#5a5a5a" stroke="#bcbcbc" stroke-width="1.8" filter="url(#soft)"/>
<circle cx="606" cy="360.3" r="5.8999999999999995" fill="none" stroke="#262626" stroke-width="0.7" opacity="0.55"/>
<circle cx="615.6" cy="365.1" r="4.5" fill="none" stroke="#eeeeee" stroke-width="2.4" filter="url(#glow)" opacity="0.45"/>
<circle cx="615.6" cy="365.1" r="3.6" fill="#5a5a5a" stroke="#bcbcbc" stroke-width="1.8" filter="url(#soft)"/>
<circle cx="615.6" cy="365.1" r="5.4" fill="none" stroke="#262626" stroke-width="0.7" opacity="0.55"/>
<circle cx="601.2" cy="369.9" r="4.5" fill="none" stroke="#eeeeee" stroke-width="2.4" filter="url(#glow)" opacity="0.45"/>
<circle cx="601.2" cy="369.9" r="3.6" fill="#5a5a5a" stroke="#bcbcbc" stroke-width="1.8" filter="url(#soft)"/>
<circle cx="601.2" cy="369.9" r="5.4" fill="none" stroke="#262626" stroke-width="0.7" opacity="0.55"/>
<circle cx="618" cy="340" r="4.5" fill="none" stroke="#eeeeee" stroke-width="2.4" filter="url(#glow)" opacity="0.45"/>
<circle cx="618" cy="340" r="3.6" fill="#5a5a5a" stroke="#d0d0d0" stroke-width="1.8" filter="url(#soft)"/>
<circle cx="618" cy="340" r="5.4" fill="none" stroke="#262626" stroke-width="0.7" opacity="0.55"/>
<circle cx="619.1" cy="347.1" r="4.5" fill="none" stroke="#eeeeee" stroke-width="2.4" filter="url(#glow)" opacity="0.45"/>
<circle cx="619.1" cy="347.1" r="3.6" fill="#5a5a5a" stroke="#d0d0d0" stroke-width="1.8" filter="url(#soft)"/>
<circle cx="619.1" cy="347.1" r="5.4" fill="none" stroke="#262626" stroke-width="0.7" opacity="0.55"/>
</g>
<rect x="512.20" y="424.40" width="163.00" height="20.60" fill="#000" stroke="none" stroke-width="1" />
<text x="24.00" y="437.40" font-size="9.4" text-anchor="start" font-weight="bold" font-style="normal" fill="#fff" >DMSO</text>
<text x="191.20" y="437.20" font-size="9.4" text-anchor="start" font-weight="bold" font-style="normal" fill="#fff" >CuCl<tspan font-size="6.5" dy="1.8">2</tspan></text>
<text x="358.80" y="437.00" font-size="9.4" text-anchor="start" font-weight="bold" font-style="normal" fill="#fff" >Dynasore</text>
<text x="525.80" y="437.00" font-size="9.4" text-anchor="start" font-weight="bold" font-style="normal" fill="#fff" >Dynasore + CuCl<tspan font-size="6.5" dy="1.8">2</tspan></text>
<text x="649.80" y="435.00" font-size="7.4" text-anchor="middle" font-weight="normal" font-style="normal" fill="#fff" >100 µm</text>
<rect x="633.40" y="438.00" width="32.30" height="4.00" fill="#fff" stroke="none" stroke-width="1" />
</svg>
</body></html>
